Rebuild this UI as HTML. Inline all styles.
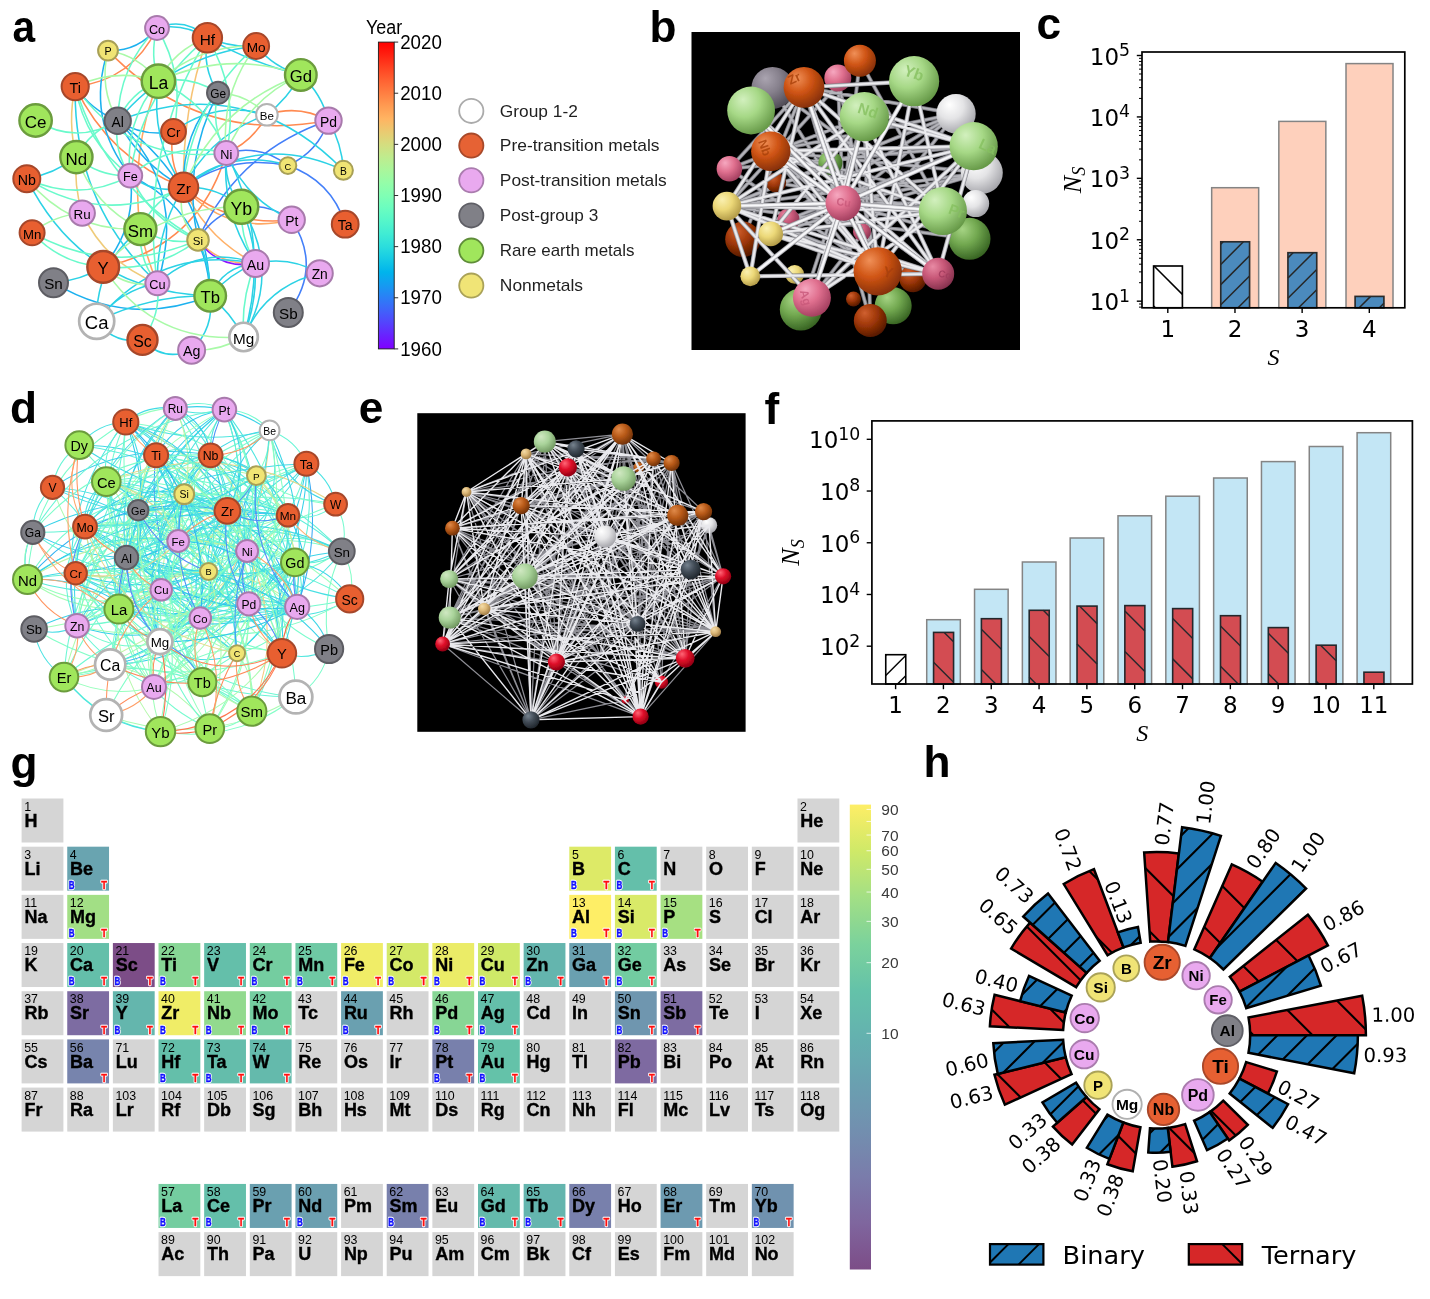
<!DOCTYPE html>
<html lang="en"><head><meta charset="utf-8"><title>Figure</title>
<style>
html,body{margin:0;padding:0;background:#fff;}
body{width:1430px;height:1299px;overflow:hidden;}
svg{display:block;}
text{font-family:"Liberation Sans","DejaVu Sans",sans-serif;}
.dj{font-family:"DejaVu Sans","Liberation Sans",sans-serif;}
.lb{font-family:"Liberation Sans",sans-serif;font-weight:bold;}
</style></head><body>
<svg width="1430" height="1299" viewBox="0 0 1430 1299">
<rect x="0" y="0" width="1430" height="1299" fill="#ffffff"/>
<!-- p_neta -->
<g fill="none" stroke-width="1.55" stroke-linecap="round" opacity="1.0"><path d="M157 28Q132.51 80.2 75.2 86.6" stroke="#ff8a51"/><path d="M108 50.6Q199.35 145.13 328.5 120.6" stroke="#ff8a51"/><path d="M266.9 114.8Q298.98 104.15 328.5 120.6" stroke="#ff8a51"/><path d="M266.9 114.8Q253.48 141.21 226.3 153" stroke="#ff8a51"/><path d="M158.4 81.2Q129.58 152.74 140.4 229.1" stroke="#ffa863"/><path d="M140.4 229.1Q146.19 257.05 157.4 283.3" stroke="#ffa863"/><path d="M75.2 86.6Q109.21 158.61 183.5 187.3" stroke="#ff8a51"/><path d="M103.2 266.9Q198.92 246.88 226.3 153" stroke="#ff8a51"/><path d="M183.5 187.3Q230.45 227.35 291.7 219.8" stroke="#ff8a51"/><path d="M183.5 187.3Q227.85 236.01 291.7 219.8" stroke="#ffa863"/><path d="M207.4 37.8Q181.99 110.4 183.5 187.3" stroke="#f7c374"/><path d="M198 239.9Q220.88 266.02 255.5 263.4" stroke="#ffb168"/><path d="M183.5 187.3Q205.8 238.31 255.5 263.4" stroke="#ffb168"/><path d="M173.5 131.5Q167.34 161.4 183.5 187.3" stroke="#ff8a51"/><path d="M75.2 86.6Q67.34 121.99 76.4 157.1" stroke="#efcb79"/><path d="M76.4 157.1Q73.7 185.68 82.2 213.1" stroke="#efcb79"/><path d="M82.2 213.1Q105.76 263.24 157.4 283.3" stroke="#efcb79"/><path d="M226.3 153Q260.25 143.9 287.9 165.6" stroke="#437ff9"/><path d="M287.9 165.6Q318.1 152.03 328.5 120.6" stroke="#437ff9"/><path d="M287.9 165.6Q331.2 180.57 345.2 224.2" stroke="#437ff9"/><path d="M287.9 165.6Q230.93 153.48 183.5 187.3" stroke="#437ff9"/><path d="M328.5 120.6Q237 151.54 198 239.9" stroke="#437ff9"/><path d="M198 239.9Q213.03 214.69 241.3 206.8" stroke="#437ff9"/><path d="M241.3 206.8Q269.1 203.22 291.7 219.8" stroke="#437ff9"/><path d="M291.7 219.8Q322.44 267.34 288.3 312.5" stroke="#437ff9"/><path d="M198 239.9Q219.23 270.05 255.5 263.4" stroke="#8a14ff"/><path d="M157 28Q138.15 51.55 108 50.6" stroke="#1cb1ef"/><path d="M75.2 86.6Q91.32 110.07 117.7 120.8" stroke="#1cb1ef"/><path d="M108 50.6Q85.4 119.12 130.3 175.6" stroke="#1cb1ef"/><path d="M117.7 120.8Q187.93 189.74 157.4 283.3" stroke="#1cb1ef"/><path d="M117.7 120.8Q143.46 137.31 173.5 131.5" stroke="#1cb1ef"/><path d="M117.7 120.8Q140.62 163.92 183.5 187.3" stroke="#1cb1ef"/><path d="M117.7 120.8Q207.7 185.18 210.2 295.8" stroke="#1cb1ef"/><path d="M218.1 92.8Q181.9 133.13 183.5 187.3" stroke="#1cb1ef"/><path d="M218.1 92.8Q181.57 162.73 198 239.9" stroke="#1cb1ef"/><path d="M53.5 282.7Q128.57 328.43 210.2 295.8" stroke="#1cb1ef"/><path d="M287.9 165.6Q229.62 147.22 183.5 187.3" stroke="#2cd2e5"/><path d="M130.3 175.6Q206.31 211.73 210.2 295.8" stroke="#1cb1ef"/><path d="M103.2 266.9Q136.84 227.21 130.3 175.6" stroke="#1cb1ef"/><path d="M157 28Q184.16 22.82 207.4 37.8" stroke="#2cd2e5"/><path d="M157 28Q185.34 16.77 207.4 37.8" stroke="#2cd2e5"/><path d="M207.4 37.8Q230.82 47.76 256.2 46" stroke="#2cd2e5"/><path d="M207.4 37.8Q251.5 62.89 300.8 74.9" stroke="#2cd2e5"/><path d="M256.2 46Q273.88 67.59 300.8 74.9" stroke="#2cd2e5"/><path d="M300.8 74.9Q287.84 98.24 266.9 114.8" stroke="#2cd2e5"/><path d="M300.8 74.9Q321.5 93.59 328.5 120.6" stroke="#2cd2e5"/><path d="M328.5 120.6Q341.91 143.66 343.4 170.3" stroke="#2cd2e5"/><path d="M256.2 46Q171.99 55.7 117.7 120.8" stroke="#2cd2e5"/><path d="M207.4 37.8Q201.75 67.44 218.1 92.8" stroke="#2cd2e5"/><path d="M26.8 178.7Q54.19 173.85 76.4 157.1" stroke="#2cd2e5"/><path d="M26.8 178.7Q83.37 292.27 210.2 295.8" stroke="#2cd2e5"/><path d="M96.7 321.3Q119.45 290.16 157.4 283.3" stroke="#2cd2e5"/><path d="M96.7 321.3Q150.39 294.93 210.2 295.8" stroke="#2cd2e5"/><path d="M96.7 321.3Q114.02 344.34 142.5 339.9" stroke="#2cd2e5"/><path d="M142.5 339.9Q163.45 362.23 191.6 350.2" stroke="#2cd2e5"/><path d="M191.6 350.2Q214.5 327.65 210.2 295.8" stroke="#2cd2e5"/><path d="M210.2 295.8Q231.02 313.06 243.6 337" stroke="#2cd2e5"/><path d="M243.6 337Q265.72 286.12 319.7 273.3" stroke="#2cd2e5"/><path d="M243.6 337Q268.49 271.44 241.3 206.8" stroke="#2cd2e5"/><path d="M255.5 263.4Q289.58 255.51 319.7 273.3" stroke="#2cd2e5"/><path d="M255.5 263.4Q228.96 274.16 210.2 295.8" stroke="#2cd2e5"/><path d="M255.5 263.4Q223.13 266.01 210.2 295.8" stroke="#2cd2e5"/><path d="M210.2 295.8Q210.81 266.39 198 239.9" stroke="#2cd2e5"/><path d="M53.5 282.7Q80.25 280.76 103.2 266.9" stroke="#2cd2e5"/><path d="M96.7 321.3Q95.5 264.27 140.4 229.1" stroke="#2cd2e5"/><path d="M183.5 187.3Q258.35 130.83 343.4 170.3" stroke="#2cd2e5"/><path d="M117.7 120.8Q246.88 71.07 343.4 170.3" stroke="#2cd2e5"/><path d="M226.3 153Q245.64 199.48 291.7 219.8" stroke="#2cd2e5"/><path d="M226.3 153Q221.03 213.46 255.5 263.4" stroke="#2cd2e5"/><path d="M226.3 153Q223.04 182.9 241.3 206.8" stroke="#2cd2e5"/><path d="M157.4 283.3Q200.48 243.92 255.5 263.4" stroke="#2cd2e5"/><path d="M96.7 321.3Q158.73 244.71 255.5 263.4" stroke="#2cd2e5"/><path d="M75.2 86.6Q73.03 203.03 157.4 283.3" stroke="#2cd2e5"/><path d="M183.5 187.3Q210.7 134.37 266.9 114.8" stroke="#2cd2e5"/><path d="M173.5 131.5Q216.02 99.8 266.9 114.8" stroke="#2cd2e5"/><path d="M226.3 153Q271.75 241.54 243.6 337" stroke="#2cd2e5"/><path d="M241.3 206.8Q281.51 271.21 243.6 337" stroke="#2cd2e5"/><path d="M158.4 81.2Q149.73 139.27 183.5 187.3" stroke="#2cd2e5"/><path d="M183.5 187.3Q216.3 185.49 241.3 206.8" stroke="#2cd2e5"/><path d="M183.5 187.3Q156.05 231.39 157.4 283.3" stroke="#2cd2e5"/><path d="M130.3 175.6Q153.97 194.75 183.5 187.3" stroke="#2cd2e5"/><path d="M157 28Q149.72 54.81 158.4 81.2" stroke="#6afacb"/><path d="M157 28Q118.79 66.54 117.7 120.8" stroke="#6afacb"/><path d="M157 28Q185.95 76.45 173.5 131.5" stroke="#6afacb"/><path d="M158.4 81.2Q130.13 92.86 117.7 120.8" stroke="#6afacb"/><path d="M158.4 81.2Q208.15 102.16 226.3 153" stroke="#6afacb"/><path d="M158.4 81.2Q123.58 122.22 130.3 175.6" stroke="#6afacb"/><path d="M158.4 81.2Q190.57 75.06 218.1 92.8" stroke="#6afacb"/><path d="M35.6 120.5Q76.56 145.28 117.7 120.8" stroke="#6afacb"/><path d="M32.1 232.8Q60.83 264.07 103.2 266.9" stroke="#6afacb"/><path d="M32.1 232.8Q113.28 277.83 198 239.9" stroke="#6afacb"/><path d="M26.8 178.7Q79.33 203.02 130.3 175.6" stroke="#6afacb"/><path d="M26.8 178.7Q102.74 226.88 183.5 187.3" stroke="#6afacb"/><path d="M207.4 37.8Q141.29 91.28 130.3 175.6" stroke="#6afacb"/><path d="M207.4 37.8Q239.89 91.62 226.3 153" stroke="#6afacb"/><path d="M207.4 37.8Q138.21 151.55 157.4 283.3" stroke="#6afacb"/><path d="M75.2 86.6Q105.94 187.81 198 239.9" stroke="#6afacb"/><path d="M75.2 86.6Q84.95 142.12 130.3 175.6" stroke="#6afacb"/><path d="M75.2 86.6Q130.83 165.13 226.3 153" stroke="#6afacb"/><path d="M256.2 46Q191.59 102.11 183.5 187.3" stroke="#6afacb"/><path d="M142.5 339.9Q161.27 314.58 157.4 283.3" stroke="#6afacb"/><path d="M103.2 266.9Q156 272.36 198 239.9" stroke="#6afacb"/><path d="M140.4 229.1Q153.59 199.58 183.5 187.3" stroke="#6afacb"/><path d="M140.4 229.1Q138.06 259.6 157.4 283.3" stroke="#6afacb"/><path d="M76.4 157.1Q99.65 177.13 130.3 175.6" stroke="#6afacb"/><path d="M76.4 157.1Q89.79 130.69 117.7 120.8" stroke="#6afacb"/><path d="M130.3 175.6Q151.29 221.29 198 239.9" stroke="#6afacb"/><path d="M243.6 337Q240.72 298.77 255.5 263.4" stroke="#6afacb"/><path d="M218.1 92.8Q210.16 124.54 226.3 153" stroke="#6afacb"/><path d="M140.4 229.1Q167.04 246.02 198 239.9" stroke="#6afacb"/><path d="M130.3 175.6Q172.65 140.3 226.3 153" stroke="#6afacb"/><path d="M117.7 120.8Q113.04 150.72 130.3 175.6" stroke="#6afacb"/><path d="M241.3 206.8Q239.91 237.23 255.5 263.4" stroke="#6afacb"/><path d="M108 50.6Q139.32 55.82 158.4 81.2" stroke="#a9faa8"/><path d="M108 50.6Q98.81 87.64 117.7 120.8" stroke="#a9faa8"/><path d="M32.1 232.8Q54.2 215.44 82.2 213.1" stroke="#a9faa8"/><path d="M300.8 74.9Q228.34 49.57 158.4 81.2" stroke="#a9faa8"/><path d="M300.8 74.9Q247.93 99.05 226.3 153" stroke="#a9faa8"/><path d="M300.8 74.9Q217.42 105.29 183.5 187.3" stroke="#a9faa8"/><path d="M256.2 46Q219.85 93.52 226.3 153" stroke="#a9faa8"/><path d="M256.2 46Q200.26 44.04 158.4 81.2" stroke="#a9faa8"/><path d="M103.2 266.9Q152.37 344.07 243.6 337" stroke="#a9faa8"/><path d="M191.6 350.2Q219.58 351.4 243.6 337" stroke="#a9faa8"/><path d="M103.2 266.9Q126.2 288.65 157.4 283.3" stroke="#a9faa8"/><path d="M26.8 178.7Q71 232.3 140.4 229.1" stroke="#a9faa8"/><path d="M76.4 157.1Q94 205.9 140.4 229.1" stroke="#a9faa8"/><path d="M207.4 37.8Q174.22 49.7 158.4 81.2" stroke="#a9faa8"/><path d="M266.9 114.8Q246.9 94.04 218.1 92.8" stroke="#a9faa8"/><path d="M183.5 187.3Q174.97 217.95 198 239.9" stroke="#a9faa8"/><path d="M75.2 86.6Q115.72 67.26 158.4 81.2" stroke="#a9faa8"/><path d="M103.2 266.9Q159.03 206.47 241.3 206.8" stroke="#a9faa8"/></g>
<g><circle cx="157" cy="28" r="11.9" fill="#e9a9ef" stroke="#a87aac" stroke-width="2.0"/><circle cx="207.4" cy="37.8" r="14.7" fill="#e85f30" stroke="#a6472a" stroke-width="2.0"/><circle cx="256.2" cy="46" r="12.9" fill="#e85f30" stroke="#a6472a" stroke-width="2.0"/><circle cx="108" cy="50.6" r="9.9" fill="#f0e474" stroke="#a8a056" stroke-width="2.0"/><circle cx="158.4" cy="81.2" r="16.7" fill="#a0e65c" stroke="#6b9c3d" stroke-width="2.4"/><circle cx="300.8" cy="74.9" r="15.8" fill="#a0e65c" stroke="#6b9c3d" stroke-width="2.4"/><circle cx="75.2" cy="86.6" r="13.6" fill="#e85f30" stroke="#a6472a" stroke-width="2.0"/><circle cx="218.1" cy="92.8" r="11.1" fill="#808087" stroke="#5d5d63" stroke-width="2.0"/><circle cx="35.6" cy="120.5" r="16.2" fill="#a0e65c" stroke="#6b9c3d" stroke-width="2.4"/><circle cx="117.7" cy="120.8" r="13.2" fill="#808087" stroke="#5d5d63" stroke-width="2.0"/><circle cx="266.9" cy="114.8" r="10.8" fill="#ffffff" stroke="#b3b3b3" stroke-width="2.0"/><circle cx="328.5" cy="120.6" r="13.2" fill="#e9a9ef" stroke="#a87aac" stroke-width="2.0"/><circle cx="173.5" cy="131.5" r="12.4" fill="#e85f30" stroke="#a6472a" stroke-width="2.0"/><circle cx="76.4" cy="157.1" r="16.1" fill="#a0e65c" stroke="#6b9c3d" stroke-width="2.4"/><circle cx="226.3" cy="153" r="11.9" fill="#e9a9ef" stroke="#a87aac" stroke-width="2.0"/><circle cx="287.9" cy="165.6" r="8.4" fill="#f0e474" stroke="#a8a056" stroke-width="2.0"/><circle cx="343.4" cy="170.3" r="9.5" fill="#f0e474" stroke="#a8a056" stroke-width="2.0"/><circle cx="26.8" cy="178.7" r="13.5" fill="#e85f30" stroke="#a6472a" stroke-width="2.0"/><circle cx="130.3" cy="175.6" r="11.9" fill="#e9a9ef" stroke="#a87aac" stroke-width="2.0"/><circle cx="183.5" cy="187.3" r="14.8" fill="#e85f30" stroke="#a6472a" stroke-width="2.0"/><circle cx="241.3" cy="206.8" r="17" fill="#a0e65c" stroke="#6b9c3d" stroke-width="2.4"/><circle cx="82.2" cy="213.1" r="12.7" fill="#e9a9ef" stroke="#a87aac" stroke-width="2.0"/><circle cx="291.7" cy="219.8" r="13.2" fill="#e9a9ef" stroke="#a87aac" stroke-width="2.0"/><circle cx="345.2" cy="224.2" r="13.4" fill="#e85f30" stroke="#a6472a" stroke-width="2.0"/><circle cx="32.1" cy="232.8" r="12.5" fill="#e85f30" stroke="#a6472a" stroke-width="2.0"/><circle cx="140.4" cy="229.1" r="16" fill="#a0e65c" stroke="#6b9c3d" stroke-width="2.4"/><circle cx="198" cy="239.9" r="10.8" fill="#f0e474" stroke="#a8a056" stroke-width="2.0"/><circle cx="103.2" cy="266.9" r="15.9" fill="#e85f30" stroke="#a6472a" stroke-width="2.4"/><circle cx="255.5" cy="263.4" r="13.5" fill="#e9a9ef" stroke="#a87aac" stroke-width="2.0"/><circle cx="319.7" cy="273.3" r="13.1" fill="#e9a9ef" stroke="#a87aac" stroke-width="2.0"/><circle cx="53.5" cy="282.7" r="14.5" fill="#808087" stroke="#5d5d63" stroke-width="2.0"/><circle cx="157.4" cy="283.3" r="12" fill="#e9a9ef" stroke="#a87aac" stroke-width="2.0"/><circle cx="210.2" cy="295.8" r="15.8" fill="#a0e65c" stroke="#6b9c3d" stroke-width="2.4"/><circle cx="288.3" cy="312.5" r="14.5" fill="#808087" stroke="#5d5d63" stroke-width="2.0"/><circle cx="96.7" cy="321.3" r="17.55" fill="#ffffff" stroke="#b3b3b3" stroke-width="2.7"/><circle cx="142.5" cy="339.9" r="15" fill="#e85f30" stroke="#a6472a" stroke-width="2.4"/><circle cx="243.6" cy="337" r="14.25" fill="#ffffff" stroke="#b3b3b3" stroke-width="2.7"/><circle cx="191.6" cy="350.2" r="13.5" fill="#e9a9ef" stroke="#a87aac" stroke-width="2.0"/></g><g text-anchor="middle" fill="#000"><text x="157" y="33.56" font-size="12.64">Co</text><text x="207.4" y="44.57" font-size="15.39">Hf</text><text x="256.2" y="51.99" font-size="13.62">Mo</text><text x="108" y="55.3" font-size="10.68">P</text><text x="158.4" y="88.92" font-size="17.54">La</text><text x="300.8" y="82.23" font-size="16.66">Gd</text><text x="75.2" y="92.9" font-size="14.31">Ti</text><text x="218.1" y="98.02" font-size="11.86">Ge</text><text x="35.6" y="128" font-size="17.05">Ce</text><text x="117.7" y="126.92" font-size="13.92">Al</text><text x="266.9" y="119.89" font-size="11.56">Be</text><text x="328.5" y="126.72" font-size="13.92">Pd</text><text x="173.5" y="137.28" font-size="13.13">Cr</text><text x="76.4" y="164.56" font-size="16.95">Nd</text><text x="226.3" y="158.56" font-size="12.64">Ni</text><text x="287.9" y="169.65" font-size="9.21">C</text><text x="343.4" y="174.83" font-size="10.29">B</text><text x="26.8" y="184.95" font-size="14.21">Nb</text><text x="130.3" y="181.16" font-size="12.64">Fe</text><text x="183.5" y="194.11" font-size="15.48">Zr</text><text x="241.3" y="214.65" font-size="17.84">Yb</text><text x="82.2" y="219.01" font-size="13.43">Ru</text><text x="291.7" y="225.92" font-size="13.92">Pt</text><text x="345.2" y="230.41" font-size="14.11">Ta</text><text x="32.1" y="238.62" font-size="13.23">Mn</text><text x="140.4" y="236.52" font-size="16.86">Sm</text><text x="198" y="244.99" font-size="11.56">Si</text><text x="103.2" y="274.27" font-size="16.76">Y</text><text x="255.5" y="269.65" font-size="14.21">Au</text><text x="319.7" y="279.38" font-size="13.82">Zn</text><text x="53.5" y="289.38" font-size="15.19">Sn</text><text x="157.4" y="288.91" font-size="12.74">Cu</text><text x="210.2" y="303.13" font-size="16.66">Tb</text><text x="288.3" y="319.18" font-size="15.19">Sb</text><text x="96.7" y="329.45" font-size="18.52">Ca</text><text x="142.5" y="346.89" font-size="15.88">Sc</text><text x="243.6" y="343.73" font-size="15.29">Mg</text><text x="191.6" y="356.45" font-size="14.21">Ag</text></g>
<!-- p_legend -->
<defs><linearGradient id="grain" x1="0" y1="0" x2="0" y2="1"><stop offset="0.000" stop-color="#ff0000"/><stop offset="0.042" stop-color="#ff2111"/><stop offset="0.083" stop-color="#ff4221"/><stop offset="0.125" stop-color="#ff6232"/><stop offset="0.167" stop-color="#ff7f42"/><stop offset="0.208" stop-color="#ff9b52"/><stop offset="0.250" stop-color="#ffb462"/><stop offset="0.292" stop-color="#eaca71"/><stop offset="0.333" stop-color="#d5dd7f"/><stop offset="0.375" stop-color="#bfec8e"/><stop offset="0.417" stop-color="#aaf69b"/><stop offset="0.458" stop-color="#95fda8"/><stop offset="0.500" stop-color="#80ffb4"/><stop offset="0.542" stop-color="#6afdc0"/><stop offset="0.583" stop-color="#55f6ca"/><stop offset="0.625" stop-color="#40ecd4"/><stop offset="0.667" stop-color="#2bdddd"/><stop offset="0.708" stop-color="#15cae5"/><stop offset="0.750" stop-color="#00b4ec"/><stop offset="0.792" stop-color="#159bf1"/><stop offset="0.833" stop-color="#2b7ff6"/><stop offset="0.875" stop-color="#4062fa"/><stop offset="0.917" stop-color="#5542fd"/><stop offset="0.958" stop-color="#6a21fe"/><stop offset="1.000" stop-color="#8000ff"/></linearGradient></defs>
<rect x="378.4" y="42.1" width="15.8" height="306.8" fill="url(#grain)" stroke="#1a1a1a" stroke-width="0.9"/>
<g stroke="#1a1a1a" stroke-width="0.9"><line x1="394.2" y1="42.1" x2="398.2" y2="42.1"/><line x1="394.2" y1="93.23" x2="398.2" y2="93.23"/><line x1="394.2" y1="144.37" x2="398.2" y2="144.37"/><line x1="394.2" y1="195.5" x2="398.2" y2="195.5"/><line x1="394.2" y1="246.63" x2="398.2" y2="246.63"/><line x1="394.2" y1="297.77" x2="398.2" y2="297.77"/><line x1="394.2" y1="348.9" x2="398.2" y2="348.9"/></g>
<g font-size="19.8" fill="#000"><text x="400.2" y="48.8" textLength="41.6" lengthAdjust="spacingAndGlyphs">2020</text><text x="400.2" y="99.93" textLength="41.6" lengthAdjust="spacingAndGlyphs">2010</text><text x="400.2" y="151.07" textLength="41.6" lengthAdjust="spacingAndGlyphs">2000</text><text x="400.2" y="202.2" textLength="41.6" lengthAdjust="spacingAndGlyphs">1990</text><text x="400.2" y="253.33" textLength="41.6" lengthAdjust="spacingAndGlyphs">1980</text><text x="400.2" y="304.47" textLength="41.6" lengthAdjust="spacingAndGlyphs">1970</text><text x="400.2" y="355.6" textLength="41.6" lengthAdjust="spacingAndGlyphs">1960</text></g>
<text x="366.0" y="34.0" font-size="19.6" fill="#000" textLength="36.2" lengthAdjust="spacingAndGlyphs">Year</text>
<circle cx="471.3" cy="110.9" r="12.1" fill="#ffffff" stroke="#ababab" stroke-width="1.8"/>
<text x="499.8" y="116.6" font-size="17" fill="#1f1f1f" textLength="78.0" lengthAdjust="spacingAndGlyphs">Group 1-2</text>
<circle cx="471.3" cy="145.6" r="12.1" fill="#e66234" stroke="#a8492a" stroke-width="1.8"/>
<text x="499.8" y="151.3" font-size="17" fill="#1f1f1f" textLength="159.7" lengthAdjust="spacingAndGlyphs">Pre-transition metals</text>
<circle cx="471.3" cy="180.3" r="12.1" fill="#e9a9ef" stroke="#aa7cae" stroke-width="1.8"/>
<text x="499.8" y="186" font-size="17" fill="#1f1f1f" textLength="167.0" lengthAdjust="spacingAndGlyphs">Post-transition metals</text>
<circle cx="471.3" cy="215.4" r="12.1" fill="#808087" stroke="#5f5f66" stroke-width="1.8"/>
<text x="499.8" y="221.1" font-size="17" fill="#1f1f1f" textLength="98.5" lengthAdjust="spacingAndGlyphs">Post-group 3</text>
<circle cx="471.3" cy="250.6" r="12.1" fill="#a0e65c" stroke="#5f8d39" stroke-width="1.8"/>
<text x="499.8" y="256.3" font-size="17" fill="#1f1f1f" textLength="134.7" lengthAdjust="spacingAndGlyphs">Rare earth metals</text>
<circle cx="471.3" cy="285.6" r="12.1" fill="#f0e476" stroke="#aaa258" stroke-width="1.8"/>
<text x="499.8" y="291.3" font-size="17" fill="#1f1f1f" textLength="83.3" lengthAdjust="spacingAndGlyphs">Nonmetals</text>
<!-- p_imgb -->
<defs><radialGradient id="b_dgreen" cx="0.38" cy="0.33" r="0.75" fx="0.33" fy="0.27"><stop offset="0" stop-color="#a6d484"/><stop offset="0.45" stop-color="#72a850"/><stop offset="1" stop-color="#2f5a1c"/></radialGradient><radialGradient id="b_dorange" cx="0.38" cy="0.33" r="0.75" fx="0.33" fy="0.27"><stop offset="0" stop-color="#d06030"/><stop offset="0.45" stop-color="#a03808"/><stop offset="1" stop-color="#4a1400"/></radialGradient><radialGradient id="b_dpink" cx="0.38" cy="0.33" r="0.75" fx="0.33" fy="0.27"><stop offset="0" stop-color="#e88aa4"/><stop offset="0.45" stop-color="#c85878"/><stop offset="1" stop-color="#7c2c48"/></radialGradient><radialGradient id="b_gray" cx="0.38" cy="0.33" r="0.75" fx="0.33" fy="0.27"><stop offset="0" stop-color="#aaa4b0"/><stop offset="0.45" stop-color="#86808c"/><stop offset="1" stop-color="#48444e"/></radialGradient><radialGradient id="b_green" cx="0.38" cy="0.33" r="0.75" fx="0.33" fy="0.27"><stop offset="0" stop-color="#d2f0be"/><stop offset="0.45" stop-color="#a6d886"/><stop offset="1" stop-color="#5c8f3e"/></radialGradient><radialGradient id="b_orange" cx="0.38" cy="0.33" r="0.75" fx="0.33" fy="0.27"><stop offset="0" stop-color="#f09058"/><stop offset="0.45" stop-color="#cf5414"/><stop offset="1" stop-color="#7a2a04"/></radialGradient><radialGradient id="b_pink" cx="0.38" cy="0.33" r="0.75" fx="0.33" fy="0.27"><stop offset="0" stop-color="#f6a8c0"/><stop offset="0.45" stop-color="#e0708f"/><stop offset="1" stop-color="#9a3858"/></radialGradient><radialGradient id="b_white" cx="0.38" cy="0.33" r="0.75" fx="0.33" fy="0.27"><stop offset="0" stop-color="#ffffff"/><stop offset="0.45" stop-color="#e4e4e6"/><stop offset="1" stop-color="#9c9ca2"/></radialGradient><radialGradient id="b_yellow" cx="0.38" cy="0.33" r="0.75" fx="0.33" fy="0.27"><stop offset="0" stop-color="#faf0b0"/><stop offset="0.45" stop-color="#ecd878"/><stop offset="1" stop-color="#a89040"/></radialGradient><clipPath id="clipb"><rect x="691.5" y="32.0" width="328.5" height="318"/></clipPath><filter id="softb" x="-5%" y="-5%" width="110%" height="110%"><feGaussianBlur stdDeviation="0.5"/></filter></defs>
<rect x="691.5" y="32.0" width="328.5" height="318" fill="#000"/>
<g clip-path="url(#clipb)"><g filter="url(#softb)"><path d="M772.5 87.9L843.2 203.1M837.8 78L843.2 203.1M981.8 172.8L770.8 151.2M981.8 172.8L843.2 203.1M975.7 203.6L726.9 206.1M969.5 238.8L726.9 206.1M969.5 238.8L843.2 203.1M742.9 239.3L942.9 211M800.8 309.5L864.4 116.7M893.2 305.8L770.8 151.2M870.3 320.6L804 87.4M912.9 278.7L770.8 151.2M830.4 163L726.9 206.1M788.5 219.6L973.7 146.2M776.2 182.7L942.9 211M729.4 168.7L973.7 146.2M729.4 168.7L877.7 271.3M956 113.7L726.9 206.1M956 113.7L770.8 151.2M956 113.7L811.9 297.7M859.9 60.8L843.2 203.1M859.9 60.8L726.9 206.1M859.9 60.8L942.9 211M772.5 87.9L942.9 211M981.8 172.8L770.8 233.9M742.9 239.3L956 113.7M870.3 320.6L864.4 116.7M800.8 309.5L973.7 146.2M912.9 278.7L726.9 206.1M837.8 78L877.7 271.3M975.7 203.6L770.8 151.2M956 113.7L843.2 203.1M956 113.7L804 87.4M981.8 172.8L726.9 206.1M975.7 203.6L843.2 203.1M969.5 238.8L770.8 151.2M729.4 168.7L804 87.4M742.9 239.3L804 87.4M729.4 168.7L864.4 116.7M742.9 239.3L843.2 203.1" stroke="#5e5e64" stroke-width="4.0" fill="none" stroke-linecap="round"/><path d="M772.5 87.9L843.2 203.1M837.8 78L843.2 203.1M981.8 172.8L770.8 151.2M981.8 172.8L843.2 203.1M975.7 203.6L726.9 206.1M969.5 238.8L726.9 206.1M969.5 238.8L843.2 203.1M742.9 239.3L942.9 211M800.8 309.5L864.4 116.7M893.2 305.8L770.8 151.2M870.3 320.6L804 87.4M912.9 278.7L770.8 151.2M830.4 163L726.9 206.1M788.5 219.6L973.7 146.2M776.2 182.7L942.9 211M729.4 168.7L973.7 146.2M729.4 168.7L877.7 271.3M956 113.7L726.9 206.1M956 113.7L770.8 151.2M956 113.7L811.9 297.7M859.9 60.8L843.2 203.1M859.9 60.8L726.9 206.1M859.9 60.8L942.9 211M772.5 87.9L942.9 211M981.8 172.8L770.8 233.9M742.9 239.3L956 113.7M870.3 320.6L864.4 116.7M800.8 309.5L973.7 146.2M912.9 278.7L726.9 206.1M837.8 78L877.7 271.3M975.7 203.6L770.8 151.2M956 113.7L843.2 203.1M956 113.7L804 87.4M981.8 172.8L726.9 206.1M975.7 203.6L843.2 203.1M969.5 238.8L770.8 151.2M729.4 168.7L804 87.4M742.9 239.3L804 87.4M729.4 168.7L864.4 116.7M742.9 239.3L843.2 203.1" stroke="#8e8e94" stroke-width="3.12" fill="none" stroke-linecap="round"/><path d="M772.5 87.9L843.2 203.1M837.8 78L843.2 203.1M981.8 172.8L770.8 151.2M981.8 172.8L843.2 203.1M975.7 203.6L726.9 206.1M969.5 238.8L726.9 206.1M969.5 238.8L843.2 203.1M742.9 239.3L942.9 211M800.8 309.5L864.4 116.7M893.2 305.8L770.8 151.2M870.3 320.6L804 87.4M912.9 278.7L770.8 151.2M830.4 163L726.9 206.1M788.5 219.6L973.7 146.2M776.2 182.7L942.9 211M729.4 168.7L973.7 146.2M729.4 168.7L877.7 271.3M956 113.7L726.9 206.1M956 113.7L770.8 151.2M956 113.7L811.9 297.7M859.9 60.8L843.2 203.1M859.9 60.8L726.9 206.1M859.9 60.8L942.9 211M772.5 87.9L942.9 211M981.8 172.8L770.8 233.9M742.9 239.3L956 113.7M870.3 320.6L864.4 116.7M800.8 309.5L973.7 146.2M912.9 278.7L726.9 206.1M837.8 78L877.7 271.3M975.7 203.6L770.8 151.2M956 113.7L843.2 203.1M956 113.7L804 87.4M981.8 172.8L726.9 206.1M975.7 203.6L843.2 203.1M969.5 238.8L770.8 151.2M729.4 168.7L804 87.4M742.9 239.3L804 87.4M729.4 168.7L864.4 116.7M742.9 239.3L843.2 203.1" stroke="#b4b4ba" stroke-width="1.8" fill="none" stroke-linecap="round"/><circle cx="772.5" cy="87.9" r="21" fill="url(#b_gray)"/><circle cx="837.8" cy="78" r="13.5" fill="url(#b_pink)"/><circle cx="981.8" cy="172.8" r="21" fill="url(#b_white)"/><circle cx="975.7" cy="203.6" r="13.5" fill="url(#b_white)"/><circle cx="969.5" cy="238.8" r="21" fill="url(#b_dgreen)"/><circle cx="742.9" cy="239.3" r="17.7" fill="url(#b_dorange)"/><circle cx="800.8" cy="309.5" r="21" fill="url(#b_dgreen)"/><circle cx="893.2" cy="305.8" r="18.5" fill="url(#b_dgreen)"/><circle cx="870.3" cy="320.6" r="16.5" fill="url(#b_dorange)"/><circle cx="912.9" cy="278.7" r="13.5" fill="url(#b_dorange)"/><circle cx="830.4" cy="163" r="12" fill="url(#b_dgreen)"/><circle cx="788.5" cy="219.6" r="11" fill="url(#b_dpink)"/><circle cx="776.2" cy="182.7" r="10" fill="url(#b_dorange)"/><circle cx="853.5" cy="299" r="7.5" fill="url(#b_dorange)"/><circle cx="862" cy="232" r="9" fill="url(#b_dpink)"/><circle cx="794.7" cy="274.3" r="9.4" fill="url(#b_yellow)"/><circle cx="729.4" cy="168.7" r="12.8" fill="url(#b_pink)"/><circle cx="956" cy="113.7" r="19.7" fill="url(#b_white)"/><circle cx="859.9" cy="60.8" r="16" fill="url(#b_orange)"/><path d="M804 87.4L914.1 81.2M804 87.4L973.7 146.2M804 87.4L942.9 211M804 87.4L877.7 271.3M804 87.4L938.2 273.8M804 87.4L726.9 206.1M804 87.4L770.8 233.9M770.8 151.2L973.7 146.2M770.8 151.2L942.9 211M770.8 151.2L877.7 271.3M770.8 151.2L938.2 273.8M770.8 151.2L750.3 276.3M726.9 206.1L864.4 116.7M726.9 206.1L973.7 146.2M726.9 206.1L942.9 211M726.9 206.1L877.7 271.3M726.9 206.1L938.2 273.8M726.9 206.1L750.3 276.3M726.9 206.1L811.9 297.7M770.8 233.9L942.9 211M770.8 233.9L877.7 271.3M770.8 233.9L938.2 273.8M770.8 233.9L864.4 116.7M750.3 276.3L938.2 273.8M811.9 297.7L864.4 116.7M811.9 297.7L942.9 211M811.9 297.7L973.7 146.2M877.7 271.3L864.4 116.7M877.7 271.3L973.7 146.2M877.7 271.3L914.1 81.2M938.2 273.8L864.4 116.7M938.2 273.8L973.7 146.2M751.1 110.5L877.7 271.3M751.1 110.5L938.2 273.8M864.4 116.7L973.7 146.2M914.1 81.2L942.9 211" stroke="#7c7c82" stroke-width="4.4" fill="none" stroke-linecap="round"/><path d="M804 87.4L914.1 81.2M804 87.4L973.7 146.2M804 87.4L942.9 211M804 87.4L877.7 271.3M804 87.4L938.2 273.8M804 87.4L726.9 206.1M804 87.4L770.8 233.9M770.8 151.2L973.7 146.2M770.8 151.2L942.9 211M770.8 151.2L877.7 271.3M770.8 151.2L938.2 273.8M770.8 151.2L750.3 276.3M726.9 206.1L864.4 116.7M726.9 206.1L973.7 146.2M726.9 206.1L942.9 211M726.9 206.1L877.7 271.3M726.9 206.1L938.2 273.8M726.9 206.1L750.3 276.3M726.9 206.1L811.9 297.7M770.8 233.9L942.9 211M770.8 233.9L877.7 271.3M770.8 233.9L938.2 273.8M770.8 233.9L864.4 116.7M750.3 276.3L938.2 273.8M811.9 297.7L864.4 116.7M811.9 297.7L942.9 211M811.9 297.7L973.7 146.2M877.7 271.3L864.4 116.7M877.7 271.3L973.7 146.2M877.7 271.3L914.1 81.2M938.2 273.8L864.4 116.7M938.2 273.8L973.7 146.2M751.1 110.5L877.7 271.3M751.1 110.5L938.2 273.8M864.4 116.7L973.7 146.2M914.1 81.2L942.9 211" stroke="#c4c4c9" stroke-width="3.43" fill="none" stroke-linecap="round"/><path d="M804 87.4L914.1 81.2M804 87.4L973.7 146.2M804 87.4L942.9 211M804 87.4L877.7 271.3M804 87.4L938.2 273.8M804 87.4L726.9 206.1M804 87.4L770.8 233.9M770.8 151.2L973.7 146.2M770.8 151.2L942.9 211M770.8 151.2L877.7 271.3M770.8 151.2L938.2 273.8M770.8 151.2L750.3 276.3M726.9 206.1L864.4 116.7M726.9 206.1L973.7 146.2M726.9 206.1L942.9 211M726.9 206.1L877.7 271.3M726.9 206.1L938.2 273.8M726.9 206.1L750.3 276.3M726.9 206.1L811.9 297.7M770.8 233.9L942.9 211M770.8 233.9L877.7 271.3M770.8 233.9L938.2 273.8M770.8 233.9L864.4 116.7M750.3 276.3L938.2 273.8M811.9 297.7L864.4 116.7M811.9 297.7L942.9 211M811.9 297.7L973.7 146.2M877.7 271.3L864.4 116.7M877.7 271.3L973.7 146.2M877.7 271.3L914.1 81.2M938.2 273.8L864.4 116.7M938.2 273.8L973.7 146.2M751.1 110.5L877.7 271.3M751.1 110.5L938.2 273.8M864.4 116.7L973.7 146.2M914.1 81.2L942.9 211" stroke="#ececef" stroke-width="1.85" fill="none" stroke-linecap="round"/><path d="M843.2 203.1L864.4 116.7M843.2 203.1L914.1 81.2M843.2 203.1L973.7 146.2M843.2 203.1L942.9 211M843.2 203.1L938.2 273.8M843.2 203.1L877.7 271.3M843.2 203.1L811.9 297.7M843.2 203.1L770.8 233.9M843.2 203.1L726.9 206.1M843.2 203.1L770.8 151.2M843.2 203.1L804 87.4M843.2 203.1L751.1 110.5M843.2 203.1L750.3 276.3" stroke="#88888e" stroke-width="4.6" fill="none" stroke-linecap="round"/><path d="M843.2 203.1L864.4 116.7M843.2 203.1L914.1 81.2M843.2 203.1L973.7 146.2M843.2 203.1L942.9 211M843.2 203.1L938.2 273.8M843.2 203.1L877.7 271.3M843.2 203.1L811.9 297.7M843.2 203.1L770.8 233.9M843.2 203.1L726.9 206.1M843.2 203.1L770.8 151.2M843.2 203.1L804 87.4M843.2 203.1L751.1 110.5M843.2 203.1L750.3 276.3" stroke="#d2d2d6" stroke-width="3.59" fill="none" stroke-linecap="round"/><path d="M843.2 203.1L864.4 116.7M843.2 203.1L914.1 81.2M843.2 203.1L973.7 146.2M843.2 203.1L942.9 211M843.2 203.1L938.2 273.8M843.2 203.1L877.7 271.3M843.2 203.1L811.9 297.7M843.2 203.1L770.8 233.9M843.2 203.1L726.9 206.1M843.2 203.1L770.8 151.2M843.2 203.1L804 87.4M843.2 203.1L751.1 110.5M843.2 203.1L750.3 276.3" stroke="#f8f8fa" stroke-width="1.93" fill="none" stroke-linecap="round"/><circle cx="751.1" cy="110.5" r="23.9" fill="url(#b_green)"/><circle cx="804" cy="87.4" r="20.4" fill="url(#b_orange)"/><circle cx="914.1" cy="81.2" r="25.1" fill="url(#b_green)"/><circle cx="864.4" cy="116.7" r="24.6" fill="url(#b_green)"/><circle cx="973.7" cy="146.2" r="24.1" fill="url(#b_green)"/><circle cx="770.8" cy="151.2" r="19.7" fill="url(#b_orange)"/><circle cx="726.9" cy="206.1" r="14.3" fill="url(#b_yellow)"/><circle cx="942.9" cy="211" r="24.1" fill="url(#b_green)"/><circle cx="770.8" cy="233.9" r="12.3" fill="url(#b_yellow)"/><circle cx="938.2" cy="273.8" r="16" fill="url(#b_dpink)"/><circle cx="750.3" cy="276.3" r="9.9" fill="url(#b_yellow)"/><circle cx="811.9" cy="297.7" r="19" fill="url(#b_pink)"/><circle cx="877.7" cy="271.3" r="24.1" fill="url(#b_orange)"/><circle cx="843.2" cy="203.1" r="17.7" fill="url(#b_pink)"/><text transform="translate(843.2,206.1) rotate(8)" font-size="10.97" font-weight="bold" text-anchor="middle" fill="#c8587a" opacity="0.8">Cu</text><text transform="translate(866.4,115.7) rotate(18)" font-size="15.25" font-weight="bold" text-anchor="middle" fill="#86c060" opacity="0.8">Nd</text><text transform="translate(912.1,78.2) rotate(20)" font-size="15.56" font-weight="bold" text-anchor="middle" fill="#86c060" opacity="0.8">Yb</text><text transform="translate(796,82.4) rotate(-25)" font-size="12.65" font-weight="bold" text-anchor="middle" fill="#a84008" opacity="0.8">Zr</text><text transform="translate(954.9,216) rotate(20)" font-size="14.94" font-weight="bold" text-anchor="middle" fill="#86c060" opacity="0.8">Pr</text><text transform="translate(985.7,151.2) rotate(25)" font-size="14.94" font-weight="bold" text-anchor="middle" fill="#86c060" opacity="0.8">La</text><text transform="translate(886.7,277.3) rotate(15)" font-size="14.94" font-weight="bold" text-anchor="middle" fill="#a84008" opacity="0.8">Y</text><text transform="translate(944.2,277.8) rotate(12)" font-size="9.92" font-weight="bold" text-anchor="middle" fill="#a03a5c" opacity="0.8">Co</text><text transform="translate(801.9,298.7) rotate(75)" font-size="11.78" font-weight="bold" text-anchor="middle" fill="#c8587a" opacity="0.8">Ag</text><text transform="translate(760.8,149.2) rotate(70)" font-size="12.21" font-weight="bold" text-anchor="middle" fill="#a84008" opacity="0.8">Nb</text></g></g>
<!-- p_chartc -->
<rect x="1211.67" y="187.7" width="47" height="120.1" fill="#fed0bc" stroke="#848484" stroke-width="1.5" />
<rect x="1278.84" y="121.4" width="47" height="186.4" fill="#fed0bc" stroke="#848484" stroke-width="1.5" />
<rect x="1346.01" y="63.6" width="47" height="244.2" fill="#fed0bc" stroke="#848484" stroke-width="1.5" />
<rect x="1220.77" y="241.8" width="28.8" height="66" fill="#4b8abd" />
<g stroke="#262626" stroke-width="1.5" stroke-linecap="butt"><line x1="1220.77" y1="244.23" x2="1223.2" y2="241.8"/><line x1="1220.77" y1="264.43" x2="1243.4" y2="241.8"/><line x1="1220.77" y1="284.63" x2="1249.57" y2="255.83"/><line x1="1220.77" y1="304.83" x2="1249.57" y2="276.03"/><line x1="1238" y1="307.8" x2="1249.57" y2="296.23"/></g>
<rect x="1220.77" y="241.8" width="28.8" height="66" fill="none" stroke="#2a2a2a" stroke-width="1.65" />
<rect x="1287.94" y="252.7" width="28.8" height="55.1" fill="#4b8abd" />
<g stroke="#262626" stroke-width="1.5" stroke-linecap="butt"><line x1="1287.94" y1="257.86" x2="1293.1" y2="252.7"/><line x1="1287.94" y1="278.06" x2="1313.3" y2="252.7"/><line x1="1287.94" y1="298.26" x2="1316.74" y2="269.46"/><line x1="1298.6" y1="307.8" x2="1316.74" y2="289.66"/></g>
<rect x="1287.94" y="252.7" width="28.8" height="55.1" fill="none" stroke="#2a2a2a" stroke-width="1.65" />
<rect x="1355.11" y="296.4" width="28.8" height="11.4" fill="#4b8abd" />
<g stroke="#262626" stroke-width="1.5" stroke-linecap="butt"><line x1="1359.2" y1="307.8" x2="1370.6" y2="296.4"/><line x1="1379.4" y1="307.8" x2="1383.91" y2="303.29"/></g>
<rect x="1355.11" y="296.4" width="28.8" height="11.4" fill="none" stroke="#2a2a2a" stroke-width="1.65" />
<rect x="1153.6" y="266" width="28.8" height="41.8" fill="#ffffff" />
<g stroke="#000" stroke-width="1.5" stroke-linecap="butt"><line x1="1154" y1="266" x2="1182.4" y2="294.4"/><line x1="1153.6" y1="306" x2="1155.4" y2="307.8"/></g>
<rect x="1153.6" y="266" width="28.8" height="41.8" fill="none" stroke="#000" stroke-width="1.65" />
<rect x="1142" y="52" width="262.8" height="255.8" fill="none" stroke="#000" stroke-width="1.7" />
<g stroke="#000" stroke-width="1.4"><line x1="1167.8" y1="307.8" x2="1167.8" y2="313"/><line x1="1234.97" y1="307.8" x2="1234.97" y2="313"/><line x1="1302.14" y1="307.8" x2="1302.14" y2="313"/><line x1="1369.31" y1="307.8" x2="1369.31" y2="313"/><line x1="1136.8" y1="301.18" x2="1142" y2="301.18"/><line x1="1136.8" y1="239.76" x2="1142" y2="239.76"/><line x1="1136.8" y1="178.34" x2="1142" y2="178.34"/><line x1="1136.8" y1="116.92" x2="1142" y2="116.92"/><line x1="1136.8" y1="55.5" x2="1142" y2="55.5"/></g>
<g stroke="#000" stroke-width="1.0"><line x1="1139" y1="307.13" x2="1142" y2="307.13"/><line x1="1139" y1="303.99" x2="1142" y2="303.99"/><line x1="1139" y1="282.69" x2="1142" y2="282.69"/><line x1="1139" y1="271.88" x2="1142" y2="271.88"/><line x1="1139" y1="264.2" x2="1142" y2="264.2"/><line x1="1139" y1="258.25" x2="1142" y2="258.25"/><line x1="1139" y1="253.39" x2="1142" y2="253.39"/><line x1="1139" y1="249.27" x2="1142" y2="249.27"/><line x1="1139" y1="245.71" x2="1142" y2="245.71"/><line x1="1139" y1="242.57" x2="1142" y2="242.57"/><line x1="1139" y1="221.27" x2="1142" y2="221.27"/><line x1="1139" y1="210.46" x2="1142" y2="210.46"/><line x1="1139" y1="202.78" x2="1142" y2="202.78"/><line x1="1139" y1="196.83" x2="1142" y2="196.83"/><line x1="1139" y1="191.97" x2="1142" y2="191.97"/><line x1="1139" y1="187.85" x2="1142" y2="187.85"/><line x1="1139" y1="184.29" x2="1142" y2="184.29"/><line x1="1139" y1="181.15" x2="1142" y2="181.15"/><line x1="1139" y1="159.85" x2="1142" y2="159.85"/><line x1="1139" y1="149.04" x2="1142" y2="149.04"/><line x1="1139" y1="141.36" x2="1142" y2="141.36"/><line x1="1139" y1="135.41" x2="1142" y2="135.41"/><line x1="1139" y1="130.55" x2="1142" y2="130.55"/><line x1="1139" y1="126.43" x2="1142" y2="126.43"/><line x1="1139" y1="122.87" x2="1142" y2="122.87"/><line x1="1139" y1="119.73" x2="1142" y2="119.73"/><line x1="1139" y1="98.43" x2="1142" y2="98.43"/><line x1="1139" y1="87.62" x2="1142" y2="87.62"/><line x1="1139" y1="79.94" x2="1142" y2="79.94"/><line x1="1139" y1="73.99" x2="1142" y2="73.99"/><line x1="1139" y1="69.13" x2="1142" y2="69.13"/><line x1="1139" y1="65.01" x2="1142" y2="65.01"/><line x1="1139" y1="61.45" x2="1142" y2="61.45"/><line x1="1139" y1="58.31" x2="1142" y2="58.31"/></g>
<text class="dj" x="1167.8" y="336.8" font-size="23" text-anchor="middle" fill="#000">1</text>
<text class="dj" x="1234.97" y="336.8" font-size="23" text-anchor="middle" fill="#000">2</text>
<text class="dj" x="1302.14" y="336.8" font-size="23" text-anchor="middle" fill="#000">3</text>
<text class="dj" x="1369.31" y="336.8" font-size="23" text-anchor="middle" fill="#000">4</text>
<text class="dj" x="1089.8" y="310.28" font-size="23" fill="#000">10<tspan font-size="17.3" dy="-8.7">1</tspan></text>
<text class="dj" x="1089.8" y="248.86" font-size="23" fill="#000">10<tspan font-size="17.3" dy="-8.7">2</tspan></text>
<text class="dj" x="1089.8" y="187.44" font-size="23" fill="#000">10<tspan font-size="17.3" dy="-8.7">3</tspan></text>
<text class="dj" x="1089.8" y="126.02" font-size="23" fill="#000">10<tspan font-size="17.3" dy="-8.7">4</tspan></text>
<text class="dj" x="1089.8" y="64.6" font-size="23" fill="#000">10<tspan font-size="17.3" dy="-8.7">5</tspan></text>
<text x="1273.4" y="365.0" font-size="24" text-anchor="middle" fill="#000" style="font-family:'Liberation Serif','DejaVu Serif',serif;font-style:italic">S</text>
<text transform="translate(1080.5,180.0) rotate(-90)" font-size="26" text-anchor="middle" fill="#000" style="font-family:'Liberation Serif','DejaVu Serif',serif;font-style:italic">N<tspan font-size="18" dy="4.5">S</tspan></text>
<!-- p_netd -->
<g fill="none" stroke-width="1.05" stroke-linecap="round" opacity="0.92"><path d="M256.4 475.6Q284.22 481.63 306.4 463.8" stroke="#32d8e3"/><path d="M281.9 653.3Q223.09 574.75 126.5 557.5" stroke="#23cae8"/><path d="M159.9 641.6Q120.45 580.62 138.2 510.2" stroke="#3ce0df"/><path d="M118.9 609.1Q150.56 657.07 202.3 682.1" stroke="#77fdc5"/><path d="M224.4 409.6Q184.32 469.33 178.2 541" stroke="#80ffbf"/><path d="M138.2 510.2Q183.97 528.71 208.6 571.5" stroke="#4cebd9"/><path d="M85 526.6Q122.07 598.26 200.3 618" stroke="#69facb"/><path d="M184.2 494.2Q133.89 561.61 159.9 641.6" stroke="#1ec5ea"/><path d="M85 526.6Q134.88 512.58 178.2 541" stroke="#7bfec2"/><path d="M161.2 589.8Q179.39 568.78 178.2 541" stroke="#aef8a5"/><path d="M106.3 481.6Q142.49 504.98 184.2 494.2" stroke="#5cf4d2"/><path d="M237.1 653.2Q195.04 670.46 159.9 641.6" stroke="#31d7e3"/><path d="M178.2 541Q254.61 608.97 251.8 711.2" stroke="#7cfec2"/><path d="M154 686.9Q108.76 628.89 126.5 557.5" stroke="#90ffb7"/><path d="M294.9 562.3Q241.89 522.42 178.2 541" stroke="#77fdc4"/><path d="M126.5 557.5Q164.61 581.75 208.6 571.5" stroke="#1dc3eb"/><path d="M154 686.9Q210.11 670.04 251.8 711.2" stroke="#70fcc8"/><path d="M297.2 606.8Q250.79 630.05 200.3 618" stroke="#3ce0df"/><path d="M138.2 510.2Q157.94 461.04 210.6 455.3" stroke="#36dbe2"/><path d="M202.3 682.1Q220.28 627.64 208.6 571.5" stroke="#a5fbaa"/><path d="M248.8 603.8Q207.5 581.13 161.2 589.8" stroke="#5cf4d2"/><path d="M227.4 510.8Q217.66 562 248.8 603.8" stroke="#71fcc7"/><path d="M200.3 618Q212.03 642.57 237.1 653.2" stroke="#a4fbab"/><path d="M269.6 430.4Q280.57 487.01 335.6 504.2" stroke="#2cd2e5"/><path d="M248.8 603.8Q226.41 557.88 178.2 541" stroke="#27cee7"/><path d="M200.3 618Q209.23 553.89 184.2 494.2" stroke="#52efd6"/><path d="M297.2 606.8Q273.42 598.59 248.8 603.8" stroke="#54f0d5"/><path d="M297.2 606.8Q256.88 502.89 156.1 455.3" stroke="#76fdc5"/><path d="M126.5 557.5Q181.21 597.65 248.8 603.8" stroke="#9dfdaf"/><path d="M184.2 494.2Q251.36 509.05 294.9 562.3" stroke="#41e4dd"/><path d="M210.6 455.3Q163.67 514.38 161.2 589.8" stroke="#bff09a"/><path d="M77.1 625.7Q188.69 576.86 256.4 475.6" stroke="#4fedd7"/><path d="M209.8 728.6Q172.78 591.84 210.6 455.3" stroke="#73fcc6"/><path d="M209.8 728.6Q278.99 624.58 227.4 510.8" stroke="#7ffec0"/><path d="M227.4 510.8Q182.92 493.3 138.2 510.2" stroke="#75fdc5"/><path d="M125.8 422Q228.66 484.92 248.8 603.8" stroke="#39dee1"/><path d="M160.5 731.6Q100.89 724.47 64 677.1" stroke="#6efbc9"/><path d="M200.3 618Q228.8 625.4 248.8 603.8" stroke="#7afec3"/><path d="M178.2 541Q214 536.71 247.1 551" stroke="#7cfec2"/><path d="M32.8 532.4Q76.47 556.84 126.5 557.5" stroke="#1fc6ea"/><path d="M161.2 589.8Q208.56 497.71 306.4 463.8" stroke="#77fdc4"/><path d="M184.2 494.2Q174.68 539.71 208.6 571.5" stroke="#6bfacb"/><path d="M159.9 641.6Q150.14 587.86 178.2 541" stroke="#41e4dd"/><path d="M184.2 494.2Q255.28 560.1 281.9 653.3" stroke="#bbf39d"/><path d="M295.9 697Q150.29 698.26 75.7 573.2" stroke="#5bf4d2"/><path d="M248.8 603.8Q259.33 577.03 247.1 551" stroke="#2fd5e4"/><path d="M200.3 618Q214.92 596.62 208.6 571.5" stroke="#24a8f2"/><path d="M156.1 455.3Q139.31 480.19 138.2 510.2" stroke="#aff8a4"/><path d="M200.3 618Q206.46 574.56 178.2 541" stroke="#63f7ce"/><path d="M202.3 682.1Q208.6 632.88 248.8 603.8" stroke="#66f8cd"/><path d="M208.6 571.5Q234.94 513.84 210.6 455.3" stroke="#94feb4"/><path d="M126.5 557.5Q185.43 528.92 247.1 551" stroke="#65f8cd"/><path d="M125.8 422Q251.86 476.97 297.2 606.8" stroke="#1eb0f0"/><path d="M27.5 579.5Q119.5 608.34 208.6 571.5" stroke="#4bebd9"/><path d="M227.4 510.8Q239.37 608.51 329.1 649" stroke="#6ffbc8"/><path d="M159.9 641.6Q184.44 637.23 200.3 618" stroke="#70fcc8"/><path d="M202.3 682.1Q163.15 589.64 85 526.6" stroke="#5bf4d2"/><path d="M161.2 589.8Q151.46 565.48 126.5 557.5" stroke="#5cf4d2"/><path d="M247.1 551Q259.75 603.83 237.1 653.2" stroke="#63f7ce"/><path d="M208.6 571.5Q204.71 537.03 227.4 510.8" stroke="#1dc3eb"/><path d="M118.9 609.1Q191.5 598.8 247.1 551" stroke="#7afec3"/><path d="M237.1 653.2Q140.94 590.84 106.3 481.6" stroke="#53efd6"/><path d="M126.5 557.5Q164.14 506.47 227.4 510.8" stroke="#aaf9a7"/><path d="M200.3 618Q244.78 539.14 210.6 455.3" stroke="#1fc6ea"/><path d="M294.9 562.3Q218.64 629.85 118.9 609.1" stroke="#21c8e9"/><path d="M161.2 589.8Q143.64 607.33 118.9 609.1" stroke="#21c8e9"/><path d="M341.8 551.3Q269.32 522.66 208.6 571.5" stroke="#72fcc7"/><path d="M200.3 618Q293.69 568.65 306.4 463.8" stroke="#24cae8"/><path d="M85 526.6Q105.54 475.98 156.1 455.3" stroke="#3ce0e0"/><path d="M227.4 510.8Q191.48 580.18 118.9 609.1" stroke="#ead07d"/><path d="M200.3 618Q192.51 662.77 154 686.9" stroke="#6ffbc8"/><path d="M118.9 609.1Q128.89 557.93 178.2 541" stroke="#b4f6a1"/><path d="M27.5 579.5Q153.82 555.16 237.1 653.2" stroke="#55f0d5"/><path d="M161.2 589.8Q110.15 547.67 106.3 481.6" stroke="#b4f6a1"/><path d="M251.8 711.2Q256.92 679.04 237.1 653.2" stroke="#94feb4"/><path d="M138.2 510.2Q102.33 554.53 118.9 609.1" stroke="#adf8a6"/><path d="M85 526.6Q169.79 513.93 247.1 551" stroke="#b6f5a0"/><path d="M138.2 510.2Q139.3 581.35 200.3 618" stroke="#32d7e3"/><path d="M248.8 603.8Q223.27 537.96 256.4 475.6" stroke="#21acf1"/><path d="M306.4 463.8Q236.28 566.95 118.9 609.1" stroke="#3fe3de"/><path d="M208.6 571.5Q198.54 616.48 159.9 641.6" stroke="#30d6e4"/><path d="M227.4 510.8Q154.12 499.92 85 526.6" stroke="#51eed7"/><path d="M208.6 571.5Q259.07 494.7 224.4 409.6" stroke="#29d0e6"/><path d="M248.8 603.8Q278.21 501.47 224.4 409.6" stroke="#35dae2"/><path d="M184.2 494.2Q169.18 516.06 178.2 541" stroke="#7bfec2"/><path d="M306.4 463.8Q323.89 577.58 237.1 653.2" stroke="#52efd6"/><path d="M281.9 653.3Q262.01 567.64 178.2 541" stroke="#78fdc4"/><path d="M200.3 618Q184.5 556.98 227.4 510.8" stroke="#26cde7"/><path d="M247.1 551Q294.53 525.33 341.8 551.3" stroke="#61f7cf"/><path d="M297.2 606.8Q201.42 585.3 138.2 510.2" stroke="#7ffec0"/><path d="M251.8 711.2Q315.11 594.59 256.4 475.6" stroke="#62f7cf"/><path d="M248.8 603.8Q196.29 603.75 159.9 641.6" stroke="#94feb4"/><path d="M175.3 408.4Q226.94 400.16 269.6 430.4" stroke="#27cee7"/><path d="M288 515.2Q226.32 434.8 125.8 422" stroke="#7afec3"/><path d="M210.6 455.3Q131.15 533.73 159.9 641.6" stroke="#1ec4ea"/><path d="M178.2 541Q111.79 564.42 77.1 625.7" stroke="#36dbe2"/><path d="M297.2 606.8Q258.72 574.53 208.6 571.5" stroke="#bff09a"/><path d="M126.5 557.5Q114.19 582.05 118.9 609.1" stroke="#34dae2"/><path d="M126.5 557.5Q211.6 528.3 294.9 562.3" stroke="#6afacb"/><path d="M125.8 422Q52.31 512.1 77.1 625.7" stroke="#3de1df"/><path d="M210.6 455.3Q182.05 493.48 178.2 541" stroke="#a9faa8"/><path d="M178.2 541Q254.92 523.36 306.4 463.8" stroke="#3bdfe0"/><path d="M256.4 475.6Q208.86 452.56 156.1 455.3" stroke="#30d6e4"/><path d="M126.5 557.5Q176.69 571.53 200.3 618" stroke="#3adfe0"/><path d="M224.4 409.6Q208.42 429.71 210.6 455.3" stroke="#3ee2de"/><path d="M159.9 641.6Q95.58 601.6 85 526.6" stroke="#61f6cf"/><path d="M75.7 573.2Q115.13 598.58 161.2 589.8" stroke="#30d6e4"/><path d="M297.2 606.8Q278.48 644.68 237.1 653.2" stroke="#74fdc6"/><path d="M106.3 481.6Q244.64 505.71 349.7 598.9" stroke="#90ffb7"/><path d="M227.4 510.8Q222.73 448.72 175.3 408.4" stroke="#3ce0df"/><path d="M110.2 664.5Q133.49 572.51 106.3 481.6" stroke="#3ee1df"/><path d="M184.2 494.2Q80.89 491 27.5 579.5" stroke="#6cfaca"/><path d="M341.8 551.3Q261.94 515.29 178.2 541" stroke="#4decd8"/><path d="M154 686.9Q107.1 699.49 64 677.1" stroke="#8fffb7"/><path d="M349.7 598.9Q300.59 628.98 248.8 603.8" stroke="#3fe2de"/><path d="M208.6 571.5Q235.02 621.57 281.9 653.3" stroke="#a5fbaa"/><path d="M126.5 557.5Q149.91 541.61 178.2 541" stroke="#80ffc0"/><path d="M281.9 653.3Q267.35 604.79 294.9 562.3" stroke="#27a5f2"/><path d="M52.5 487.4Q108.31 535.91 118.9 609.1" stroke="#50eed7"/><path d="M184.2 494.2Q172.24 541.24 126.5 557.5" stroke="#9afeb1"/><path d="M184.2 494.2Q226.67 510.4 247.1 551" stroke="#20c6ea"/><path d="M294.9 562.3Q246.63 555.58 227.4 510.8" stroke="#41e4dd"/><path d="M248.8 603.8Q278.79 590.76 294.9 562.3" stroke="#41e4dd"/><path d="M247.1 551Q200.41 634 110.2 664.5" stroke="#1dc3eb"/><path d="M295.9 697Q291.12 593.06 227.4 510.8" stroke="#6dfbc9"/><path d="M341.8 551.3Q214.13 627.63 75.7 573.2" stroke="#76fdc5"/><path d="M126.5 557.5Q150.8 491.8 210.6 455.3" stroke="#bef19b"/><path d="M184.2 494.2Q209.54 492.76 227.4 510.8" stroke="#30d6e4"/><path d="M156.1 455.3Q210.91 527.73 294.9 562.3" stroke="#80ffc0"/><path d="M281.9 653.3Q273.73 574.75 227.4 510.8" stroke="#31d7e4"/><path d="M208.6 571.5Q233.45 571.76 247.1 551" stroke="#23c9e9"/><path d="M159.9 641.6Q212.24 585.8 227.4 510.8" stroke="#2bd2e6"/><path d="M32.8 532.4Q125.98 484.49 227.4 510.8" stroke="#28cfe7"/><path d="M106.2 715Q205.33 751.11 295.9 697" stroke="#a3fcac"/><path d="M297.2 606.8Q211.43 512.9 85 526.6" stroke="#3fe2de"/><path d="M118.9 609.1Q97.72 494.87 175.3 408.4" stroke="#3ce0df"/><path d="M227.4 510.8Q243.45 527.86 247.1 551" stroke="#4bebd9"/><path d="M210.6 455.3Q229.02 480.02 227.4 510.8" stroke="#3adee0"/><path d="M247.1 551Q216.98 609.27 159.9 641.6" stroke="#37dce1"/><path d="M77.1 625.7Q183.96 579.14 297.2 606.8" stroke="#2fd5e4"/><path d="M184.2 494.2Q275.35 488.67 341.8 551.3" stroke="#4fedd8"/><path d="M126.5 557.5Q138.13 513.77 106.3 481.6" stroke="#c0f09a"/><path d="M118.9 609.1Q90.87 572.4 85 526.6" stroke="#e3d682"/><path d="M138.2 510.2Q89.41 558.3 77.1 625.7" stroke="#adf8a5"/><path d="M281.9 653.3Q210.76 642.05 161.2 589.8" stroke="#71fcc7"/><path d="M248.8 603.8Q184.63 625.48 118.9 609.1" stroke="#36dbe2"/><path d="M77.1 625.7Q107.8 666.03 154 686.9" stroke="#5ef5d1"/><path d="M288 515.2Q218.24 544.5 200.3 618" stroke="#4eecd8"/><path d="M64 677.1Q166.2 648.45 251.8 711.2" stroke="#66f8cd"/><path d="M256.4 475.6Q246.42 496.92 227.4 510.8" stroke="#31d7e4"/><path d="M256.4 475.6Q175.29 490.92 126.5 557.5" stroke="#39dee0"/><path d="M159.9 641.6Q243.05 628.6 294.9 562.3" stroke="#b1f7a3"/><path d="M202.3 682.1Q118.76 651.18 75.7 573.2" stroke="#6efbc9"/><path d="M161.2 589.8Q199.1 559.22 247.1 551" stroke="#80ffbf"/><path d="M349.7 598.9Q245.34 539.17 126.5 557.5" stroke="#5bf4d2"/><path d="M247.1 551Q155.55 516.94 75.7 573.2" stroke="#54f0d5"/><path d="M161.2 589.8Q134.75 554.32 138.2 510.2" stroke="#74fdc6"/><path d="M184.2 494.2Q92.32 564.76 64 677.1" stroke="#a8faa8"/><path d="M297.2 606.8Q259.76 590.03 247.1 551" stroke="#a4fbab"/><path d="M126.5 557.5Q165.13 513.3 156.1 455.3" stroke="#58f2d3"/><path d="M32.8 532.4Q111.8 591.98 208.6 571.5" stroke="#4fedd8"/><path d="M178.2 541Q124.99 491.6 52.5 487.4" stroke="#3adee0"/><path d="M248.8 603.8Q236.16 578.36 208.6 571.5" stroke="#b7f4a0"/><path d="M85 526.6Q188.47 555.94 288 515.2" stroke="#9ffdae"/><path d="M224.4 409.6Q150.31 466.91 126.5 557.5" stroke="#24cbe8"/><path d="M118.9 609.1Q149.93 503.5 256.4 475.6" stroke="#4fedd8"/><path d="M200.3 618Q265.43 535.46 269.6 430.4" stroke="#eecc7b"/><path d="M288 515.2Q196.87 599.19 75.7 573.2" stroke="#a8faa9"/><path d="M247.1 551Q249.21 460.56 175.3 408.4" stroke="#70fbc8"/><path d="M27.5 579.5Q20.48 554.86 32.8 532.4" stroke="#27cee7"/><path d="M85 526.6Q132.24 547.18 161.2 589.8" stroke="#2bd2e6"/><path d="M306.4 463.8Q237.83 499.79 208.6 571.5" stroke="#3adee0"/><path d="M297.2 606.8Q249.12 568.38 227.4 510.8" stroke="#8effb8"/><path d="M85 526.6Q125.12 481.37 184.2 494.2" stroke="#2bd2e6"/><path d="M154 686.9Q144.98 662.69 159.9 641.6" stroke="#67f9cc"/><path d="M248.8 603.8Q191.81 662.26 110.2 664.5" stroke="#27cde7"/><path d="M159.9 641.6Q146.21 615.34 161.2 589.8" stroke="#39dee0"/><path d="M178.2 541Q227.89 505.94 288 515.2" stroke="#22aaf1"/><path d="M79.3 445.2Q147.04 523.73 247.1 551" stroke="#69f9cb"/><path d="M306.4 463.8Q307.89 546.26 248.8 603.8" stroke="#26cde7"/><path d="M184.2 494.2Q152.52 577.76 77.1 625.7" stroke="#4cebd9"/><path d="M208.6 571.5Q253.05 579.06 294.9 562.3" stroke="#6dfbc9"/><path d="M175.3 408.4Q206.2 421.88 210.6 455.3" stroke="#1fc6ea"/><path d="M294.9 562.3Q234.28 606.34 161.2 589.8" stroke="#5bf4d2"/><path d="M175.3 408.4Q112.26 470.3 126.5 557.5" stroke="#23cae9"/><path d="M297.2 606.8Q208.47 640.25 118.9 609.1" stroke="#31d7e4"/><path d="M27.5 579.5Q130.86 515.63 247.1 551" stroke="#bef19b"/><path d="M161.2 589.8Q176.65 609.58 200.3 618" stroke="#56f1d5"/><path d="M156.1 455.3Q179.82 416.87 224.4 409.6" stroke="#25cbe8"/><path d="M200.3 618Q181.56 530.33 106.3 481.6" stroke="#bef19b"/><path d="M281.9 653.3Q289.13 538.86 210.6 455.3" stroke="#25cce8"/><path d="M125.8 422Q33.62 473.89 27.5 579.5" stroke="#73fcc6"/><path d="M269.6 430.4Q270.32 455.14 256.4 475.6" stroke="#79fec3"/><path d="M156.1 455.3Q144.64 545.77 200.3 618" stroke="#388ef6"/><path d="M106.3 481.6Q180.51 500.31 208.6 571.5" stroke="#8dffb8"/><path d="M125.8 422Q173.23 443.35 184.2 494.2" stroke="#39dee1"/><path d="M269.6 430.4Q286.56 495.96 247.1 551" stroke="#43e5dc"/><path d="M27.5 579.5Q94.6 527.97 178.2 541" stroke="#41e4dd"/><path d="M75.7 573.2Q142.47 597.1 208.6 571.5" stroke="#24cbe8"/><path d="M75.7 573.2Q194.11 576.35 256.4 475.6" stroke="#6afacb"/><path d="M75.7 573.2Q188.49 474.08 335.6 504.2" stroke="#6afacb"/><path d="M118.9 609.1Q93.54 606.18 77.1 625.7" stroke="#81ffbf"/><path d="M156.1 455.3Q181.79 495.84 227.4 510.8" stroke="#27cee7"/><path d="M247.1 551Q175.95 619.87 77.1 625.7" stroke="#68f9cc"/><path d="M125.8 422Q217.02 457.75 247.1 551" stroke="#b5f5a1"/><path d="M208.6 571.5Q188.44 589.83 161.2 589.8" stroke="#2dd3e5"/><path d="M237.1 653.2Q185.13 612.04 118.9 609.1" stroke="#a0fcae"/><path d="M294.9 562.3Q277.93 488.96 210.6 455.3" stroke="#52efd6"/><path d="M125.8 422Q148.62 408.18 175.3 408.4" stroke="#8dffb8"/><path d="M161.2 589.8Q254.1 622.32 349.7 598.9" stroke="#6bfaca"/><path d="M210.6 455.3Q290.98 509.86 297.2 606.8" stroke="#42e4dd"/><path d="M156.1 455.3Q90.3 570.51 154 686.9" stroke="#83ffbe"/><path d="M208.6 571.5Q156.85 573.85 118.9 609.1" stroke="#d7e18b"/><path d="M161.2 589.8Q173.66 675 251.8 711.2" stroke="#6bfaca"/><path d="M248.8 603.8Q168.85 586.12 138.2 510.2" stroke="#41e4dd"/><path d="M227.4 510.8Q257.12 470.86 306.4 463.8" stroke="#77fdc4"/><path d="M251.8 711.2Q285.14 630.05 247.1 551" stroke="#f6c374"/><path d="M178.2 541Q209.36 498.8 256.4 475.6" stroke="#bbf29d"/><path d="M297.2 606.8Q178.59 641.82 75.7 573.2" stroke="#3ce0df"/><path d="M175.3 408.4Q219.74 503.1 161.2 589.8" stroke="#5ff5d0"/><path d="M248.8 603.8Q182.21 542.18 156.1 455.3" stroke="#5cf4d2"/><path d="M184.2 494.2Q186.54 467.38 210.6 455.3" stroke="#26cde7"/><path d="M288 515.2Q145.15 496.28 27.5 579.5" stroke="#21c7e9"/><path d="M297.2 606.8Q306.56 584.01 294.9 562.3" stroke="#50eed7"/><path d="M227.4 510.8Q195.97 444.24 125.8 422" stroke="#26cce8"/><path d="M106.3 481.6Q82.34 497.8 85 526.6" stroke="#40e3de"/><path d="M208.6 571.5Q198.51 551.16 178.2 541" stroke="#bdf19b"/><path d="M159.9 641.6Q197.47 687.46 251.8 711.2" stroke="#aef8a5"/><path d="M200.3 618Q115.01 590.48 34.1 629" stroke="#24cbe8"/><path d="M75.7 573.2Q98.77 557.83 126.5 557.5" stroke="#35dae2"/><path d="M227.4 510.8Q159.58 561.52 75.7 573.2" stroke="#1eaff0"/><path d="M85 526.6Q135.73 469.69 210.6 455.3" stroke="#54f0d5"/><path d="M237.1 653.2Q231.43 566.79 184.2 494.2" stroke="#32d8e3"/><path d="M154 686.9Q221.42 668.19 248.8 603.8" stroke="#abf9a7"/><path d="M295.9 697Q219.38 690.22 159.9 641.6" stroke="#62f7cf"/><path d="M32.8 532.4Q177.99 531.55 306.4 463.8" stroke="#5af3d3"/><path d="M27.5 579.5Q68.38 609.17 118.9 609.1" stroke="#a0fcad"/><path d="M269.6 430.4Q312.32 574.07 251.8 711.2" stroke="#7ffec0"/><path d="M227.4 510.8Q179.38 537.79 161.2 589.8" stroke="#4bebd9"/><path d="M227.4 510.8Q168.23 444.41 79.3 445.2" stroke="#32d8e3"/><path d="M138.2 510.2Q229.08 498.57 294.9 562.3" stroke="#23cae8"/><path d="M118.9 609.1Q157.84 629.63 200.3 618" stroke="#a7fba9"/><path d="M125.8 422Q148.24 463.82 138.2 510.2" stroke="#33d8e3"/><path d="M156.1 455.3Q202.58 504.26 208.6 571.5" stroke="#4cecd9"/><path d="M294.9 562.3Q220.92 474.47 106.3 481.6" stroke="#75fdc5"/><path d="M248.8 603.8Q198.92 517.78 106.3 481.6" stroke="#c0f09a"/><path d="M247.1 551Q191.38 486.51 106.3 481.6" stroke="#3ce0df"/><path d="M159.9 641.6Q261.62 560.35 269.6 430.4" stroke="#42e4dd"/><path d="M237.1 653.2Q281.65 617.7 294.9 562.3" stroke="#2ad1e6"/><path d="M294.9 562.3Q273.62 545.56 247.1 551" stroke="#80fec0"/><path d="M288 515.2Q293.46 570.59 248.8 603.8" stroke="#32d8e3"/><path d="M75.7 573.2Q82.08 464.56 175.3 408.4" stroke="#33d9e3"/><path d="M294.9 562.3Q199.96 660.95 64 677.1" stroke="#72fcc7"/><path d="M110.2 664.5Q116.68 614.16 161.2 589.8" stroke="#59f3d3"/><path d="M288 515.2Q230.42 627.15 110.2 664.5" stroke="#5df5d1"/><path d="M156.1 455.3Q95.69 530.8 77.1 625.7" stroke="#6efbc9"/><path d="M175.3 408.4Q108.06 521.07 159.9 641.6" stroke="#37dce1"/><path d="M161.2 589.8Q198.49 521.04 156.1 455.3" stroke="#67f9cc"/><path d="M256.4 475.6Q259.41 559.03 200.3 618" stroke="#3de1df"/><path d="M297.2 606.8Q165.54 592 64 677.1" stroke="#62f7cf"/><path d="M161.2 589.8Q196.21 629.51 202.3 682.1" stroke="#85ffbd"/><path d="M306.4 463.8Q296.41 520.77 247.1 551" stroke="#61f6cf"/><path d="M159.9 641.6Q233.92 562.34 341.8 551.3" stroke="#29d0e6"/><path d="M256.4 475.6Q223.92 498.97 184.2 494.2" stroke="#7dfec1"/><path d="M281.9 653.3Q199.33 525.92 52.5 487.4" stroke="#30d6e4"/><path d="M288 515.2Q279.89 489.26 256.4 475.6" stroke="#bcf29c"/><path d="M110.2 664.5Q125.04 592.2 178.2 541" stroke="#9efdaf"/><path d="M210.6 455.3Q246.77 496.31 247.1 551" stroke="#81ffbf"/><path d="M269.6 430.4Q170.97 463.47 126.5 557.5" stroke="#69f9cc"/><path d="M247.1 551Q231.77 640.34 154 686.9" stroke="#a0fcad"/><path d="M209.8 728.6Q251.69 673.2 248.8 603.8" stroke="#98feb2"/><path d="M75.7 573.2Q97.91 641.72 154 686.9" stroke="#65f8ce"/><path d="M227.4 510.8Q194.2 511.89 178.2 541" stroke="#33d8e3"/><path d="M156.1 455.3Q104.68 549.54 159.9 641.6" stroke="#64f8ce"/><path d="M125.8 422Q160.97 516.97 118.9 609.1" stroke="#20c7e9"/><path d="M256.4 475.6Q291.42 502.59 335.6 504.2" stroke="#7afec3"/><path d="M126.5 557.5Q123.84 531.74 138.2 510.2" stroke="#35dbe2"/><path d="M209.8 728.6Q131.4 693.92 118.9 609.1" stroke="#6afacb"/><path d="M200.3 618Q140.35 648.23 77.1 625.7" stroke="#26cde7"/><path d="M288 515.2Q277.25 544.19 247.1 551" stroke="#74fdc6"/><path d="M341.8 551.3Q206.93 606.22 85 526.6" stroke="#3adee0"/><path d="M200.3 618Q164.35 669.18 160.5 731.6" stroke="#84ffbe"/><path d="M77.1 625.7Q114.3 655.53 159.9 641.6" stroke="#6bfaca"/><path d="M85 526.6Q108.72 451.13 175.3 408.4" stroke="#77fdc4"/><path d="M118.9 609.1Q125.37 536.77 184.2 494.2" stroke="#3bdfe0"/><path d="M160.5 731.6Q260.07 703.4 297.2 606.8" stroke="#a4fbab"/><path d="M75.7 573.2Q120.29 504.08 125.8 422" stroke="#58f2d3"/><path d="M297.2 606.8Q291.99 496.68 224.4 409.6" stroke="#40e3de"/><path d="M224.4 409.6Q164.98 445.92 138.2 510.2" stroke="#28cee7"/><path d="M106.3 481.6Q226.67 434.84 335.6 504.2" stroke="#e5d481"/><path d="M210.6 455.3Q268.22 519.64 248.8 603.8" stroke="#cce891"/><path d="M85 526.6Q73.33 548.5 75.7 573.2" stroke="#7efec0"/><path d="M138.2 510.2Q199.14 513.29 247.1 551" stroke="#a3fcab"/><path d="M256.4 475.6Q185.53 610.67 34.1 629" stroke="#98feb2"/><path d="M106.3 481.6Q156.68 493.83 178.2 541" stroke="#e4d581"/><path d="M297.2 606.8Q225.95 624.27 161.2 589.8" stroke="#3ee1df"/><path d="M269.6 430.4Q196.46 447.51 125.8 422" stroke="#42e4dd"/><path d="M106.2 715Q165.02 594.75 294.9 562.3" stroke="#77fdc4"/><path d="M294.9 562.3Q330.65 568.09 349.7 598.9" stroke="#2bd1e6"/><path d="M126.5 557.5Q92.41 489.92 125.8 422" stroke="#67f9cd"/><path d="M106.3 481.6Q65.5 548.34 77.1 625.7" stroke="#31d6e4"/><path d="M208.6 571.5Q248.19 531.37 256.4 475.6" stroke="#9bfdb0"/><path d="M154 686.9Q242.88 620.6 227.4 510.8" stroke="#79fdc4"/><path d="M154 686.9Q156.12 639.13 118.9 609.1" stroke="#bcf29c"/><path d="M125.8 422Q175.29 471.24 178.2 541" stroke="#1cc3eb"/><path d="M161.2 589.8Q148.74 536.24 184.2 494.2" stroke="#2bd1e6"/><path d="M251.8 711.2Q252.7 634.39 208.6 571.5" stroke="#aff8a4"/><path d="M64 677.1Q198.66 627.5 288 515.2" stroke="#bcf29c"/><path d="M159.9 641.6Q105.77 622.21 75.7 573.2" stroke="#41e4dd"/><path d="M200.3 618Q163.33 656.9 110.2 664.5" stroke="#23a9f1"/><path d="M247.1 551Q280.69 596.64 281.9 653.3" stroke="#7dfec1"/><path d="M202.3 682.1Q225.92 675.14 237.1 653.2" stroke="#7efec1"/><path d="M85 526.6Q203.62 558.6 281.9 653.3" stroke="#30d6e4"/><path d="M227.4 510.8Q107.21 486.26 27.5 579.5" stroke="#23aaf1"/><path d="M247.1 551Q237.48 511.54 256.4 475.6" stroke="#38dde1"/><path d="M297.2 606.8Q253.95 544.51 178.2 541" stroke="#1dc3eb"/><path d="M160.5 731.6Q183.7 660.81 161.2 589.8" stroke="#7afec3"/><path d="M341.8 551.3Q288.08 620.77 200.3 618" stroke="#41e4dd"/><path d="M77.1 625.7Q119.95 525.99 227.4 510.8" stroke="#80ffbf"/><path d="M118.9 609.1Q124.96 484.66 224.4 409.6" stroke="#2bd2e6"/><path d="M208.6 571.5Q228.82 482.42 175.3 408.4" stroke="#4cebd9"/><path d="M161.2 589.8Q146.87 483.59 224.4 409.6" stroke="#40e3de"/><path d="M297.2 606.8Q315.04 558.75 288 515.2" stroke="#1dc4ea"/><path d="M269.6 430.4Q184.25 488.92 161.2 589.8" stroke="#5ff5d0"/><path d="M209.8 728.6Q172.22 677.56 110.2 664.5" stroke="#abf9a7"/><path d="M349.7 598.9Q236.99 664.95 118.9 609.1" stroke="#79fdc3"/><path d="M138.2 510.2Q128.78 488.62 106.3 481.6" stroke="#2cd2e5"/><path d="M126.5 557.5Q201.38 618.41 297.2 606.8" stroke="#1dc4ea"/><path d="M288 515.2Q258.23 505.63 227.4 510.8" stroke="#5af3d2"/><path d="M248.8 603.8Q229.01 625.2 237.1 653.2" stroke="#35dae2"/><path d="M256.4 475.6Q291.95 511.71 294.9 562.3" stroke="#b7f49f"/><path d="M209.8 728.6Q154.15 670.18 161.2 589.8" stroke="#69f9cc"/><path d="M341.8 551.3Q319.55 598.08 329.1 649" stroke="#76fdc5"/><path d="M297.2 606.8Q166.91 548.1 27.5 579.5" stroke="#31d7e4"/><path d="M288 515.2Q189.76 537.5 118.9 609.1" stroke="#68f9cc"/><path d="M297.2 606.8Q233.75 464.64 79.3 445.2" stroke="#4fedd8"/><path d="M118.9 609.1Q132.71 633.79 159.9 641.6" stroke="#24cae8"/><path d="M156.1 455.3Q214.67 490.72 247.1 551" stroke="#4eedd8"/><path d="M224.4 409.6Q92.5 477.94 77.1 625.7" stroke="#93ffb5"/><path d="M156.1 455.3Q265.39 471.49 341.8 551.3" stroke="#56f1d4"/><path d="M237.1 653.2Q163.55 626.45 126.5 557.5" stroke="#a3fcac"/><path d="M200.3 618Q265.95 520 224.4 409.6" stroke="#61f6cf"/><path d="M208.6 571.5Q139.11 570.22 85 526.6" stroke="#24cbe8"/><path d="M237.1 653.2Q230.59 540.34 156.1 455.3" stroke="#4eecd8"/><path d="M208.6 571.5Q130.46 568.55 77.1 625.7" stroke="#59f3d3"/><path d="M294.9 562.3Q180.19 601.82 85 526.6" stroke="#42e4dd"/><path d="M184.2 494.2Q194.89 449.73 175.3 408.4" stroke="#baf39d"/><path d="M237.1 653.2Q200.14 681.36 154 686.9" stroke="#69f9cc"/><path d="M227.4 510.8Q229.78 460.77 269.6 430.4" stroke="#2ed4e5"/><path d="M200.3 618Q88.76 595.3 52.5 487.4" stroke="#a7faa9"/><path d="M156.1 455.3Q184.44 493.69 178.2 541" stroke="#27cee7"/><path d="M297.2 606.8Q304.76 532.5 256.4 475.6" stroke="#c9ea94"/><path d="M154 686.9Q208.5 634.12 281.9 653.3" stroke="#7dfec1"/><path d="M77.1 625.7Q167.25 648.47 248.8 603.8" stroke="#9cfdb0"/><path d="M184.2 494.2Q238.65 492.1 288 515.2" stroke="#7ffec0"/><path d="M200.3 618Q148.68 565.9 75.7 573.2" stroke="#7ffec0"/><path d="M138.2 510.2Q214.04 484.66 288 515.2" stroke="#3bdfe0"/><path d="M349.7 598.9Q242.87 584.61 184.2 494.2" stroke="#38dde1"/><path d="M210.6 455.3Q118.63 486.2 75.7 573.2" stroke="#5ff5d0"/><path d="M106.3 481.6Q180.49 457.2 256.4 475.6" stroke="#b5f5a1"/><path d="M159.9 641.6Q255.99 586.41 256.4 475.6" stroke="#3bdfe0"/><path d="M224.4 409.6Q199.66 416.92 175.3 408.4" stroke="#42e4dd"/><path d="M341.8 551.3Q320.54 566.14 294.9 562.3" stroke="#58f2d4"/><path d="M138.2 510.2Q165.02 513.18 184.2 494.2" stroke="#24cbe8"/><path d="M297.2 606.8Q321.33 621.72 329.1 649" stroke="#2cd2e5"/><path d="M138.2 510.2Q166.49 514.83 178.2 541" stroke="#52efd6"/><path d="M79.3 445.2Q174.55 507.34 288 515.2" stroke="#30d6e4"/><path d="M237.1 653.2Q160.24 600.66 138.2 510.2" stroke="#32d8e3"/><path d="M256.4 475.6Q178.62 527.72 85 526.6" stroke="#4decd8"/><path d="M27.5 579.5Q109.97 575.86 159.9 641.6" stroke="#20c7e9"/><path d="M208.6 571.5Q232.96 649.87 209.8 728.6" stroke="#acf9a6"/><path d="M126.5 557.5Q232.5 496.95 341.8 551.3" stroke="#34d9e3"/><path d="M256.4 475.6Q236.62 458.41 210.6 455.3" stroke="#32d8e3"/><path d="M154 686.9Q214.56 644.94 208.6 571.5" stroke="#81ffbf"/><path d="M52.5 487.4Q136 528.62 227.4 510.8" stroke="#34dae2"/><path d="M297.2 606.8Q233.32 643.02 159.9 641.6" stroke="#21c7e9"/><path d="M294.9 562.3Q261.15 613.16 200.3 618" stroke="#56f1d4"/><path d="M126.5 557.5Q200.94 512.25 288 515.2" stroke="#43e5dc"/><path d="M126.5 557.5Q128.38 605.43 159.9 641.6" stroke="#37dce1"/><path d="M156.1 455.3Q158.71 483.01 184.2 494.2" stroke="#2ed4e5"/><path d="M75.7 573.2Q136.12 586.29 178.2 541" stroke="#efcb79"/><path d="M247.1 551Q265.63 475.5 224.4 409.6" stroke="#6dfbc9"/><path d="M85 526.6Q187.83 467.45 306.4 463.8" stroke="#32d8e3"/><path d="M202.3 682.1Q265.32 609 288 515.2" stroke="#abf9a7"/><path d="M154 686.9Q191.21 618.11 178.2 541" stroke="#acf9a6"/><path d="M237.1 653.2Q288.34 528.4 224.4 409.6" stroke="#7bfec2"/><path d="M288 515.2Q203.6 463.53 106.3 481.6" stroke="#65f8cd"/><path d="M184.2 494.2Q208.03 437.05 269.6 430.4" stroke="#31d7e4"/><path d="M85 526.6Q101.35 547.96 126.5 557.5" stroke="#97feb3"/><path d="M184.2 494.2Q146.61 592.64 202.3 682.1" stroke="#6cfaca"/><path d="M227.4 510.8Q255.77 459.31 224.4 409.6" stroke="#26cde7"/><path d="M138.2 510.2Q203.31 513.41 256.4 475.6" stroke="#34d9e2"/><path d="M297.2 606.8Q322.15 536.61 306.4 463.8" stroke="#29a2f3"/><path d="M178.2 541Q101.31 592.44 64 677.1" stroke="#6efbc9"/><path d="M154 686.9Q177.02 673.14 202.3 682.1" stroke="#63f7ce"/><path d="M125.8 422Q213.27 500.91 200.3 618" stroke="#1cb1ef"/><path d="M209.8 728.6Q152.31 641.82 178.2 541" stroke="#8cffb9"/><path d="M156.1 455.3Q263.66 525.93 281.9 653.3" stroke="#9ffdae"/><path d="M210.6 455.3Q125.19 440.01 52.5 487.4" stroke="#27cde7"/><path d="M125.8 422Q100.96 446.86 106.3 481.6" stroke="#58f2d4"/><path d="M247.1 551Q241.37 596.84 200.3 618" stroke="#2cd2e5"/><path d="M208.6 571.5Q281.54 590.52 329.1 649" stroke="#27cde7"/><path d="M210.6 455.3Q266.52 463 288 515.2" stroke="#30d6e4"/><path d="M161.2 589.8Q91.9 616.42 27.5 579.5" stroke="#90ffb7"/><path d="M160.5 731.6Q126.03 608.28 184.2 494.2" stroke="#98feb2"/><path d="M269.6 430.4Q299.53 573.25 202.3 682.1" stroke="#8bffb9"/><path d="M156.1 455.3Q183.35 442.08 210.6 455.3" stroke="#54f0d5"/><path d="M248.8 603.8Q273.86 622.86 281.9 653.3" stroke="#3f85f8"/><path d="M32.8 532.4Q102.39 449.32 210.6 455.3" stroke="#73fcc6"/><path d="M106.3 481.6Q110.68 602.74 202.3 682.1" stroke="#74fdc6"/><path d="M335.6 504.2Q198.63 549.66 154 686.9" stroke="#73fcc6"/><path d="M156.1 455.3Q230.67 466.26 288 515.2" stroke="#6bfacb"/><path d="M175.3 408.4Q142.97 454.28 138.2 510.2" stroke="#c0f09a"/><path d="M75.7 573.2Q116.05 514.61 184.2 494.2" stroke="#67f9cc"/><path d="M269.6 430.4Q125.97 503.92 110.2 664.5" stroke="#74fdc6"/><path d="M34.1 629Q152.2 700.31 281.9 653.3" stroke="#79fec3"/><path d="M175.3 408.4Q137.42 475.56 178.2 541" stroke="#adf8a6"/><path d="M288 515.2Q314.83 522.8 335.6 504.2" stroke="#5bf4d2"/><path d="M64 677.1Q160.76 657.79 208.6 571.5" stroke="#99feb1"/><path d="M138.2 510.2Q69.7 579.69 64 677.1" stroke="#5ff6d0"/><path d="M202.3 682.1Q134.59 609.45 138.2 510.2" stroke="#a4fbab"/><path d="M85 526.6Q125.77 632.29 237.1 653.2" stroke="#e2d782"/><path d="M154 686.9Q192.24 578.61 288 515.2" stroke="#81ffbf"/><path d="M281.9 653.3Q322.36 539.28 269.6 430.4" stroke="#2dd3e5"/><path d="M154 686.9Q143.68 637.32 161.2 589.8" stroke="#9dfdaf"/><path d="M297.2 606.8Q225.33 508.25 106.3 481.6" stroke="#38dce1"/><path d="M85 526.6Q51.93 573.83 77.1 625.7" stroke="#55f1d5"/><path d="M125.8 422Q108.75 601.47 251.8 711.2" stroke="#78fdc4"/><path d="M160.5 731.6Q97.14 653.6 126.5 557.5" stroke="#aff8a5"/><path d="M32.8 532.4Q99.73 425.96 224.4 409.6" stroke="#5cf4d2"/><path d="M52.5 487.4Q56.62 460.4 79.3 445.2" stroke="#5bf4d2"/><path d="M79.3 445.2Q97.45 423.37 125.8 422" stroke="#3be0e0"/><path d="M125.8 422Q147.56 404.31 175.3 408.4" stroke="#34d9e3"/><path d="M175.3 408.4Q200.11 398.2 224.4 409.6" stroke="#63f7cf"/><path d="M224.4 409.6Q251.58 410.06 269.6 430.4" stroke="#6afacb"/><path d="M269.6 430.4Q295.35 439 306.4 463.8" stroke="#5bf4d2"/><path d="M306.4 463.8Q329.89 477.58 335.6 504.2" stroke="#3be0e0"/><path d="M335.6 504.2Q349.06 526.39 341.8 551.3" stroke="#6afacb"/><path d="M341.8 551.3Q356.22 573.36 349.7 598.9" stroke="#7afec3"/><path d="M34.1 629Q38.47 659.63 64 677.1" stroke="#3be0e0"/><path d="M64 677.1Q100.26 725.58 160.5 731.6" stroke="#3be0e0"/><path d="M160.5 731.6Q235.81 744.09 295.9 697" stroke="#7afec3"/><path d="M281.9 653.3Q306.45 661.53 329.1 649" stroke="#43e5dc"/><path d="M329.1 649Q323.06 680.3 295.9 697" stroke="#72fcc7"/><path d="M27.5 579.5Q19.79 554.78 32.8 532.4" stroke="#8affba"/><path d="M34.1 629Q56.33 636.81 77.1 625.7" stroke="#34d9e3"/><path d="M209.8 728.6Q234.63 729.14 251.8 711.2" stroke="#7afec3"/><path d="M32.8 532.4Q32.75 505.57 52.5 487.4" stroke="#4bebd9"/><path d="M79.3 445.2Q72.38 486.58 85 526.6" stroke="#ff8a51"/><path d="M79.3 445.2Q61.8 487.32 85 526.6" stroke="#ff9e5d"/><path d="M79.3 445.2Q58.3 508.66 75.7 573.2" stroke="#ff9457"/><path d="M32.8 532.4Q46.09 561.38 75.7 573.2" stroke="#ff8a51"/><path d="M32.8 532.4Q58.98 589.69 118.9 609.1" stroke="#ff9457"/><path d="M27.5 579.5Q43.06 612.52 77.1 625.7" stroke="#ff8a51"/><path d="M27.5 579.5Q79.12 576.02 118.9 609.1" stroke="#ff9e5d"/><path d="M64 677.1Q85.21 663.87 110.2 664.5" stroke="#ff8a51"/><path d="M64 677.1Q89.37 679.12 110.2 664.5" stroke="#ff9457"/><path d="M64 677.1Q80.83 654.02 77.1 625.7" stroke="#ff9e5d"/><path d="M110.2 664.5Q105.67 689.55 106.2 715" stroke="#ff8a51"/><path d="M106.2 715Q127.29 696.17 154 686.9" stroke="#ff7f4b"/><path d="M106.2 715Q135.72 710.51 154 686.9" stroke="#ff9457"/><path d="M77.1 625.7Q85.89 651.72 110.2 664.5" stroke="#ff9457"/><path d="M159.9 641.6Q171 686.53 160.5 731.6" stroke="#ff5d39"/><path d="M160.5 731.6Q185.51 736.02 209.8 728.6" stroke="#ff5d39"/><path d="M160.5 731.6Q244.69 728.87 281.9 653.3" stroke="#ff683f"/><path d="M209.8 728.6Q260.91 705.37 281.9 653.3" stroke="#ff7445"/><path d="M209.8 728.6Q215.91 688.17 237.1 653.2" stroke="#ff7f4b"/><path d="M237.1 653.2Q232.85 685.14 251.8 711.2" stroke="#ff9457"/><path d="M281.9 653.3Q282.57 627.75 297.2 606.8" stroke="#ff5133"/><path d="M200.3 618Q227.17 671.4 209.8 728.6" stroke="#ff9457"/><path d="M200.3 618Q188.48 650.45 202.3 682.1" stroke="#ff9e5d"/><path d="M269.6 430.4Q245.08 454.65 210.6 455.3" stroke="#ff8a51"/><path d="M341.8 551.3Q307.68 544.01 288 515.2" stroke="#ffa863"/><path d="M125.8 422Q135.95 443.19 156.1 455.3" stroke="#ff9e5d"/><path d="M178.2 541Q198.27 518.52 227.4 510.8" stroke="#ff8a51"/><path d="M126.5 557.5Q137.39 580.59 161.2 589.8" stroke="#ff9457"/><path d="M118.9 609.1Q132.9 633.55 159.9 641.6" stroke="#ff8a51"/><path d="M159.9 641.6Q150.16 663.37 154 686.9" stroke="#ff7f4b"/><path d="M159.9 641.6Q217.39 684.05 281.9 653.3" stroke="#ff7445"/><path d="M110.2 664.5Q199.19 706.98 281.9 653.3" stroke="#ff7f4b"/><path d="M161.2 589.8Q124.49 619.5 110.2 664.5" stroke="#ff9457"/><path d="M85 526.6Q101.12 548.27 126.5 557.5" stroke="#ff8a51"/><path d="M247.1 551Q283.31 568.88 297.2 606.8" stroke="#ff9e5d"/><path d="M248.8 603.8Q255.45 635.17 281.9 653.3" stroke="#ff9457"/><path d="M294.9 562.3Q291.6 584.78 297.2 606.8" stroke="#4b74fa"/><path d="M227.4 510.8Q247.18 497.55 256.4 475.6" stroke="#437ff9"/><path d="M224.4 409.6Q212.93 431.07 210.6 455.3" stroke="#3b8af7"/><path d="M247.1 551Q237.39 577.74 248.8 603.8" stroke="#437ff9"/><path d="M227.4 510.8Q256.6 528.15 288 515.2" stroke="#3b8af7"/><path d="M126.5 557.5Q126.38 606.23 159.9 641.6" stroke="#4b74fa"/><path d="M85 526.6Q61.23 574.57 77.1 625.7" stroke="#437ff9"/><path d="M184.2 494.2Q167.49 559.32 200.3 618" stroke="#3b8af7"/><path d="M138.2 510.2Q161.14 554.93 208.6 571.5" stroke="#437ff9"/><path d="M159.9 641.6Q189.2 653.37 202.3 682.1" stroke="#3b8af7"/><path d="M256.4 475.6Q247.94 550.18 297.2 606.8" stroke="#437ff9"/><path d="M247.1 551Q229.84 600.9 237.1 653.2" stroke="#3494f5"/><path d="M227.4 510.8Q219.5 561.58 248.8 603.8" stroke="#3b8af7"/><path d="M126.5 557.5Q117.54 582.54 118.9 609.1" stroke="#437ff9"/></g>
<g><circle cx="175.3" cy="408.4" r="11.5" fill="#e9a9ef" stroke="#a87aac" stroke-width="2.0"/><circle cx="224.4" cy="409.6" r="11.8" fill="#e9a9ef" stroke="#a87aac" stroke-width="2.0"/><circle cx="125.8" cy="422" r="12.6" fill="#e85f30" stroke="#a6472a" stroke-width="2.0"/><circle cx="269.6" cy="430.4" r="9.9" fill="#ffffff" stroke="#b3b3b3" stroke-width="2.0"/><circle cx="79.3" cy="445.2" r="13.9" fill="#a0e65c" stroke="#6b9c3d" stroke-width="2.0"/><circle cx="156.1" cy="455.3" r="12" fill="#e85f30" stroke="#a6472a" stroke-width="2.0"/><circle cx="210.6" cy="455.3" r="11.9" fill="#e85f30" stroke="#a6472a" stroke-width="2.0"/><circle cx="306.4" cy="463.8" r="12" fill="#e85f30" stroke="#a6472a" stroke-width="2.0"/><circle cx="52.5" cy="487.4" r="11.6" fill="#e85f30" stroke="#a6472a" stroke-width="2.0"/><circle cx="106.3" cy="481.6" r="14.3" fill="#a0e65c" stroke="#6b9c3d" stroke-width="2.0"/><circle cx="256.4" cy="475.6" r="9.4" fill="#f0e474" stroke="#a8a056" stroke-width="2.0"/><circle cx="184.2" cy="494.2" r="9.9" fill="#f0e474" stroke="#a8a056" stroke-width="2.0"/><circle cx="335.6" cy="504.2" r="11.4" fill="#e85f30" stroke="#a6472a" stroke-width="2.0"/><circle cx="138.2" cy="510.2" r="10.2" fill="#808087" stroke="#5d5d63" stroke-width="2.0"/><circle cx="227.4" cy="510.8" r="12.9" fill="#e85f30" stroke="#a6472a" stroke-width="2.0"/><circle cx="288" cy="515.2" r="11.3" fill="#e85f30" stroke="#a6472a" stroke-width="2.0"/><circle cx="85" cy="526.6" r="11.9" fill="#e85f30" stroke="#a6472a" stroke-width="2.0"/><circle cx="32.8" cy="532.4" r="11.6" fill="#808087" stroke="#5d5d63" stroke-width="2.0"/><circle cx="178.2" cy="541" r="10.9" fill="#e9a9ef" stroke="#a87aac" stroke-width="2.0"/><circle cx="247.1" cy="551" r="11" fill="#e9a9ef" stroke="#a87aac" stroke-width="2.0"/><circle cx="341.8" cy="551.3" r="12.9" fill="#808087" stroke="#5d5d63" stroke-width="2.0"/><circle cx="126.5" cy="557.5" r="11.7" fill="#808087" stroke="#5d5d63" stroke-width="2.0"/><circle cx="294.9" cy="562.3" r="13.9" fill="#a0e65c" stroke="#6b9c3d" stroke-width="2.0"/><circle cx="208.6" cy="571.5" r="8.6" fill="#f0e474" stroke="#a8a056" stroke-width="2.0"/><circle cx="75.7" cy="573.2" r="11.2" fill="#e85f30" stroke="#a6472a" stroke-width="2.0"/><circle cx="27.5" cy="579.5" r="14.5" fill="#a0e65c" stroke="#6b9c3d" stroke-width="2.0"/><circle cx="161.2" cy="589.8" r="10.8" fill="#e9a9ef" stroke="#a87aac" stroke-width="2.0"/><circle cx="349.7" cy="598.9" r="13.6" fill="#e85f30" stroke="#a6472a" stroke-width="2.0"/><circle cx="248.8" cy="603.8" r="11.6" fill="#e9a9ef" stroke="#a87aac" stroke-width="2.0"/><circle cx="297.2" cy="606.8" r="12.1" fill="#e9a9ef" stroke="#a87aac" stroke-width="2.0"/><circle cx="118.9" cy="609.1" r="14.5" fill="#a0e65c" stroke="#6b9c3d" stroke-width="2.0"/><circle cx="200.3" cy="618" r="10.8" fill="#e9a9ef" stroke="#a87aac" stroke-width="2.0"/><circle cx="34.1" cy="629" r="12.8" fill="#808087" stroke="#5d5d63" stroke-width="2.0"/><circle cx="77.1" cy="625.7" r="11.8" fill="#e9a9ef" stroke="#a87aac" stroke-width="2.0"/><circle cx="159.9" cy="641.6" r="12.55" fill="#ffffff" stroke="#b3b3b3" stroke-width="2.7"/><circle cx="329.1" cy="649" r="14.1" fill="#808087" stroke="#5d5d63" stroke-width="2.0"/><circle cx="237.1" cy="653.2" r="8" fill="#f0e474" stroke="#a8a056" stroke-width="2.0"/><circle cx="281.9" cy="653.3" r="14.3" fill="#e85f30" stroke="#a6472a" stroke-width="2.0"/><circle cx="110.2" cy="664.5" r="15.15" fill="#ffffff" stroke="#b3b3b3" stroke-width="2.7"/><circle cx="64" cy="677.1" r="14.3" fill="#a0e65c" stroke="#6b9c3d" stroke-width="2.0"/><circle cx="202.3" cy="682.1" r="14.1" fill="#a0e65c" stroke="#6b9c3d" stroke-width="2.0"/><circle cx="154" cy="686.9" r="12" fill="#e9a9ef" stroke="#a87aac" stroke-width="2.0"/><circle cx="295.9" cy="697" r="16.45" fill="#ffffff" stroke="#b3b3b3" stroke-width="2.7"/><circle cx="106.2" cy="715" r="15.95" fill="#ffffff" stroke="#b3b3b3" stroke-width="2.7"/><circle cx="251.8" cy="711.2" r="14.6" fill="#a0e65c" stroke="#6b9c3d" stroke-width="2.0"/><circle cx="160.5" cy="731.6" r="14.7" fill="#a0e65c" stroke="#6b9c3d" stroke-width="2.0"/><circle cx="209.8" cy="728.6" r="14.3" fill="#a0e65c" stroke="#6b9c3d" stroke-width="2.0"/></g><g text-anchor="middle" fill="#000"><text x="175.3" y="413.32" font-size="12">Ru</text><text x="224.4" y="414.64" font-size="12.29">Pt</text><text x="125.8" y="427.35" font-size="13.06">Hf</text><text x="269.6" y="434.69" font-size="10.46">Be</text><text x="79.3" y="451.06" font-size="14.3">Dy</text><text x="156.1" y="460.42" font-size="12.48">Ti</text><text x="210.6" y="460.38" font-size="12.38">Nb</text><text x="306.4" y="468.92" font-size="12.48">Ta</text><text x="52.5" y="492.36" font-size="12.1">V</text><text x="106.3" y="487.62" font-size="14.69">Ce</text><text x="256.4" y="479.69" font-size="9.98">P</text><text x="184.2" y="498.49" font-size="10.46">Si</text><text x="335.6" y="509.08" font-size="11.9">W</text><text x="138.2" y="514.61" font-size="10.75">Ge</text><text x="227.4" y="516.27" font-size="13.34">Zr</text><text x="288" y="520.04" font-size="11.81">Mn</text><text x="85" y="531.68" font-size="12.38">Mo</text><text x="32.8" y="537.36" font-size="12.1">Ga</text><text x="178.2" y="545.68" font-size="11.42">Fe</text><text x="247.1" y="555.72" font-size="11.52">Ni</text><text x="341.8" y="556.77" font-size="13.34">Sn</text><text x="126.5" y="562.5" font-size="12.19">Al</text><text x="294.9" y="568.16" font-size="14.3">Gd</text><text x="208.6" y="575.28" font-size="9.22">B</text><text x="75.7" y="578" font-size="11.71">Cr</text><text x="27.5" y="585.6" font-size="14.88">Nd</text><text x="161.2" y="594.44" font-size="11.33">Cu</text><text x="349.7" y="604.65" font-size="14.02">Sc</text><text x="248.8" y="608.76" font-size="12.1">Pd</text><text x="297.2" y="611.96" font-size="12.58">Ag</text><text x="118.9" y="615.2" font-size="14.88">La</text><text x="200.3" y="622.64" font-size="11.33">Co</text><text x="34.1" y="634.43" font-size="13.25">Sb</text><text x="77.1" y="630.74" font-size="12.29">Zn</text><text x="159.9" y="647.07" font-size="13.34">Mg</text><text x="329.1" y="654.94" font-size="14.5">Pb</text><text x="237.1" y="656.89" font-size="9">C</text><text x="281.9" y="659.32" font-size="14.69">Y</text><text x="110.2" y="670.99" font-size="15.84">Ca</text><text x="64" y="683.12" font-size="14.69">Er</text><text x="202.3" y="688.04" font-size="14.5">Tb</text><text x="154" y="692.02" font-size="12.48">Au</text><text x="295.9" y="704.01" font-size="17.09">Ba</text><text x="106.2" y="721.81" font-size="16.61">Sr</text><text x="251.8" y="717.34" font-size="14.98">Sm</text><text x="160.5" y="737.78" font-size="15.07">Yb</text><text x="209.8" y="734.62" font-size="14.69">Pr</text></g>
<!-- p_imge -->
<defs><radialGradient id="e_brown" cx="0.38" cy="0.33" r="0.75" fx="0.33" fy="0.27"><stop offset="0" stop-color="#e08a4a"/><stop offset="0.45" stop-color="#b85a18"/><stop offset="1" stop-color="#642a04"/></radialGradient><radialGradient id="e_egreen" cx="0.38" cy="0.33" r="0.75" fx="0.33" fy="0.27"><stop offset="0" stop-color="#d0e8c2"/><stop offset="0.45" stop-color="#a9d39a"/><stop offset="1" stop-color="#688f58"/></radialGradient><radialGradient id="e_red" cx="0.38" cy="0.33" r="0.75" fx="0.33" fy="0.27"><stop offset="0" stop-color="#ff6676"/><stop offset="0.45" stop-color="#de0c28"/><stop offset="1" stop-color="#80000e"/></radialGradient><radialGradient id="e_slate" cx="0.38" cy="0.33" r="0.75" fx="0.33" fy="0.27"><stop offset="0" stop-color="#76828e"/><stop offset="0.45" stop-color="#424c57"/><stop offset="1" stop-color="#1a2026"/></radialGradient><radialGradient id="e_tan" cx="0.38" cy="0.33" r="0.75" fx="0.33" fy="0.27"><stop offset="0" stop-color="#f4dca8"/><stop offset="0.45" stop-color="#dcb878"/><stop offset="1" stop-color="#94703c"/></radialGradient><radialGradient id="e_white" cx="0.38" cy="0.33" r="0.75" fx="0.33" fy="0.27"><stop offset="0" stop-color="#ffffff"/><stop offset="0.45" stop-color="#e4e4e6"/><stop offset="1" stop-color="#9c9ca2"/></radialGradient><clipPath id="clipe"><rect x="417.3" y="413.2" width="328.3" height="318.6"/></clipPath><filter id="softe" x="-5%" y="-5%" width="110%" height="110%"><feGaussianBlur stdDeviation="0.45"/></filter></defs>
<rect x="417.3" y="413.2" width="328.3" height="318.6" fill="#000"/>
<g clip-path="url(#clipe)"><g filter="url(#softe)"><path d="M466.5 492L531 719.8M484.2 609L715.7 631.7M524.9 576.3L640.6 716.6M637.6 623.8L610 590M449.2 579L530 630M526.1 453.9L449.2 579M452.4 528.2L484.2 609M544.8 441.6L531 719.8M466.5 492L637.6 623.8M449.2 579L715.7 631.7M671.6 463L605.1 536.4M524.9 576.3L661.5 682.2M531 719.8L625.3 700.1M449.7 617.6L715.7 631.7M685.2 658.3L560 505M567.9 467.4L575 590M544.8 441.6L685.2 658.3M524.9 576.3L715.7 631.7M709.1 525.3L484.2 609M576.1 448.9L521.2 505.6M567.9 467.4L690.6 569.6M640.6 716.6L610 590M638.9 467.4L677.8 515.4M671.6 463L600 655M703.6 511.7L723.1 576.3M638.9 467.4L640.6 716.6M521.2 505.6L449.7 617.6M677.8 515.4L703.6 511.7M466.5 492L605.1 536.4M466.5 492L640.6 716.6M484.2 609L449.7 617.6M671.6 463L715.7 631.7M623.6 478.5L605.1 536.4M661.5 682.2L645 505M671.6 463L638.9 467.4M703.6 511.7L685.2 658.3M449.2 579L531 719.8M567.9 467.4L531 719.8M576.1 448.9L723.1 576.3M671.6 463L449.7 617.6M484.2 609L560 505M567.9 467.4L660 600M703.6 511.7L715.7 631.7M671.6 463L531 719.8M526.1 453.9L575 590M709.1 525.3L640.6 716.6M671.6 463L484.2 609M637.6 623.8L442.6 644M622.4 434.2L703.6 511.7M690.6 569.6L449.2 579M723.1 576.3L442.6 644M452.4 528.2L556.4 662M449.2 579L560 505M521.2 505.6L610 590M723.1 576.3L660 600M703.6 511.7L709.1 525.3M452.4 528.2L531 719.8M544.8 441.6L442.6 644M526.1 453.9L449.7 617.6M521.2 505.6L605.1 536.4M690.6 569.6L637.6 623.8M605.1 536.4L610 590M544.8 441.6L622.4 434.2M622.4 434.2L660 600M576.1 448.9L690.6 569.6M526.1 453.9L715.7 631.7M567.9 467.4L466.5 492M521.2 505.6L645 505M640.6 716.6L625.3 700.1M567.9 467.4L524.9 576.3M653.6 458.8L637.6 623.8M653.6 458.8L690.6 569.6M521.2 505.6L575 590M622.4 434.2L452.4 528.2M567.9 467.4L677.8 515.4M690.6 569.6L560 505M671.6 463L521.2 505.6M703.6 511.7L442.6 644M544.8 441.6L484.2 609M452.4 528.2L715.7 631.7M622.4 434.2L645 505M524.9 576.3L600 655M671.6 463L661.5 682.2M544.8 441.6L567.9 467.4M452.4 528.2L600 655M653.6 458.8L521.2 505.6M709.1 525.3L575 590M484.2 609L685.2 658.3M576.1 448.9L484.2 609M685.2 658.3L530 630M544.8 441.6L556.4 662M526.1 453.9L723.1 576.3M526.1 453.9L600 655M703.6 511.7L531 719.8M638.9 467.4L560 505M723.1 576.3L610 590M605.1 536.4L484.2 609M567.9 467.4L623.6 478.5M449.2 579L660 600M690.6 569.6L531 719.8M442.6 644L556.4 662M466.5 492L560 505M526.1 453.9L530 630M671.6 463L677.8 515.4M524.9 576.3L685.2 658.3M556.4 662L660 600M723.1 576.3L640.6 716.6M622.4 434.2L610 590M484.2 609L640.6 716.6M526.1 453.9L623.6 478.5M703.6 511.7L449.7 617.6M653.6 458.8L484.2 609M653.6 458.8L671.6 463M526.1 453.9L524.9 576.3M653.6 458.8L685.2 658.3M442.6 644L640.6 716.6M452.4 528.2L637.6 623.8M466.5 492L685.2 658.3M622.4 434.2L526.1 453.9M671.6 463L442.6 644M715.7 631.7L530 630M576.1 448.9L466.5 492M605.1 536.4L575 590M524.9 576.3L575 590M556.4 662L640.6 716.6M556.4 662L610 590M677.8 515.4L605.1 536.4M623.6 478.5L531 719.8M677.8 515.4L600 655M605.1 536.4L560 505M521.2 505.6L709.1 525.3M625.3 700.1L645 505M484.2 609L531 719.8M466.5 492L600 655M524.9 576.3L660 600M637.6 623.8L530 630M452.4 528.2L685.2 658.3M449.2 579L484.2 609M637.6 623.8L556.4 662M715.7 631.7L640.6 716.6M605.1 536.4L685.2 658.3M449.2 579L556.4 662M638.9 467.4L484.2 609M567.9 467.4L685.2 658.3M723.1 576.3L531 719.8M544.8 441.6L660 600M671.6 463L690.6 569.6M466.5 492L524.9 576.3M556.4 662L645 505M677.8 515.4L449.2 579M623.6 478.5L452.4 528.2M690.6 569.6L723.1 576.3M567.9 467.4L653.6 458.8M605.1 536.4L661.5 682.2M449.7 617.6L556.4 662M638.9 467.4L531 719.8M605.1 536.4L637.6 623.8M638.9 467.4L690.6 569.6M637.6 623.8L645 505M526.1 453.9L556.4 662M623.6 478.5L521.2 505.6M524.9 576.3L484.2 609M703.6 511.7L530 630M671.6 463L452.4 528.2M576.1 448.9L567.9 467.4M526.1 453.9L671.6 463M622.4 434.2L530 630M622.4 434.2L521.2 505.6M723.1 576.3L524.9 576.3M623.6 478.5L600 655M531 719.8L575 590M671.6 463L556.4 662M442.6 644L531 719.8M622.4 434.2L623.6 478.5M466.5 492L690.6 569.6M544.8 441.6L521.2 505.6M605.1 536.4L449.2 579M556.4 662L600 655M567.9 467.4L703.6 511.7M544.8 441.6L449.7 617.6M466.5 492L442.6 644M623.6 478.5L685.2 658.3M623.6 478.5L715.7 631.7M449.7 617.6L661.5 682.2M671.6 463L637.6 623.8M466.5 492L575 590M709.1 525.3L723.1 576.3M703.6 511.7L524.9 576.3M690.6 569.6L685.2 658.3M466.5 492L521.2 505.6M526.1 453.9L653.6 458.8M449.7 617.6L575 590M466.5 492L660 600M484.2 609L660 600M605.1 536.4L645 505M723.1 576.3L530 630M671.6 463L466.5 492M449.2 579L610 590M715.7 631.7L575 590M521.2 505.6L484.2 609M671.6 463L723.1 576.3M576.1 448.9L556.4 662M524.9 576.3L531 719.8M709.1 525.3L690.6 569.6M715.7 631.7L660 600M576.1 448.9L671.6 463M622.4 434.2L637.6 623.8M622.4 434.2L685.2 658.3M690.6 569.6L600 655M623.6 478.5L484.2 609M449.2 579L685.2 658.3M605.1 536.4L531 719.8" stroke="#8e8e95" stroke-width="1.25" fill="none"/><circle cx="638.9" cy="467.4" r="5.4" fill="url(#e_brown)"/><circle cx="661.5" cy="682.2" r="6.6" fill="url(#e_red)"/><circle cx="709.1" cy="525.3" r="8.1" fill="url(#e_white)"/><circle cx="625.3" cy="700.1" r="3.7" fill="url(#e_red)"/><path d="M544.8 441.6L526.1 453.9M452.4 528.2L605.1 536.4M605.1 536.4L449.7 617.6M690.6 569.6L556.4 662M567.9 467.4L715.7 631.7M622.4 434.2L556.4 662M637.6 623.8L715.7 631.7M661.5 682.2L640.6 716.6M677.8 515.4L524.9 576.3M466.5 492L556.4 662M524.9 576.3L449.7 617.6M452.4 528.2L640.6 716.6M723.1 576.3L449.2 579M622.4 434.2L715.7 631.7M723.1 576.3L685.2 658.3M567.9 467.4L605.1 536.4M622.4 434.2L466.5 492M567.9 467.4L452.4 528.2M526.1 453.9L531 719.8M449.2 579L640.6 716.6M567.9 467.4L521.2 505.6M526.1 453.9L567.9 467.4M576.1 448.9L524.9 576.3M623.6 478.5L640.6 716.6M703.6 511.7L452.4 528.2M526.1 453.9L452.4 528.2M449.2 579L637.6 623.8M690.6 569.6L524.9 576.3M449.7 617.6L531 719.8M452.4 528.2L449.7 617.6M622.4 434.2L531 719.8M690.6 569.6L625.3 700.1M466.5 492L449.2 579M567.9 467.4L640.6 716.6M637.6 623.8L640.6 716.6M567.9 467.4L449.2 579M484.2 609L442.6 644M521.2 505.6L531 719.8M576.1 448.9L623.6 478.5M703.6 511.7L690.6 569.6M677.8 515.4L452.4 528.2M640.6 716.6L531 719.8M622.4 434.2L484.2 609M521.2 505.6L661.5 682.2M576.1 448.9L715.7 631.7M521.2 505.6L723.1 576.3M703.6 511.7L637.6 623.8M544.8 441.6L640.6 716.6M709.1 525.3L637.6 623.8M526.1 453.9L637.6 623.8M521.2 505.6L640.6 716.6M653.6 458.8L531 719.8M677.8 515.4L449.7 617.6M623.6 478.5L671.6 463M526.1 453.9L640.6 716.6M709.1 525.3L556.4 662M442.6 644L685.2 658.3M638.9 467.4L685.2 658.3M677.8 515.4L556.4 662M605.1 536.4L524.9 576.3M622.4 434.2L671.6 463M723.1 576.3L556.4 662M484.2 609L556.4 662M521.2 505.6L524.9 576.3M653.6 458.8L442.6 644M677.8 515.4L640.6 716.6M653.6 458.8L524.9 576.3M544.8 441.6L605.1 536.4M671.6 463L524.9 576.3M637.6 623.8L531 719.8M671.6 463L640.6 716.6M623.6 478.5L466.5 492M544.8 441.6L466.5 492M449.2 579L442.6 644M677.8 515.4L715.7 631.7M526.1 453.9L484.2 609M576.1 448.9L640.6 716.6M576.1 448.9L605.1 536.4M690.6 569.6L715.7 631.7M690.6 569.6L640.6 716.6M452.4 528.2L690.6 569.6M526.1 453.9L521.2 505.6M484.2 609L661.5 682.2M622.4 434.2L677.8 515.4M671.6 463L685.2 658.3M677.8 515.4L531 719.8M526.1 453.9L677.8 515.4M521.2 505.6L703.6 511.7M622.4 434.2L449.7 617.6M703.6 511.7L640.6 716.6M605.1 536.4L690.6 569.6M605.1 536.4L556.4 662M653.6 458.8L640.6 716.6M521.2 505.6L452.4 528.2M521.2 505.6L449.2 579M524.9 576.3L625.3 700.1M709.1 525.3L715.7 631.7M524.9 576.3L637.6 623.8M715.7 631.7L531 719.8M715.7 631.7L442.6 644M677.8 515.4L442.6 644M637.6 623.8L685.2 658.3M526.1 453.9L442.6 644M442.6 644L625.3 700.1M622.4 434.2L690.6 569.6M567.9 467.4L723.1 576.3M544.8 441.6L653.6 458.8M521.2 505.6L715.7 631.7M466.5 492L661.5 682.2M576.1 448.9L637.6 623.8M723.1 576.3L637.6 623.8M466.5 492L484.2 609M567.9 467.4L449.7 617.6M715.7 631.7L556.4 662M653.6 458.8L556.4 662M526.1 453.9L661.5 682.2M576.1 448.9L442.6 644M576.1 448.9L653.6 458.8M466.5 492L677.8 515.4M521.2 505.6L556.4 662M449.7 617.6L685.2 658.3M677.8 515.4L484.2 609M690.6 569.6L442.6 644M544.8 441.6L715.7 631.7M623.6 478.5L524.9 576.3M544.8 441.6L677.8 515.4M521.2 505.6L442.6 644M622.4 434.2L442.6 644M715.7 631.7L685.2 658.3M524.9 576.3L556.4 662M544.8 441.6L723.1 576.3M685.2 658.3L625.3 700.1M452.4 528.2L524.9 576.3M567.9 467.4L556.4 662M567.9 467.4L484.2 609M623.6 478.5L449.2 579M723.1 576.3L484.2 609M703.6 511.7L605.1 536.4M622.4 434.2L653.6 458.8M623.6 478.5L637.6 623.8M653.6 458.8L605.1 536.4M653.6 458.8L723.1 576.3M709.1 525.3L605.1 536.4M526.1 453.9L605.1 536.4M556.4 662L685.2 658.3M605.1 536.4L442.6 644M723.1 576.3L715.7 631.7M576.1 448.9L685.2 658.3M544.8 441.6L703.6 511.7M521.2 505.6L685.2 658.3M622.4 434.2L524.9 576.3M622.4 434.2L567.9 467.4M576.1 448.9L449.2 579M653.6 458.8L449.2 579M544.8 441.6L576.1 448.9M544.8 441.6L449.2 579M703.6 511.7L625.3 700.1M685.2 658.3L531 719.8M622.4 434.2L605.1 536.4M622.4 434.2L723.1 576.3M544.8 441.6L623.6 478.5M466.5 492L452.4 528.2M605.1 536.4L723.1 576.3M690.6 569.6L484.2 609M442.6 644L661.5 682.2M576.1 448.9L531 719.8M484.2 609L637.6 623.8M466.5 492L715.7 631.7M605.1 536.4L715.7 631.7M556.4 662L531 719.8M715.7 631.7L661.5 682.2M605.1 536.4L640.6 716.6M449.7 617.6L640.6 716.6" stroke="#e9e9ed" stroke-width="1.4" fill="none"/><circle cx="544.8" cy="441.6" r="11" fill="url(#e_egreen)"/><circle cx="576.1" cy="448.9" r="8.6" fill="url(#e_slate)"/><circle cx="622.4" cy="434.2" r="10.6" fill="url(#e_brown)"/><circle cx="526.1" cy="453.9" r="5.4" fill="url(#e_tan)"/><circle cx="567.9" cy="467.4" r="9.1" fill="url(#e_red)"/><circle cx="623.6" cy="478.5" r="12.3" fill="url(#e_egreen)"/><circle cx="653.6" cy="458.8" r="7.4" fill="url(#e_brown)"/><circle cx="671.6" cy="463" r="8.1" fill="url(#e_brown)"/><circle cx="466.5" cy="492" r="4.9" fill="url(#e_tan)"/><circle cx="521.2" cy="505.6" r="8.6" fill="url(#e_brown)"/><circle cx="677.8" cy="515.4" r="10.6" fill="url(#e_brown)"/><circle cx="703.6" cy="511.7" r="8.6" fill="url(#e_brown)"/><circle cx="452.4" cy="528.2" r="7.4" fill="url(#e_brown)"/><circle cx="605.1" cy="536.4" r="11" fill="url(#e_white)"/><circle cx="690.6" cy="569.6" r="9.9" fill="url(#e_slate)"/><circle cx="723.1" cy="576.3" r="8.1" fill="url(#e_red)"/><circle cx="449.2" cy="579" r="9.1" fill="url(#e_egreen)"/><circle cx="524.9" cy="576.3" r="12.8" fill="url(#e_egreen)"/><circle cx="484.2" cy="609" r="6.2" fill="url(#e_tan)"/><circle cx="449.7" cy="617.6" r="11" fill="url(#e_egreen)"/><circle cx="637.6" cy="623.8" r="7.9" fill="url(#e_slate)"/><circle cx="715.7" cy="631.7" r="5.4" fill="url(#e_tan)"/><circle cx="442.6" cy="644" r="7.4" fill="url(#e_red)"/><circle cx="556.4" cy="662" r="8.6" fill="url(#e_red)"/><circle cx="685.2" cy="658.3" r="9.4" fill="url(#e_red)"/><circle cx="640.6" cy="716.6" r="8.1" fill="url(#e_red)"/><circle cx="531" cy="719.8" r="8.6" fill="url(#e_slate)"/></g></g>
<!-- p_chartf -->
<rect x="926.72" y="619.7" width="33.6" height="64.3" fill="#c3e6f5" stroke="#848484" stroke-width="1.5" />
<rect x="974.54" y="589.3" width="33.6" height="94.7" fill="#c3e6f5" stroke="#848484" stroke-width="1.5" />
<rect x="1022.36" y="562" width="33.6" height="122" fill="#c3e6f5" stroke="#848484" stroke-width="1.5" />
<rect x="1070.18" y="538" width="33.6" height="146" fill="#c3e6f5" stroke="#848484" stroke-width="1.5" />
<rect x="1118" y="515.8" width="33.6" height="168.2" fill="#c3e6f5" stroke="#848484" stroke-width="1.5" />
<rect x="1165.82" y="496.2" width="33.6" height="187.8" fill="#c3e6f5" stroke="#848484" stroke-width="1.5" />
<rect x="1213.64" y="478" width="33.6" height="206" fill="#c3e6f5" stroke="#848484" stroke-width="1.5" />
<rect x="1261.46" y="461.6" width="33.6" height="222.4" fill="#c3e6f5" stroke="#848484" stroke-width="1.5" />
<rect x="1309.28" y="446.5" width="33.6" height="237.5" fill="#c3e6f5" stroke="#848484" stroke-width="1.5" />
<rect x="1357.1" y="432.7" width="33.6" height="251.3" fill="#c3e6f5" stroke="#848484" stroke-width="1.5" />
<rect x="933.57" y="632.4" width="20" height="51.6" fill="#d34c52" />
<g stroke="#26282c" stroke-width="1.45" stroke-linecap="butt"><line x1="944.2" y1="632.4" x2="953.57" y2="641.77"/><line x1="933.57" y1="662.17" x2="953.57" y2="682.17"/></g>
<rect x="933.57" y="632.4" width="20" height="51.6" fill="none" stroke="#24282c" stroke-width="1.6" />
<rect x="981.39" y="618.7" width="20" height="65.3" fill="#d34c52" />
<g stroke="#26282c" stroke-width="1.45" stroke-linecap="butt"><line x1="981.39" y1="629.19" x2="1001.39" y2="649.19"/><line x1="981.39" y1="669.59" x2="995.8" y2="684"/></g>
<rect x="981.39" y="618.7" width="20" height="65.3" fill="none" stroke="#24282c" stroke-width="1.6" />
<rect x="1029.21" y="610.3" width="20" height="73.7" fill="#d34c52" />
<g stroke="#26282c" stroke-width="1.45" stroke-linecap="butt"><line x1="1043.3" y1="610.3" x2="1049.21" y2="616.21"/><line x1="1029.21" y1="636.61" x2="1049.21" y2="656.61"/><line x1="1029.21" y1="677.01" x2="1036.2" y2="684"/></g>
<rect x="1029.21" y="610.3" width="20" height="73.7" fill="none" stroke="#24282c" stroke-width="1.6" />
<rect x="1077.03" y="606.1" width="20" height="77.9" fill="#d34c52" />
<g stroke="#26282c" stroke-width="1.45" stroke-linecap="butt"><line x1="1079.5" y1="606.1" x2="1097.03" y2="623.63"/><line x1="1077.03" y1="644.03" x2="1097.03" y2="664.03"/></g>
<rect x="1077.03" y="606.1" width="20" height="77.9" fill="none" stroke="#24282c" stroke-width="1.6" />
<rect x="1124.85" y="605.6" width="20" height="78.4" fill="#d34c52" />
<g stroke="#26282c" stroke-width="1.45" stroke-linecap="butt"><line x1="1124.85" y1="611.05" x2="1144.85" y2="631.05"/><line x1="1124.85" y1="651.45" x2="1144.85" y2="671.45"/></g>
<rect x="1124.85" y="605.6" width="20" height="78.4" fill="none" stroke="#24282c" stroke-width="1.6" />
<rect x="1172.67" y="608.6" width="20" height="75.4" fill="#d34c52" />
<g stroke="#26282c" stroke-width="1.45" stroke-linecap="butt"><line x1="1172.67" y1="618.47" x2="1192.67" y2="638.47"/><line x1="1172.67" y1="658.87" x2="1192.67" y2="678.87"/></g>
<rect x="1172.67" y="608.6" width="20" height="75.4" fill="none" stroke="#24282c" stroke-width="1.6" />
<rect x="1220.49" y="615.7" width="20" height="68.3" fill="#d34c52" />
<g stroke="#26282c" stroke-width="1.45" stroke-linecap="butt"><line x1="1220.49" y1="625.89" x2="1240.49" y2="645.89"/><line x1="1220.49" y1="666.29" x2="1238.2" y2="684"/></g>
<rect x="1220.49" y="615.7" width="20" height="68.3" fill="none" stroke="#24282c" stroke-width="1.6" />
<rect x="1268.31" y="627.6" width="20" height="56.4" fill="#d34c52" />
<g stroke="#26282c" stroke-width="1.45" stroke-linecap="butt"><line x1="1268.31" y1="633.31" x2="1288.31" y2="653.31"/><line x1="1268.31" y1="673.71" x2="1278.6" y2="684"/></g>
<rect x="1268.31" y="627.6" width="20" height="56.4" fill="none" stroke="#24282c" stroke-width="1.6" />
<rect x="1316.13" y="645.2" width="20" height="38.8" fill="#d34c52" />
<g stroke="#26282c" stroke-width="1.45" stroke-linecap="butt"><line x1="1320.6" y1="645.2" x2="1336.13" y2="660.73"/><line x1="1316.13" y1="681.13" x2="1319" y2="684"/></g>
<rect x="1316.13" y="645.2" width="20" height="38.8" fill="none" stroke="#24282c" stroke-width="1.6" />
<rect x="1363.95" y="672.2" width="20" height="11.8" fill="#d34c52" />

<rect x="1363.95" y="672.2" width="20" height="11.8" fill="none" stroke="#24282c" stroke-width="1.6" />
<rect x="885.75" y="654.7" width="20" height="29.3" fill="#ffffff" />
<g stroke="#000" stroke-width="1.45" stroke-linecap="butt"><line x1="885.75" y1="655.35" x2="886.4" y2="654.7"/><line x1="885.75" y1="675.55" x2="905.75" y2="655.55"/><line x1="897.5" y1="684" x2="905.75" y2="675.75"/></g>
<rect x="885.75" y="654.7" width="20" height="29.3" fill="none" stroke="#000" stroke-width="1.6" />
<rect x="871.9" y="420.9" width="540.5" height="263.1" fill="none" stroke="#000" stroke-width="1.7" />
<g stroke="#000" stroke-width="1.4"><line x1="895.6" y1="684" x2="895.6" y2="689.2"/><line x1="943.42" y1="684" x2="943.42" y2="689.2"/><line x1="991.24" y1="684" x2="991.24" y2="689.2"/><line x1="1039.06" y1="684" x2="1039.06" y2="689.2"/><line x1="1086.88" y1="684" x2="1086.88" y2="689.2"/><line x1="1134.7" y1="684" x2="1134.7" y2="689.2"/><line x1="1182.52" y1="684" x2="1182.52" y2="689.2"/><line x1="1230.34" y1="684" x2="1230.34" y2="689.2"/><line x1="1278.16" y1="684" x2="1278.16" y2="689.2"/><line x1="1325.98" y1="684" x2="1325.98" y2="689.2"/><line x1="1373.8" y1="684" x2="1373.8" y2="689.2"/><line x1="866.7" y1="646.2" x2="871.9" y2="646.2"/><line x1="866.7" y1="594.48" x2="871.9" y2="594.48"/><line x1="866.7" y1="542.76" x2="871.9" y2="542.76"/><line x1="866.7" y1="491.04" x2="871.9" y2="491.04"/><line x1="866.7" y1="439.32" x2="871.9" y2="439.32"/></g>
<text class="dj" x="895.6" y="713.3" font-size="23" text-anchor="middle" fill="#000">1</text>
<text class="dj" x="943.42" y="713.3" font-size="23" text-anchor="middle" fill="#000">2</text>
<text class="dj" x="991.24" y="713.3" font-size="23" text-anchor="middle" fill="#000">3</text>
<text class="dj" x="1039.06" y="713.3" font-size="23" text-anchor="middle" fill="#000">4</text>
<text class="dj" x="1086.88" y="713.3" font-size="23" text-anchor="middle" fill="#000">5</text>
<text class="dj" x="1134.7" y="713.3" font-size="23" text-anchor="middle" fill="#000">6</text>
<text class="dj" x="1182.52" y="713.3" font-size="23" text-anchor="middle" fill="#000">7</text>
<text class="dj" x="1230.34" y="713.3" font-size="23" text-anchor="middle" fill="#000">8</text>
<text class="dj" x="1278.16" y="713.3" font-size="23" text-anchor="middle" fill="#000">9</text>
<text class="dj" x="1325.98" y="713.3" font-size="23" text-anchor="middle" fill="#000">10</text>
<text class="dj" x="1373.8" y="713.3" font-size="23" text-anchor="middle" fill="#000">11</text>
<text class="dj" x="860.3" y="655.2" font-size="23" text-anchor="end" fill="#000">10<tspan font-size="17.3" dy="-8.7">2</tspan></text>
<text class="dj" x="860.3" y="603.48" font-size="23" text-anchor="end" fill="#000">10<tspan font-size="17.3" dy="-8.7">4</tspan></text>
<text class="dj" x="860.3" y="551.76" font-size="23" text-anchor="end" fill="#000">10<tspan font-size="17.3" dy="-8.7">6</tspan></text>
<text class="dj" x="860.3" y="500.04" font-size="23" text-anchor="end" fill="#000">10<tspan font-size="17.3" dy="-8.7">8</tspan></text>
<text class="dj" x="860.3" y="448.32" font-size="23" text-anchor="end" fill="#000">10<tspan font-size="17.3" dy="-8.7">10</tspan></text>
<text x="1142.3" y="741.3" font-size="24" text-anchor="middle" fill="#000" style="font-family:'Liberation Serif','DejaVu Serif',serif;font-style:italic">S</text>
<text transform="translate(799.0,552.5) rotate(-90)" font-size="26" text-anchor="middle" fill="#000" style="font-family:'Liberation Serif','DejaVu Serif',serif;font-style:italic">N<tspan font-size="18" dy="4.5">S</tspan></text>
<!-- p_table -->
<g><rect x="21.6" y="798.5" width="41.8" height="44.0" fill="#d5d5d5"/><rect x="797.48" y="798.5" width="41.8" height="44.0" fill="#d5d5d5"/><rect x="21.6" y="846.68" width="41.8" height="44.0" fill="#d5d5d5"/><rect x="67.24" y="846.68" width="41.8" height="44.0" fill="#69a4b0"/><rect x="569.28" y="846.68" width="41.8" height="44.0" fill="#ddea67"/><rect x="614.92" y="846.68" width="41.8" height="44.0" fill="#64bfaa"/><rect x="660.56" y="846.68" width="41.8" height="44.0" fill="#d5d5d5"/><rect x="706.2" y="846.68" width="41.8" height="44.0" fill="#d5d5d5"/><rect x="751.84" y="846.68" width="41.8" height="44.0" fill="#d5d5d5"/><rect x="797.48" y="846.68" width="41.8" height="44.0" fill="#d5d5d5"/><rect x="21.6" y="894.86" width="41.8" height="44.0" fill="#d5d5d5"/><rect x="67.24" y="894.86" width="41.8" height="44.0" fill="#a2df85"/><rect x="569.28" y="894.86" width="41.8" height="44.0" fill="#feee66"/><rect x="614.92" y="894.86" width="41.8" height="44.0" fill="#d9ea68"/><rect x="660.56" y="894.86" width="41.8" height="44.0" fill="#a6e082"/><rect x="706.2" y="894.86" width="41.8" height="44.0" fill="#d5d5d5"/><rect x="751.84" y="894.86" width="41.8" height="44.0" fill="#d5d5d5"/><rect x="797.48" y="894.86" width="41.8" height="44.0" fill="#d5d5d5"/><rect x="21.6" y="943.04" width="41.8" height="44.0" fill="#d5d5d5"/><rect x="67.24" y="943.04" width="41.8" height="44.0" fill="#64bfaa"/><rect x="112.88" y="943.04" width="41.8" height="44.0" fill="#7c4d87"/><rect x="158.52" y="943.04" width="41.8" height="44.0" fill="#87d695"/><rect x="204.16" y="943.04" width="41.8" height="44.0" fill="#64bfaa"/><rect x="249.8" y="943.04" width="41.8" height="44.0" fill="#74cda0"/><rect x="295.44" y="943.04" width="41.8" height="44.0" fill="#6ec9a4"/><rect x="341.08" y="943.04" width="41.8" height="44.0" fill="#f0ed67"/><rect x="386.72" y="943.04" width="41.8" height="44.0" fill="#d4e968"/><rect x="432.36" y="943.04" width="41.8" height="44.0" fill="#ebec67"/><rect x="478" y="943.04" width="41.8" height="44.0" fill="#cfe968"/><rect x="523.64" y="943.04" width="41.8" height="44.0" fill="#64b5ae"/><rect x="569.28" y="943.04" width="41.8" height="44.0" fill="#6aa0b0"/><rect x="614.92" y="943.04" width="41.8" height="44.0" fill="#72cca1"/><rect x="660.56" y="943.04" width="41.8" height="44.0" fill="#d5d5d5"/><rect x="706.2" y="943.04" width="41.8" height="44.0" fill="#d5d5d5"/><rect x="751.84" y="943.04" width="41.8" height="44.0" fill="#d5d5d5"/><rect x="797.48" y="943.04" width="41.8" height="44.0" fill="#d5d5d5"/><rect x="21.6" y="991.22" width="41.8" height="44.0" fill="#d5d5d5"/><rect x="67.24" y="991.22" width="41.8" height="44.0" fill="#7d6ca2"/><rect x="112.88" y="991.22" width="41.8" height="44.0" fill="#64b6ad"/><rect x="158.52" y="991.22" width="41.8" height="44.0" fill="#f0ed67"/><rect x="204.16" y="991.22" width="41.8" height="44.0" fill="#92da8e"/><rect x="249.8" y="991.22" width="41.8" height="44.0" fill="#74cda0"/><rect x="295.44" y="991.22" width="41.8" height="44.0" fill="#d5d5d5"/><rect x="341.08" y="991.22" width="41.8" height="44.0" fill="#6aa0b0"/><rect x="386.72" y="991.22" width="41.8" height="44.0" fill="#d5d5d5"/><rect x="432.36" y="991.22" width="41.8" height="44.0" fill="#87d695"/><rect x="478" y="991.22" width="41.8" height="44.0" fill="#64bfaa"/><rect x="523.64" y="991.22" width="41.8" height="44.0" fill="#d5d5d5"/><rect x="569.28" y="991.22" width="41.8" height="44.0" fill="#d5d5d5"/><rect x="614.92" y="991.22" width="41.8" height="44.0" fill="#6f96af"/><rect x="660.56" y="991.22" width="41.8" height="44.0" fill="#7d6ca2"/><rect x="706.2" y="991.22" width="41.8" height="44.0" fill="#d5d5d5"/><rect x="751.84" y="991.22" width="41.8" height="44.0" fill="#d5d5d5"/><rect x="797.48" y="991.22" width="41.8" height="44.0" fill="#d5d5d5"/><rect x="21.6" y="1039.4" width="41.8" height="44.0" fill="#d5d5d5"/><rect x="67.24" y="1039.4" width="41.8" height="44.0" fill="#7784ad"/><rect x="112.88" y="1039.4" width="41.8" height="44.0" fill="#d5d5d5"/><rect x="158.52" y="1039.4" width="41.8" height="44.0" fill="#64bfaa"/><rect x="204.16" y="1039.4" width="41.8" height="44.0" fill="#64bdab"/><rect x="249.8" y="1039.4" width="41.8" height="44.0" fill="#64baac"/><rect x="295.44" y="1039.4" width="41.8" height="44.0" fill="#d5d5d5"/><rect x="341.08" y="1039.4" width="41.8" height="44.0" fill="#d5d5d5"/><rect x="386.72" y="1039.4" width="41.8" height="44.0" fill="#d5d5d5"/><rect x="432.36" y="1039.4" width="41.8" height="44.0" fill="#7880ac"/><rect x="478" y="1039.4" width="41.8" height="44.0" fill="#64c2a9"/><rect x="523.64" y="1039.4" width="41.8" height="44.0" fill="#d5d5d5"/><rect x="569.28" y="1039.4" width="41.8" height="44.0" fill="#d5d5d5"/><rect x="614.92" y="1039.4" width="41.8" height="44.0" fill="#7e6aa1"/><rect x="660.56" y="1039.4" width="41.8" height="44.0" fill="#d5d5d5"/><rect x="706.2" y="1039.4" width="41.8" height="44.0" fill="#d5d5d5"/><rect x="751.84" y="1039.4" width="41.8" height="44.0" fill="#d5d5d5"/><rect x="797.48" y="1039.4" width="41.8" height="44.0" fill="#d5d5d5"/><rect x="21.6" y="1087.58" width="41.8" height="44.0" fill="#d5d5d5"/><rect x="67.24" y="1087.58" width="41.8" height="44.0" fill="#d5d5d5"/><rect x="112.88" y="1087.58" width="41.8" height="44.0" fill="#d5d5d5"/><rect x="158.52" y="1087.58" width="41.8" height="44.0" fill="#d5d5d5"/><rect x="204.16" y="1087.58" width="41.8" height="44.0" fill="#d5d5d5"/><rect x="249.8" y="1087.58" width="41.8" height="44.0" fill="#d5d5d5"/><rect x="295.44" y="1087.58" width="41.8" height="44.0" fill="#d5d5d5"/><rect x="341.08" y="1087.58" width="41.8" height="44.0" fill="#d5d5d5"/><rect x="386.72" y="1087.58" width="41.8" height="44.0" fill="#d5d5d5"/><rect x="432.36" y="1087.58" width="41.8" height="44.0" fill="#d5d5d5"/><rect x="478" y="1087.58" width="41.8" height="44.0" fill="#d5d5d5"/><rect x="523.64" y="1087.58" width="41.8" height="44.0" fill="#d5d5d5"/><rect x="569.28" y="1087.58" width="41.8" height="44.0" fill="#d5d5d5"/><rect x="614.92" y="1087.58" width="41.8" height="44.0" fill="#d5d5d5"/><rect x="660.56" y="1087.58" width="41.8" height="44.0" fill="#d5d5d5"/><rect x="706.2" y="1087.58" width="41.8" height="44.0" fill="#d5d5d5"/><rect x="751.84" y="1087.58" width="41.8" height="44.0" fill="#d5d5d5"/><rect x="797.48" y="1087.58" width="41.8" height="44.0" fill="#d5d5d5"/><rect x="158.52" y="1183.94" width="41.8" height="44.0" fill="#74cda0"/><rect x="204.16" y="1183.94" width="41.8" height="44.0" fill="#64bfaa"/><rect x="249.8" y="1183.94" width="41.8" height="44.0" fill="#6aa0b0"/><rect x="295.44" y="1183.94" width="41.8" height="44.0" fill="#6b9fb0"/><rect x="341.08" y="1183.94" width="41.8" height="44.0" fill="#d5d5d5"/><rect x="386.72" y="1183.94" width="41.8" height="44.0" fill="#7880ac"/><rect x="432.36" y="1183.94" width="41.8" height="44.0" fill="#d5d5d5"/><rect x="478" y="1183.94" width="41.8" height="44.0" fill="#64baac"/><rect x="523.64" y="1183.94" width="41.8" height="44.0" fill="#64b5ae"/><rect x="569.28" y="1183.94" width="41.8" height="44.0" fill="#7880ac"/><rect x="614.92" y="1183.94" width="41.8" height="44.0" fill="#d5d5d5"/><rect x="660.56" y="1183.94" width="41.8" height="44.0" fill="#6d9ab0"/><rect x="706.2" y="1183.94" width="41.8" height="44.0" fill="#d5d5d5"/><rect x="751.84" y="1183.94" width="41.8" height="44.0" fill="#7092af"/><rect x="158.52" y="1232.12" width="41.8" height="44.0" fill="#d5d5d5"/><rect x="204.16" y="1232.12" width="41.8" height="44.0" fill="#d5d5d5"/><rect x="249.8" y="1232.12" width="41.8" height="44.0" fill="#d5d5d5"/><rect x="295.44" y="1232.12" width="41.8" height="44.0" fill="#d5d5d5"/><rect x="341.08" y="1232.12" width="41.8" height="44.0" fill="#d5d5d5"/><rect x="386.72" y="1232.12" width="41.8" height="44.0" fill="#d5d5d5"/><rect x="432.36" y="1232.12" width="41.8" height="44.0" fill="#d5d5d5"/><rect x="478" y="1232.12" width="41.8" height="44.0" fill="#d5d5d5"/><rect x="523.64" y="1232.12" width="41.8" height="44.0" fill="#d5d5d5"/><rect x="569.28" y="1232.12" width="41.8" height="44.0" fill="#d5d5d5"/><rect x="614.92" y="1232.12" width="41.8" height="44.0" fill="#d5d5d5"/><rect x="660.56" y="1232.12" width="41.8" height="44.0" fill="#d5d5d5"/><rect x="706.2" y="1232.12" width="41.8" height="44.0" fill="#d5d5d5"/><rect x="751.84" y="1232.12" width="41.8" height="44.0" fill="#d5d5d5"/></g>
<g font-size="12.4" fill="#000"><text x="24.2" y="810.75">1</text><text x="800.08" y="810.75">2</text><text x="24.2" y="858.93">3</text><text x="69.84" y="858.93">4</text><text x="571.88" y="858.93">5</text><text x="617.52" y="858.93">6</text><text x="663.16" y="858.93">7</text><text x="708.8" y="858.93">8</text><text x="754.44" y="858.93">9</text><text x="800.08" y="858.93">10</text><text x="24.2" y="907.11">11</text><text x="69.84" y="907.11">12</text><text x="571.88" y="907.11">13</text><text x="617.52" y="907.11">14</text><text x="663.16" y="907.11">15</text><text x="708.8" y="907.11">16</text><text x="754.44" y="907.11">17</text><text x="800.08" y="907.11">18</text><text x="24.2" y="955.29">19</text><text x="69.84" y="955.29">20</text><text x="115.48" y="955.29">21</text><text x="161.12" y="955.29">22</text><text x="206.76" y="955.29">23</text><text x="252.4" y="955.29">24</text><text x="298.04" y="955.29">25</text><text x="343.68" y="955.29">26</text><text x="389.32" y="955.29">27</text><text x="434.96" y="955.29">28</text><text x="480.6" y="955.29">29</text><text x="526.24" y="955.29">30</text><text x="571.88" y="955.29">31</text><text x="617.52" y="955.29">32</text><text x="663.16" y="955.29">33</text><text x="708.8" y="955.29">34</text><text x="754.44" y="955.29">35</text><text x="800.08" y="955.29">36</text><text x="24.2" y="1003.47">37</text><text x="69.84" y="1003.47">38</text><text x="115.48" y="1003.47">39</text><text x="161.12" y="1003.47">40</text><text x="206.76" y="1003.47">41</text><text x="252.4" y="1003.47">42</text><text x="298.04" y="1003.47">43</text><text x="343.68" y="1003.47">44</text><text x="389.32" y="1003.47">45</text><text x="434.96" y="1003.47">46</text><text x="480.6" y="1003.47">47</text><text x="526.24" y="1003.47">48</text><text x="571.88" y="1003.47">49</text><text x="617.52" y="1003.47">50</text><text x="663.16" y="1003.47">51</text><text x="708.8" y="1003.47">52</text><text x="754.44" y="1003.47">53</text><text x="800.08" y="1003.47">54</text><text x="24.2" y="1051.65">55</text><text x="69.84" y="1051.65">56</text><text x="115.48" y="1051.65">71</text><text x="161.12" y="1051.65">72</text><text x="206.76" y="1051.65">73</text><text x="252.4" y="1051.65">74</text><text x="298.04" y="1051.65">75</text><text x="343.68" y="1051.65">76</text><text x="389.32" y="1051.65">77</text><text x="434.96" y="1051.65">78</text><text x="480.6" y="1051.65">79</text><text x="526.24" y="1051.65">80</text><text x="571.88" y="1051.65">81</text><text x="617.52" y="1051.65">82</text><text x="663.16" y="1051.65">83</text><text x="708.8" y="1051.65">84</text><text x="754.44" y="1051.65">85</text><text x="800.08" y="1051.65">86</text><text x="24.2" y="1099.83">87</text><text x="69.84" y="1099.83">88</text><text x="115.48" y="1099.83">103</text><text x="161.12" y="1099.83">104</text><text x="206.76" y="1099.83">105</text><text x="252.4" y="1099.83">106</text><text x="298.04" y="1099.83">107</text><text x="343.68" y="1099.83">108</text><text x="389.32" y="1099.83">109</text><text x="434.96" y="1099.83">110</text><text x="480.6" y="1099.83">111</text><text x="526.24" y="1099.83">112</text><text x="571.88" y="1099.83">113</text><text x="617.52" y="1099.83">114</text><text x="663.16" y="1099.83">115</text><text x="708.8" y="1099.83">116</text><text x="754.44" y="1099.83">117</text><text x="800.08" y="1099.83">118</text><text x="161.12" y="1196.19">57</text><text x="206.76" y="1196.19">58</text><text x="252.4" y="1196.19">59</text><text x="298.04" y="1196.19">60</text><text x="343.68" y="1196.19">61</text><text x="389.32" y="1196.19">62</text><text x="434.96" y="1196.19">63</text><text x="480.6" y="1196.19">64</text><text x="526.24" y="1196.19">65</text><text x="571.88" y="1196.19">66</text><text x="617.52" y="1196.19">67</text><text x="663.16" y="1196.19">68</text><text x="708.8" y="1196.19">69</text><text x="754.44" y="1196.19">70</text><text x="161.12" y="1244.37">89</text><text x="206.76" y="1244.37">90</text><text x="252.4" y="1244.37">91</text><text x="298.04" y="1244.37">92</text><text x="343.68" y="1244.37">93</text><text x="389.32" y="1244.37">94</text><text x="434.96" y="1244.37">95</text><text x="480.6" y="1244.37">96</text><text x="526.24" y="1244.37">97</text><text x="571.88" y="1244.37">98</text><text x="617.52" y="1244.37">99</text><text x="663.16" y="1244.37">100</text><text x="708.8" y="1244.37">101</text><text x="754.44" y="1244.37">102</text></g>
<g font-size="18" font-weight="bold" fill="#000" stroke="#000" stroke-width="0.35"><text x="24.4" y="826.6">H</text><text x="800.28" y="826.6">He</text><text x="24.4" y="874.78">Li</text><text x="70.04" y="874.78">Be</text><text x="572.08" y="874.78">B</text><text x="617.72" y="874.78">C</text><text x="663.36" y="874.78">N</text><text x="709" y="874.78">O</text><text x="754.64" y="874.78">F</text><text x="800.28" y="874.78">Ne</text><text x="24.4" y="922.96">Na</text><text x="70.04" y="922.96">Mg</text><text x="572.08" y="922.96">Al</text><text x="617.72" y="922.96">Si</text><text x="663.36" y="922.96">P</text><text x="709" y="922.96">S</text><text x="754.64" y="922.96">Cl</text><text x="800.28" y="922.96">Ar</text><text x="24.4" y="971.14">K</text><text x="70.04" y="971.14">Ca</text><text x="115.68" y="971.14">Sc</text><text x="161.32" y="971.14">Ti</text><text x="206.96" y="971.14">V</text><text x="252.6" y="971.14">Cr</text><text x="298.24" y="971.14">Mn</text><text x="343.88" y="971.14">Fe</text><text x="389.52" y="971.14">Co</text><text x="435.16" y="971.14">Ni</text><text x="480.8" y="971.14">Cu</text><text x="526.44" y="971.14">Zn</text><text x="572.08" y="971.14">Ga</text><text x="617.72" y="971.14">Ge</text><text x="663.36" y="971.14">As</text><text x="709" y="971.14">Se</text><text x="754.64" y="971.14">Br</text><text x="800.28" y="971.14">Kr</text><text x="24.4" y="1019.32">Rb</text><text x="70.04" y="1019.32">Sr</text><text x="115.68" y="1019.32">Y</text><text x="161.32" y="1019.32">Zr</text><text x="206.96" y="1019.32">Nb</text><text x="252.6" y="1019.32">Mo</text><text x="298.24" y="1019.32">Tc</text><text x="343.88" y="1019.32">Ru</text><text x="389.52" y="1019.32">Rh</text><text x="435.16" y="1019.32">Pd</text><text x="480.8" y="1019.32">Ag</text><text x="526.44" y="1019.32">Cd</text><text x="572.08" y="1019.32">In</text><text x="617.72" y="1019.32">Sn</text><text x="663.36" y="1019.32">Sb</text><text x="709" y="1019.32">Te</text><text x="754.64" y="1019.32">I</text><text x="800.28" y="1019.32">Xe</text><text x="24.4" y="1067.5">Cs</text><text x="70.04" y="1067.5">Ba</text><text x="115.68" y="1067.5">Lu</text><text x="161.32" y="1067.5">Hf</text><text x="206.96" y="1067.5">Ta</text><text x="252.6" y="1067.5">W</text><text x="298.24" y="1067.5">Re</text><text x="343.88" y="1067.5">Os</text><text x="389.52" y="1067.5">Ir</text><text x="435.16" y="1067.5">Pt</text><text x="480.8" y="1067.5">Au</text><text x="526.44" y="1067.5">Hg</text><text x="572.08" y="1067.5">Tl</text><text x="617.72" y="1067.5">Pb</text><text x="663.36" y="1067.5">Bi</text><text x="709" y="1067.5">Po</text><text x="754.64" y="1067.5">At</text><text x="800.28" y="1067.5">Rn</text><text x="24.4" y="1115.68">Fr</text><text x="70.04" y="1115.68">Ra</text><text x="115.68" y="1115.68">Lr</text><text x="161.32" y="1115.68">Rf</text><text x="206.96" y="1115.68">Db</text><text x="252.6" y="1115.68">Sg</text><text x="298.24" y="1115.68">Bh</text><text x="343.88" y="1115.68">Hs</text><text x="389.52" y="1115.68">Mt</text><text x="435.16" y="1115.68">Ds</text><text x="480.8" y="1115.68">Rg</text><text x="526.44" y="1115.68">Cn</text><text x="572.08" y="1115.68">Nh</text><text x="617.72" y="1115.68">Fl</text><text x="663.36" y="1115.68">Mc</text><text x="709" y="1115.68">Lv</text><text x="754.64" y="1115.68">Ts</text><text x="800.28" y="1115.68">Og</text><text x="161.32" y="1212.04">La</text><text x="206.96" y="1212.04">Ce</text><text x="252.6" y="1212.04">Pr</text><text x="298.24" y="1212.04">Nd</text><text x="343.88" y="1212.04">Pm</text><text x="389.52" y="1212.04">Sm</text><text x="435.16" y="1212.04">Eu</text><text x="480.8" y="1212.04">Gd</text><text x="526.44" y="1212.04">Tb</text><text x="572.08" y="1212.04">Dy</text><text x="617.72" y="1212.04">Ho</text><text x="663.36" y="1212.04">Er</text><text x="709" y="1212.04">Tm</text><text x="754.64" y="1212.04">Yb</text><text x="161.32" y="1260.22">Ac</text><text x="206.96" y="1260.22">Th</text><text x="252.6" y="1260.22">Pa</text><text x="298.24" y="1260.22">U</text><text x="343.88" y="1260.22">Np</text><text x="389.52" y="1260.22">Pu</text><text x="435.16" y="1260.22">Am</text><text x="480.8" y="1260.22">Cm</text><text x="526.44" y="1260.22">Bk</text><text x="572.08" y="1260.22">Cf</text><text x="617.72" y="1260.22">Es</text><text x="663.36" y="1260.22">Fm</text><text x="709" y="1260.22">Md</text><text x="754.64" y="1260.22">No</text></g>
<g font-size="10.9" font-weight="bold" fill="#fff" stroke="#fff" stroke-width="2.3" stroke-linejoin="round"><text transform="translate(68.84,889.08) scale(0.74,1)">B</text><text transform="translate(570.88,889.08) scale(0.74,1)">B</text><text transform="translate(616.52,889.08) scale(0.74,1)">B</text><text transform="translate(68.84,937.26) scale(0.74,1)">B</text><text transform="translate(570.88,937.26) scale(0.74,1)">B</text><text transform="translate(616.52,937.26) scale(0.74,1)">B</text><text transform="translate(662.16,937.26) scale(0.74,1)">B</text><text transform="translate(68.84,985.44) scale(0.74,1)">B</text><text transform="translate(114.48,985.44) scale(0.74,1)">B</text><text transform="translate(160.12,985.44) scale(0.74,1)">B</text><text transform="translate(251.4,985.44) scale(0.74,1)">B</text><text transform="translate(297.04,985.44) scale(0.74,1)">B</text><text transform="translate(342.68,985.44) scale(0.74,1)">B</text><text transform="translate(388.32,985.44) scale(0.74,1)">B</text><text transform="translate(433.96,985.44) scale(0.74,1)">B</text><text transform="translate(479.6,985.44) scale(0.74,1)">B</text><text transform="translate(525.24,985.44) scale(0.74,1)">B</text><text transform="translate(616.52,985.44) scale(0.74,1)">B</text><text transform="translate(114.48,1033.62) scale(0.74,1)">B</text><text transform="translate(160.12,1033.62) scale(0.74,1)">B</text><text transform="translate(205.76,1033.62) scale(0.74,1)">B</text><text transform="translate(251.4,1033.62) scale(0.74,1)">B</text><text transform="translate(342.68,1033.62) scale(0.74,1)">B</text><text transform="translate(433.96,1033.62) scale(0.74,1)">B</text><text transform="translate(479.6,1033.62) scale(0.74,1)">B</text><text transform="translate(616.52,1033.62) scale(0.74,1)">B</text><text transform="translate(662.16,1033.62) scale(0.74,1)">B</text><text transform="translate(160.12,1081.8) scale(0.74,1)">B</text><text transform="translate(205.76,1081.8) scale(0.74,1)">B</text><text transform="translate(433.96,1081.8) scale(0.74,1)">B</text><text transform="translate(479.6,1081.8) scale(0.74,1)">B</text><text transform="translate(160.12,1226.34) scale(0.74,1)">B</text><text transform="translate(205.76,1226.34) scale(0.74,1)">B</text><text transform="translate(297.04,1226.34) scale(0.74,1)">B</text><text transform="translate(388.32,1226.34) scale(0.74,1)">B</text><text transform="translate(479.6,1226.34) scale(0.74,1)">B</text><text transform="translate(525.24,1226.34) scale(0.74,1)">B</text><text transform="translate(753.44,1226.34) scale(0.74,1)">B</text><text transform="translate(101.34,889.08) scale(0.86,1)">T</text><text transform="translate(603.38,889.08) scale(0.86,1)">T</text><text transform="translate(649.02,889.08) scale(0.86,1)">T</text><text transform="translate(101.34,937.26) scale(0.86,1)">T</text><text transform="translate(603.38,937.26) scale(0.86,1)">T</text><text transform="translate(649.02,937.26) scale(0.86,1)">T</text><text transform="translate(694.66,937.26) scale(0.86,1)">T</text><text transform="translate(101.34,985.44) scale(0.86,1)">T</text><text transform="translate(146.98,985.44) scale(0.86,1)">T</text><text transform="translate(192.62,985.44) scale(0.86,1)">T</text><text transform="translate(238.26,985.44) scale(0.86,1)">T</text><text transform="translate(283.9,985.44) scale(0.86,1)">T</text><text transform="translate(329.54,985.44) scale(0.86,1)">T</text><text transform="translate(375.18,985.44) scale(0.86,1)">T</text><text transform="translate(420.82,985.44) scale(0.86,1)">T</text><text transform="translate(466.46,985.44) scale(0.86,1)">T</text><text transform="translate(512.1,985.44) scale(0.86,1)">T</text><text transform="translate(557.74,985.44) scale(0.86,1)">T</text><text transform="translate(603.38,985.44) scale(0.86,1)">T</text><text transform="translate(649.02,985.44) scale(0.86,1)">T</text><text transform="translate(101.34,1033.62) scale(0.86,1)">T</text><text transform="translate(146.98,1033.62) scale(0.86,1)">T</text><text transform="translate(192.62,1033.62) scale(0.86,1)">T</text><text transform="translate(238.26,1033.62) scale(0.86,1)">T</text><text transform="translate(283.9,1033.62) scale(0.86,1)">T</text><text transform="translate(375.18,1033.62) scale(0.86,1)">T</text><text transform="translate(466.46,1033.62) scale(0.86,1)">T</text><text transform="translate(512.1,1033.62) scale(0.86,1)">T</text><text transform="translate(649.02,1033.62) scale(0.86,1)">T</text><text transform="translate(694.66,1033.62) scale(0.86,1)">T</text><text transform="translate(101.34,1081.8) scale(0.86,1)">T</text><text transform="translate(192.62,1081.8) scale(0.86,1)">T</text><text transform="translate(238.26,1081.8) scale(0.86,1)">T</text><text transform="translate(283.9,1081.8) scale(0.86,1)">T</text><text transform="translate(466.46,1081.8) scale(0.86,1)">T</text><text transform="translate(512.1,1081.8) scale(0.86,1)">T</text><text transform="translate(649.02,1081.8) scale(0.86,1)">T</text><text transform="translate(192.62,1226.34) scale(0.86,1)">T</text><text transform="translate(238.26,1226.34) scale(0.86,1)">T</text><text transform="translate(283.9,1226.34) scale(0.86,1)">T</text><text transform="translate(329.54,1226.34) scale(0.86,1)">T</text><text transform="translate(420.82,1226.34) scale(0.86,1)">T</text><text transform="translate(512.1,1226.34) scale(0.86,1)">T</text><text transform="translate(557.74,1226.34) scale(0.86,1)">T</text><text transform="translate(603.38,1226.34) scale(0.86,1)">T</text><text transform="translate(694.66,1226.34) scale(0.86,1)">T</text><text transform="translate(785.94,1226.34) scale(0.86,1)">T</text></g>
<g font-size="10.9" font-weight="bold" fill="#1010ff" stroke="#1010ff" stroke-width="0.45"><text transform="translate(68.84,889.08) scale(0.74,1)">B</text><text transform="translate(570.88,889.08) scale(0.74,1)">B</text><text transform="translate(616.52,889.08) scale(0.74,1)">B</text><text transform="translate(68.84,937.26) scale(0.74,1)">B</text><text transform="translate(570.88,937.26) scale(0.74,1)">B</text><text transform="translate(616.52,937.26) scale(0.74,1)">B</text><text transform="translate(662.16,937.26) scale(0.74,1)">B</text><text transform="translate(68.84,985.44) scale(0.74,1)">B</text><text transform="translate(114.48,985.44) scale(0.74,1)">B</text><text transform="translate(160.12,985.44) scale(0.74,1)">B</text><text transform="translate(251.4,985.44) scale(0.74,1)">B</text><text transform="translate(297.04,985.44) scale(0.74,1)">B</text><text transform="translate(342.68,985.44) scale(0.74,1)">B</text><text transform="translate(388.32,985.44) scale(0.74,1)">B</text><text transform="translate(433.96,985.44) scale(0.74,1)">B</text><text transform="translate(479.6,985.44) scale(0.74,1)">B</text><text transform="translate(525.24,985.44) scale(0.74,1)">B</text><text transform="translate(616.52,985.44) scale(0.74,1)">B</text><text transform="translate(114.48,1033.62) scale(0.74,1)">B</text><text transform="translate(160.12,1033.62) scale(0.74,1)">B</text><text transform="translate(205.76,1033.62) scale(0.74,1)">B</text><text transform="translate(251.4,1033.62) scale(0.74,1)">B</text><text transform="translate(342.68,1033.62) scale(0.74,1)">B</text><text transform="translate(433.96,1033.62) scale(0.74,1)">B</text><text transform="translate(479.6,1033.62) scale(0.74,1)">B</text><text transform="translate(616.52,1033.62) scale(0.74,1)">B</text><text transform="translate(662.16,1033.62) scale(0.74,1)">B</text><text transform="translate(160.12,1081.8) scale(0.74,1)">B</text><text transform="translate(205.76,1081.8) scale(0.74,1)">B</text><text transform="translate(433.96,1081.8) scale(0.74,1)">B</text><text transform="translate(479.6,1081.8) scale(0.74,1)">B</text><text transform="translate(160.12,1226.34) scale(0.74,1)">B</text><text transform="translate(205.76,1226.34) scale(0.74,1)">B</text><text transform="translate(297.04,1226.34) scale(0.74,1)">B</text><text transform="translate(388.32,1226.34) scale(0.74,1)">B</text><text transform="translate(479.6,1226.34) scale(0.74,1)">B</text><text transform="translate(525.24,1226.34) scale(0.74,1)">B</text><text transform="translate(753.44,1226.34) scale(0.74,1)">B</text></g>
<g font-size="10.9" font-weight="bold" fill="#ff1010" stroke="#ff1010" stroke-width="0.45"><text transform="translate(101.34,889.08) scale(0.86,1)">T</text><text transform="translate(603.38,889.08) scale(0.86,1)">T</text><text transform="translate(649.02,889.08) scale(0.86,1)">T</text><text transform="translate(101.34,937.26) scale(0.86,1)">T</text><text transform="translate(603.38,937.26) scale(0.86,1)">T</text><text transform="translate(649.02,937.26) scale(0.86,1)">T</text><text transform="translate(694.66,937.26) scale(0.86,1)">T</text><text transform="translate(101.34,985.44) scale(0.86,1)">T</text><text transform="translate(146.98,985.44) scale(0.86,1)">T</text><text transform="translate(192.62,985.44) scale(0.86,1)">T</text><text transform="translate(238.26,985.44) scale(0.86,1)">T</text><text transform="translate(283.9,985.44) scale(0.86,1)">T</text><text transform="translate(329.54,985.44) scale(0.86,1)">T</text><text transform="translate(375.18,985.44) scale(0.86,1)">T</text><text transform="translate(420.82,985.44) scale(0.86,1)">T</text><text transform="translate(466.46,985.44) scale(0.86,1)">T</text><text transform="translate(512.1,985.44) scale(0.86,1)">T</text><text transform="translate(557.74,985.44) scale(0.86,1)">T</text><text transform="translate(603.38,985.44) scale(0.86,1)">T</text><text transform="translate(649.02,985.44) scale(0.86,1)">T</text><text transform="translate(101.34,1033.62) scale(0.86,1)">T</text><text transform="translate(146.98,1033.62) scale(0.86,1)">T</text><text transform="translate(192.62,1033.62) scale(0.86,1)">T</text><text transform="translate(238.26,1033.62) scale(0.86,1)">T</text><text transform="translate(283.9,1033.62) scale(0.86,1)">T</text><text transform="translate(375.18,1033.62) scale(0.86,1)">T</text><text transform="translate(466.46,1033.62) scale(0.86,1)">T</text><text transform="translate(512.1,1033.62) scale(0.86,1)">T</text><text transform="translate(649.02,1033.62) scale(0.86,1)">T</text><text transform="translate(694.66,1033.62) scale(0.86,1)">T</text><text transform="translate(101.34,1081.8) scale(0.86,1)">T</text><text transform="translate(192.62,1081.8) scale(0.86,1)">T</text><text transform="translate(238.26,1081.8) scale(0.86,1)">T</text><text transform="translate(283.9,1081.8) scale(0.86,1)">T</text><text transform="translate(466.46,1081.8) scale(0.86,1)">T</text><text transform="translate(512.1,1081.8) scale(0.86,1)">T</text><text transform="translate(649.02,1081.8) scale(0.86,1)">T</text><text transform="translate(192.62,1226.34) scale(0.86,1)">T</text><text transform="translate(238.26,1226.34) scale(0.86,1)">T</text><text transform="translate(283.9,1226.34) scale(0.86,1)">T</text><text transform="translate(329.54,1226.34) scale(0.86,1)">T</text><text transform="translate(420.82,1226.34) scale(0.86,1)">T</text><text transform="translate(512.1,1226.34) scale(0.86,1)">T</text><text transform="translate(557.74,1226.34) scale(0.86,1)">T</text><text transform="translate(603.38,1226.34) scale(0.86,1)">T</text><text transform="translate(694.66,1226.34) scale(0.86,1)">T</text><text transform="translate(785.94,1226.34) scale(0.86,1)">T</text></g>
<defs><linearGradient id="gvir" x1="0" y1="0" x2="0" y2="1"><stop offset="0.00" stop-color="#feee66"/><stop offset="0.05" stop-color="#e6eb67"/><stop offset="0.10" stop-color="#cfe968"/><stop offset="0.15" stop-color="#b9e477"/><stop offset="0.20" stop-color="#a2df85"/><stop offset="0.25" stop-color="#8fd890"/><stop offset="0.30" stop-color="#7bd29c"/><stop offset="0.35" stop-color="#70caa2"/><stop offset="0.40" stop-color="#64c2a9"/><stop offset="0.45" stop-color="#64baac"/><stop offset="0.50" stop-color="#64b1af"/><stop offset="0.55" stop-color="#67a9b0"/><stop offset="0.60" stop-color="#6aa0b0"/><stop offset="0.65" stop-color="#6e98b0"/><stop offset="0.70" stop-color="#728faf"/><stop offset="0.75" stop-color="#7686ad"/><stop offset="0.80" stop-color="#7a7cab"/><stop offset="0.85" stop-color="#7c71a5"/><stop offset="0.90" stop-color="#7f669e"/><stop offset="0.95" stop-color="#7e5993"/><stop offset="1.00" stop-color="#7c4d87"/></linearGradient></defs>
<rect x="849.8" y="804.6" width="21.2" height="464.9" fill="url(#gvir)"/>
<g stroke="#ffffff" stroke-width="1" stroke-opacity="0.75"><line x1="866.5" y1="1033.3" x2="871" y2="1033.3"/><line x1="866.5" y1="962.68" x2="871" y2="962.68"/><line x1="866.5" y1="921.37" x2="871" y2="921.37"/><line x1="866.5" y1="892.06" x2="871" y2="892.06"/><line x1="866.5" y1="869.32" x2="871" y2="869.32"/><line x1="866.5" y1="850.75" x2="871" y2="850.75"/><line x1="866.5" y1="835.04" x2="871" y2="835.04"/><line x1="866.5" y1="821.44" x2="871" y2="821.44"/><line x1="866.5" y1="809.43" x2="871" y2="809.43"/></g>
<g font-size="15.5" fill="#3a3a3a"><text x="881.3" y="1038.9">10</text><text x="881.3" y="968.28">20</text><text x="881.3" y="926.97">30</text><text x="881.3" y="897.66">40</text><text x="881.3" y="874.92">50</text><text x="881.3" y="856.35">60</text><text x="881.3" y="840.64">70</text><text x="881.3" y="815.03">90</text></g>
<!-- p_radial -->
<defs><clipPath id="rb1"><path d="M1150.23 941.62L1144.16 852.46A182.97 182.97 0 0 1 1178.9 853.4L1168.01 942.1A93.6 93.6 0 0 0 1150.23 941.62Z"/></clipPath><clipPath id="rb2"><path d="M1168.01 942.1L1182.11 827.26A209.3 209.3 0 0 1 1220.93 835.83L1185.37 945.93A93.6 93.6 0 0 0 1168.01 942.1Z"/></clipPath><clipPath id="rb3"><path d="M1194.36 949.35L1231.8 864.44A186.4 186.4 0 0 1 1262.69 881.74L1209.87 958.04A93.6 93.6 0 0 0 1194.36 949.35Z"/></clipPath><clipPath id="rb4"><path d="M1209.87 958.04L1275.73 862.91A209.3 209.3 0 0 1 1306.12 888.54L1223.47 969.5A93.6 93.6 0 0 0 1209.87 958.04Z"/></clipPath><clipPath id="rb5"><path d="M1229.84 976.71L1307.82 914.65A193.27 193.27 0 0 1 1327.85 945.41L1239.54 991.61A93.6 93.6 0 0 0 1229.84 976.71Z"/></clipPath><clipPath id="rb6"><path d="M1239.54 991.61L1308.58 955.5A171.51 171.51 0 0 1 1320.87 985.67L1246.24 1008.08A93.6 93.6 0 0 0 1239.54 991.61Z"/></clipPath><clipPath id="rb7"><path d="M1248.54 1017.42L1362.18 995.7A209.3 209.3 0 0 1 1365.9 1035.28L1250.2 1035.13A93.6 93.6 0 0 0 1248.54 1017.42Z"/></clipPath><clipPath id="rb8"><path d="M1250.2 1035.13L1357.88 1035.27A201.28 201.28 0 0 1 1354.2 1073.33L1248.49 1052.82A93.6 93.6 0 0 0 1250.2 1035.13Z"/></clipPath><clipPath id="rb9"><path d="M1246.17 1062.16L1276.91 1071.48A125.72 125.72 0 0 1 1267.84 1093.57L1239.42 1078.61A93.6 93.6 0 0 0 1246.17 1062.16Z"/></clipPath><clipPath id="rb10"><path d="M1239.42 1078.61L1288.1 1104.24A148.62 148.62 0 0 1 1272.63 1127.86L1229.68 1093.48A93.6 93.6 0 0 0 1239.42 1078.61Z"/></clipPath><clipPath id="rb11"><path d="M1223.29 1100.68L1247.8 1124.82A128 128 0 0 1 1229.17 1140.44L1209.67 1112.1A93.6 93.6 0 0 0 1223.29 1100.68Z"/></clipPath><clipPath id="rb12"><path d="M1209.67 1112.1L1227.88 1138.56A125.72 125.72 0 0 1 1207.01 1150.17L1194.13 1120.75A93.6 93.6 0 0 0 1209.67 1112.1Z"/></clipPath><clipPath id="rb13"><path d="M1185.13 1124.15L1197.01 1161.28A132.59 132.59 0 0 1 1172.4 1166.64L1167.76 1127.93A93.6 93.6 0 0 0 1185.13 1124.15Z"/></clipPath><clipPath id="rb14"><path d="M1167.76 1127.93L1170.63 1151.86A117.7 117.7 0 0 1 1148.28 1152.41L1149.98 1128.37A93.6 93.6 0 0 0 1167.76 1127.93Z"/></clipPath><clipPath id="rb15"><path d="M1140.43 1127.19L1132.71 1171.23A138.31 138.31 0 0 1 1107.38 1164.26L1123.29 1122.47A93.6 93.6 0 0 0 1140.43 1127.19Z"/></clipPath><clipPath id="rb16"><path d="M1123.29 1122.47L1109.42 1158.91A132.59 132.59 0 0 1 1086.84 1147.75L1107.35 1114.6A93.6 93.6 0 0 0 1123.29 1122.47Z"/></clipPath><clipPath id="rb17"><path d="M1099.44 1109.12L1072.14 1144.52A138.31 138.31 0 0 1 1052.95 1126.58L1086.46 1096.97A93.6 93.6 0 0 0 1099.44 1109.12Z"/></clipPath><clipPath id="rb18"><path d="M1086.46 1096.97L1057.24 1122.79A132.59 132.59 0 0 1 1042.43 1102.41L1076 1082.59A93.6 93.6 0 0 0 1086.46 1096.97Z"/></clipPath><clipPath id="rb19"><path d="M1071.54 1074.07L1004.9 1104.68A166.94 166.94 0 0 1 994.46 1074.73L1065.69 1057.28A93.6 93.6 0 0 0 1071.54 1074.07Z"/></clipPath><clipPath id="rb20"><path d="M1065.69 1057.28L997.8 1073.91A163.5 163.5 0 0 1 993.3 1043.18L1063.12 1039.69A93.6 93.6 0 0 0 1065.69 1057.28Z"/></clipPath><clipPath id="rb21"><path d="M1063.13 1030.06L989.9 1026.2A166.94 166.94 0 0 1 994.57 994.83L1065.75 1012.48A93.6 93.6 0 0 0 1063.13 1030.06Z"/></clipPath><clipPath id="rb22"><path d="M1065.75 1012.48L1020.13 1001.17A140.6 140.6 0 0 1 1028.99 975.97L1071.65 995.71A93.6 93.6 0 0 0 1065.75 1012.48Z"/></clipPath><clipPath id="rb23"><path d="M1076.13 987.19L1011.11 948.56A169.22 169.22 0 0 1 1030.08 922.61L1086.62 972.84A93.6 93.6 0 0 0 1076.13 987.19Z"/></clipPath><clipPath id="rb24"><path d="M1086.62 972.84L1023.24 916.53A178.38 178.38 0 0 1 1048.04 893.45L1099.64 960.73A93.6 93.6 0 0 0 1086.62 972.84Z"/></clipPath><clipPath id="rb25"><path d="M1107.57 955.27L1063.75 884.03A177.24 177.24 0 0 1 1093.97 869.19L1123.53 947.44A93.6 93.6 0 0 0 1107.57 955.27Z"/></clipPath><clipPath id="rb26"><path d="M1123.53 947.44L1117.84 932.39A109.69 109.69 0 0 1 1137.95 926.91L1140.68 942.76A93.6 93.6 0 0 0 1123.53 947.44Z"/></clipPath></defs>
<g><path d="M1150.23 941.62L1144.16 852.46A182.97 182.97 0 0 1 1178.9 853.4L1168.01 942.1A93.6 93.6 0 0 0 1150.23 941.62Z" fill="#d62728"/><path d="M1142.16 864.86L1180.9 903.6M1142.16 923.86L1162.4 944.1" clip-path="url(#rb1)" stroke="#000" stroke-width="2.1" fill="none"/><path d="M1150.23 941.62L1144.16 852.46A182.97 182.97 0 0 1 1178.9 853.4L1168.01 942.1A93.6 93.6 0 0 0 1150.23 941.62Z" fill="none" stroke="#000" stroke-width="2.5" stroke-linejoin="miter"/><path d="M1168.01 942.1L1182.11 827.26A209.3 209.3 0 0 1 1220.93 835.83L1185.37 945.93A93.6 93.6 0 0 0 1168.01 942.1Z" fill="#1f77b4"/><path d="M1166.01 850.69L1191.44 825.26M1166.01 880.29L1221.04 825.26M1166.01 909.89L1222.93 852.97M1166.01 939.49L1222.93 882.57M1187.17 947.93L1222.93 912.17M1216.77 947.93L1222.93 941.77" clip-path="url(#rb2)" stroke="#000" stroke-width="2.1" fill="none"/><path d="M1168.01 942.1L1182.11 827.26A209.3 209.3 0 0 1 1220.93 835.83L1185.37 945.93A93.6 93.6 0 0 0 1168.01 942.1Z" fill="none" stroke="#000" stroke-width="2.5" stroke-linejoin="miter"/><path d="M1194.36 949.35L1231.8 864.44A186.4 186.4 0 0 1 1262.69 881.74L1209.87 958.04A93.6 93.6 0 0 0 1194.36 949.35Z" fill="#d62728"/><path d="M1257.74 862.44L1264.69 869.39M1198.74 862.44L1264.69 928.39M1192.36 915.06L1237.34 960.04" clip-path="url(#rb3)" stroke="#000" stroke-width="2.1" fill="none"/><path d="M1194.36 949.35L1231.8 864.44A186.4 186.4 0 0 1 1262.69 881.74L1209.87 958.04A93.6 93.6 0 0 0 1194.36 949.35Z" fill="none" stroke="#000" stroke-width="2.5" stroke-linejoin="miter"/><path d="M1209.87 958.04L1275.73 862.91A209.3 209.3 0 0 1 1306.12 888.54L1223.47 969.5A93.6 93.6 0 0 0 1209.87 958.04Z" fill="#1f77b4"/><path d="M1207.87 868.03L1214.99 860.91M1207.87 897.63L1244.59 860.91M1207.87 927.23L1274.19 860.91M1207.87 956.83L1303.79 860.91M1222.8 971.5L1308.12 886.18M1252.4 971.5L1308.12 915.78M1282 971.5L1308.12 945.38" clip-path="url(#rb4)" stroke="#000" stroke-width="2.1" fill="none"/><path d="M1209.87 958.04L1275.73 862.91A209.3 209.3 0 0 1 1306.12 888.54L1223.47 969.5A93.6 93.6 0 0 0 1209.87 958.04Z" fill="none" stroke="#000" stroke-width="2.5" stroke-linejoin="miter"/><path d="M1229.84 976.71L1307.82 914.65A193.27 193.27 0 0 1 1327.85 945.41L1239.54 991.61A93.6 93.6 0 0 0 1229.84 976.71Z" fill="#d62728"/><path d="M1307.95 912.65L1329.85 934.55M1248.95 912.65L1329.85 993.55M1227.84 950.54L1270.91 993.61" clip-path="url(#rb5)" stroke="#000" stroke-width="2.1" fill="none"/><path d="M1229.84 976.71L1307.82 914.65A193.27 193.27 0 0 1 1327.85 945.41L1239.54 991.61A93.6 93.6 0 0 0 1229.84 976.71Z" fill="none" stroke="#000" stroke-width="2.5" stroke-linejoin="miter"/><path d="M1239.54 991.61L1308.58 955.5A171.51 171.51 0 0 1 1320.87 985.67L1246.24 1008.08A93.6 93.6 0 0 0 1239.54 991.61Z" fill="#1f77b4"/><path d="M1237.54 956.76L1240.8 953.5M1237.54 986.36L1270.4 953.5M1243.42 1010.08L1300 953.5M1273.02 1010.08L1322.87 960.23M1302.62 1010.08L1322.87 989.83" clip-path="url(#rb6)" stroke="#000" stroke-width="2.1" fill="none"/><path d="M1239.54 991.61L1308.58 955.5A171.51 171.51 0 0 1 1320.87 985.67L1246.24 1008.08A93.6 93.6 0 0 0 1239.54 991.61Z" fill="none" stroke="#000" stroke-width="2.5" stroke-linejoin="miter"/><path d="M1248.54 1017.42L1362.18 995.7A209.3 209.3 0 0 1 1365.9 1035.28L1250.2 1035.13A93.6 93.6 0 0 0 1248.54 1017.42Z" fill="#d62728"/><path d="M1330 993.7L1367.9 1031.6M1271 993.7L1314.58 1037.28M1246.54 1028.24L1255.58 1037.28" clip-path="url(#rb7)" stroke="#000" stroke-width="2.1" fill="none"/><path d="M1248.54 1017.42L1362.18 995.7A209.3 209.3 0 0 1 1365.9 1035.28L1250.2 1035.13A93.6 93.6 0 0 0 1248.54 1017.42Z" fill="none" stroke="#000" stroke-width="2.5" stroke-linejoin="miter"/><path d="M1250.2 1035.13L1357.88 1035.27A201.28 201.28 0 0 1 1354.2 1073.33L1248.49 1052.82A93.6 93.6 0 0 0 1250.2 1035.13Z" fill="#1f77b4"/><path d="M1246.49 1036.61L1249.97 1033.13M1246.49 1066.21L1279.57 1033.13M1266.97 1075.33L1309.17 1033.13M1296.57 1075.33L1338.77 1033.13M1326.17 1075.33L1359.88 1041.62M1355.77 1075.33L1359.88 1071.22" clip-path="url(#rb8)" stroke="#000" stroke-width="2.1" fill="none"/><path d="M1250.2 1035.13L1357.88 1035.27A201.28 201.28 0 0 1 1354.2 1073.33L1248.49 1052.82A93.6 93.6 0 0 0 1250.2 1035.13Z" fill="none" stroke="#000" stroke-width="2.5" stroke-linejoin="miter"/><path d="M1246.17 1062.16L1276.91 1071.48A125.72 125.72 0 0 1 1267.84 1093.57L1239.42 1078.61A93.6 93.6 0 0 0 1246.17 1062.16Z" fill="#d62728"/><path d="M1278.46 1060.16L1278.91 1060.61M1237.42 1078.12L1254.87 1095.57" clip-path="url(#rb9)" stroke="#000" stroke-width="2.1" fill="none"/><path d="M1246.17 1062.16L1276.91 1071.48A125.72 125.72 0 0 1 1267.84 1093.57L1239.42 1078.61A93.6 93.6 0 0 0 1246.17 1062.16Z" fill="none" stroke="#000" stroke-width="2.5" stroke-linejoin="miter"/><path d="M1239.42 1078.61L1288.1 1104.24A148.62 148.62 0 0 1 1272.63 1127.86L1229.68 1093.48A93.6 93.6 0 0 0 1239.42 1078.61Z" fill="#1f77b4"/><path d="M1227.68 1085.02L1236.09 1076.61M1227.68 1114.62L1265.69 1076.61M1242.04 1129.86L1290.1 1081.8M1271.64 1129.86L1290.1 1111.4" clip-path="url(#rb10)" stroke="#000" stroke-width="2.1" fill="none"/><path d="M1239.42 1078.61L1288.1 1104.24A148.62 148.62 0 0 1 1272.63 1127.86L1229.68 1093.48A93.6 93.6 0 0 0 1239.42 1078.61Z" fill="none" stroke="#000" stroke-width="2.5" stroke-linejoin="miter"/><path d="M1223.29 1100.68L1247.8 1124.82A128 128 0 0 1 1229.17 1140.44L1209.67 1112.1A93.6 93.6 0 0 0 1223.29 1100.68Z" fill="#d62728"/><path d="M1207.67 1107.37L1242.74 1142.44" clip-path="url(#rb11)" stroke="#000" stroke-width="2.1" fill="none"/><path d="M1223.29 1100.68L1247.8 1124.82A128 128 0 0 1 1229.17 1140.44L1209.67 1112.1A93.6 93.6 0 0 0 1223.29 1100.68Z" fill="none" stroke="#000" stroke-width="2.5" stroke-linejoin="miter"/><path d="M1209.67 1112.1L1227.88 1138.56A125.72 125.72 0 0 1 1207.01 1150.17L1194.13 1120.75A93.6 93.6 0 0 0 1209.67 1112.1Z" fill="#1f77b4"/><path d="M1192.13 1120.57L1202.6 1110.1M1192.13 1150.17L1229.88 1112.42M1219.73 1152.17L1229.88 1142.02" clip-path="url(#rb12)" stroke="#000" stroke-width="2.1" fill="none"/><path d="M1209.67 1112.1L1227.88 1138.56A125.72 125.72 0 0 1 1207.01 1150.17L1194.13 1120.75A93.6 93.6 0 0 0 1209.67 1112.1Z" fill="none" stroke="#000" stroke-width="2.5" stroke-linejoin="miter"/><path d="M1185.13 1124.15L1197.01 1161.28A132.59 132.59 0 0 1 1172.4 1166.64L1167.76 1127.93A93.6 93.6 0 0 0 1185.13 1124.15Z" fill="#d62728"/><path d="M1165.76 1124.46L1199.01 1157.71" clip-path="url(#rb13)" stroke="#000" stroke-width="2.1" fill="none"/><path d="M1185.13 1124.15L1197.01 1161.28A132.59 132.59 0 0 1 1172.4 1166.64L1167.76 1127.93A93.6 93.6 0 0 0 1185.13 1124.15Z" fill="none" stroke="#000" stroke-width="2.5" stroke-linejoin="miter"/><path d="M1167.76 1127.93L1170.63 1151.86A117.7 117.7 0 0 1 1148.28 1152.41L1149.98 1128.37A93.6 93.6 0 0 0 1167.76 1127.93Z" fill="#1f77b4"/><path d="M1146.28 1136.82L1157.17 1125.93M1158.03 1154.67L1172.63 1140.07" clip-path="url(#rb14)" stroke="#000" stroke-width="2.1" fill="none"/><path d="M1167.76 1127.93L1170.63 1151.86A117.7 117.7 0 0 1 1148.28 1152.41L1149.98 1128.37A93.6 93.6 0 0 0 1167.76 1127.93Z" fill="none" stroke="#000" stroke-width="2.5" stroke-linejoin="miter"/><path d="M1140.43 1127.19L1132.71 1171.23A138.31 138.31 0 0 1 1107.38 1164.26L1123.29 1122.47A93.6 93.6 0 0 0 1140.43 1127.19Z" fill="#d62728"/><path d="M1105.38 1123.08L1142.43 1160.13" clip-path="url(#rb15)" stroke="#000" stroke-width="2.1" fill="none"/><path d="M1140.43 1127.19L1132.71 1171.23A138.31 138.31 0 0 1 1107.38 1164.26L1123.29 1122.47A93.6 93.6 0 0 0 1140.43 1127.19Z" fill="none" stroke="#000" stroke-width="2.5" stroke-linejoin="miter"/><path d="M1123.29 1122.47L1109.42 1158.91A132.59 132.59 0 0 1 1086.84 1147.75L1107.35 1114.6A93.6 93.6 0 0 0 1123.29 1122.47Z" fill="#1f77b4"/><path d="M1084.84 1139.06L1111.3 1112.6M1092.59 1160.91L1125.29 1128.21M1122.19 1160.91L1125.29 1157.81" clip-path="url(#rb16)" stroke="#000" stroke-width="2.1" fill="none"/><path d="M1123.29 1122.47L1109.42 1158.91A132.59 132.59 0 0 1 1086.84 1147.75L1107.35 1114.6A93.6 93.6 0 0 0 1123.29 1122.47Z" fill="none" stroke="#000" stroke-width="2.5" stroke-linejoin="miter"/><path d="M1099.44 1109.12L1072.14 1144.52A138.31 138.31 0 0 1 1052.95 1126.58L1086.46 1096.97A93.6 93.6 0 0 0 1099.44 1109.12Z" fill="#d62728"/><path d="M1077.27 1094.97L1101.44 1119.14M1050.95 1127.65L1069.82 1146.52" clip-path="url(#rb17)" stroke="#000" stroke-width="2.1" fill="none"/><path d="M1099.44 1109.12L1072.14 1144.52A138.31 138.31 0 0 1 1052.95 1126.58L1086.46 1096.97A93.6 93.6 0 0 0 1099.44 1109.12Z" fill="none" stroke="#000" stroke-width="2.5" stroke-linejoin="miter"/><path d="M1086.46 1096.97L1057.24 1122.79A132.59 132.59 0 0 1 1042.43 1102.41L1076 1082.59A93.6 93.6 0 0 0 1086.46 1096.97Z" fill="#1f77b4"/><path d="M1040.43 1094.67L1054.51 1080.59M1040.43 1124.27L1084.11 1080.59M1069.51 1124.79L1088.46 1105.84" clip-path="url(#rb18)" stroke="#000" stroke-width="2.1" fill="none"/><path d="M1086.46 1096.97L1057.24 1122.79A132.59 132.59 0 0 1 1042.43 1102.41L1076 1082.59A93.6 93.6 0 0 0 1086.46 1096.97Z" fill="none" stroke="#000" stroke-width="2.5" stroke-linejoin="miter"/><path d="M1071.54 1074.07L1004.9 1104.68A166.94 166.94 0 0 1 994.46 1074.73L1065.69 1057.28A93.6 93.6 0 0 0 1071.54 1074.07Z" fill="#d62728"/><path d="M1037.58 1055.28L1073.54 1091.24M992.46 1069.16L1029.98 1106.68" clip-path="url(#rb19)" stroke="#000" stroke-width="2.1" fill="none"/><path d="M1071.54 1074.07L1004.9 1104.68A166.94 166.94 0 0 1 994.46 1074.73L1065.69 1057.28A93.6 93.6 0 0 0 1071.54 1074.07Z" fill="none" stroke="#000" stroke-width="2.5" stroke-linejoin="miter"/><path d="M1065.69 1057.28L997.8 1073.91A163.5 163.5 0 0 1 993.3 1043.18L1063.12 1039.69A93.6 93.6 0 0 0 1065.69 1057.28Z" fill="#1f77b4"/><path d="M991.3 1055L1008.61 1037.69M999.99 1075.91L1038.21 1037.69M1029.59 1075.91L1067.69 1037.81M1059.19 1075.91L1067.69 1067.41" clip-path="url(#rb20)" stroke="#000" stroke-width="2.1" fill="none"/><path d="M1065.69 1057.28L997.8 1073.91A163.5 163.5 0 0 1 993.3 1043.18L1063.12 1039.69A93.6 93.6 0 0 0 1065.69 1057.28Z" fill="none" stroke="#000" stroke-width="2.5" stroke-linejoin="miter"/><path d="M1063.13 1030.06L989.9 1026.2A166.94 166.94 0 0 1 994.57 994.83L1065.75 1012.48A93.6 93.6 0 0 0 1063.13 1030.06Z" fill="#d62728"/><path d="M1034.13 992.83L1067.75 1026.45M987.9 1005.6L1014.36 1032.06" clip-path="url(#rb21)" stroke="#000" stroke-width="2.1" fill="none"/><path d="M1063.13 1030.06L989.9 1026.2A166.94 166.94 0 0 1 994.57 994.83L1065.75 1012.48A93.6 93.6 0 0 0 1063.13 1030.06Z" fill="none" stroke="#000" stroke-width="2.5" stroke-linejoin="miter"/><path d="M1065.75 1012.48L1020.13 1001.17A140.6 140.6 0 0 1 1028.99 975.97L1071.65 995.71A93.6 93.6 0 0 0 1065.75 1012.48Z" fill="#1f77b4"/><path d="M1018.13 998.57L1042.73 973.97M1031.82 1014.48L1072.33 973.97M1061.42 1014.48L1073.65 1002.25" clip-path="url(#rb22)" stroke="#000" stroke-width="2.1" fill="none"/><path d="M1065.75 1012.48L1020.13 1001.17A140.6 140.6 0 0 1 1028.99 975.97L1071.65 995.71A93.6 93.6 0 0 0 1065.75 1012.48Z" fill="none" stroke="#000" stroke-width="2.5" stroke-linejoin="miter"/><path d="M1076.13 987.19L1011.11 948.56A169.22 169.22 0 0 1 1030.08 922.61L1086.62 972.84A93.6 93.6 0 0 0 1076.13 987.19Z" fill="#d62728"/><path d="M1079.91 920.61L1088.62 929.32M1020.91 920.61L1088.62 988.32M1009.11 967.81L1030.49 989.19" clip-path="url(#rb23)" stroke="#000" stroke-width="2.1" fill="none"/><path d="M1076.13 987.19L1011.11 948.56A169.22 169.22 0 0 1 1030.08 922.61L1086.62 972.84A93.6 93.6 0 0 0 1076.13 987.19Z" fill="none" stroke="#000" stroke-width="2.5" stroke-linejoin="miter"/><path d="M1086.62 972.84L1023.24 916.53A178.38 178.38 0 0 1 1048.04 893.45L1099.64 960.73A93.6 93.6 0 0 0 1086.62 972.84Z" fill="#1f77b4"/><path d="M1021.24 906.66L1036.45 891.45M1021.24 936.26L1066.05 891.45M1021.24 965.86L1095.65 891.45M1041.86 974.84L1101.64 915.06M1071.46 974.84L1101.64 944.66M1101.06 974.84L1101.64 974.26" clip-path="url(#rb24)" stroke="#000" stroke-width="2.1" fill="none"/><path d="M1086.62 972.84L1023.24 916.53A178.38 178.38 0 0 1 1048.04 893.45L1099.64 960.73A93.6 93.6 0 0 0 1086.62 972.84Z" fill="none" stroke="#000" stroke-width="2.5" stroke-linejoin="miter"/><path d="M1107.57 955.27L1063.75 884.03A177.24 177.24 0 0 1 1093.97 869.19L1123.53 947.44A93.6 93.6 0 0 0 1107.57 955.27Z" fill="#d62728"/><path d="M1085.49 867.19L1125.53 907.23M1061.75 902.45L1116.57 957.27" clip-path="url(#rb25)" stroke="#000" stroke-width="2.1" fill="none"/><path d="M1107.57 955.27L1063.75 884.03A177.24 177.24 0 0 1 1093.97 869.19L1123.53 947.44A93.6 93.6 0 0 0 1107.57 955.27Z" fill="none" stroke="#000" stroke-width="2.5" stroke-linejoin="miter"/><path d="M1123.53 947.44L1117.84 932.39A109.69 109.69 0 0 1 1137.95 926.91L1140.68 942.76A93.6 93.6 0 0 0 1123.53 947.44Z" fill="#1f77b4"/><path d="M1115.84 930.46L1121.39 924.91M1126.46 949.44L1142.68 933.22" clip-path="url(#rb26)" stroke="#000" stroke-width="2.1" fill="none"/><path d="M1123.53 947.44L1117.84 932.39A109.69 109.69 0 0 1 1137.95 926.91L1140.68 942.76A93.6 93.6 0 0 0 1123.53 947.44Z" fill="none" stroke="#000" stroke-width="2.5" stroke-linejoin="miter"/></g>
<g font-size="19.7" fill="#000"><text class="dj" transform="translate(1161.73,845.5) rotate(-83)" text-anchor="start" dy="0.35em">0.77</text><text class="dj" transform="translate(1203.15,824.18) rotate(-83)" text-anchor="start" dy="0.35em">1.00</text><text class="dj" transform="translate(1250.88,866.6) rotate(-55.31)" text-anchor="start" dy="0.35em">0.80</text><text class="dj" transform="translate(1295.79,869.96) rotate(-55.31)" text-anchor="start" dy="0.35em">1.00</text><text class="dj" transform="translate(1324.1,925.95) rotate(-27.62)" text-anchor="start" dy="0.35em">0.86</text><text class="dj" transform="translate(1321.55,967.8) rotate(-27.62)" text-anchor="start" dy="0.35em">0.67</text><text class="dj" transform="translate(1371.55,1014.78) rotate(0.08)" text-anchor="start" dy="0.35em">1.00</text><text class="dj" transform="translate(1363.52,1055.02) rotate(0.08)" text-anchor="start" dy="0.35em">0.93</text><text class="dj" transform="translate(1279,1085.25) rotate(27.77)" text-anchor="start" dy="0.35em">0.27</text><text class="dj" transform="translate(1286.45,1120.03) rotate(27.77)" text-anchor="start" dy="0.35em">0.47</text><text class="dj" transform="translate(1243.1,1138.13) rotate(55.46)" text-anchor="start" dy="0.35em">0.29</text><text class="dj" transform="translate(1220.93,1150.63) rotate(55.46)" text-anchor="start" dy="0.35em">0.27</text><text class="dj" transform="translate(1186.24,1170.99) rotate(83.15)" text-anchor="start" dy="0.35em">0.33</text><text class="dj" transform="translate(1159.63,1159.26) rotate(83.15)" text-anchor="start" dy="0.35em">0.20</text><text class="dj" transform="translate(1118.13,1174.71) rotate(-69.15)" text-anchor="end" dy="0.35em">0.38</text><text class="dj" transform="translate(1094.94,1159.78) rotate(-69.15)" text-anchor="end" dy="0.35em">0.33</text><text class="dj" transform="translate(1057.61,1140.83) rotate(-41.46)" text-anchor="end" dy="0.35em">0.38</text><text class="dj" transform="translate(1044.01,1116.83) rotate(-41.46)" text-anchor="end" dy="0.35em">0.33</text><text class="dj" transform="translate(992.74,1092.12) rotate(-13.77)" text-anchor="end" dy="0.35em">0.63</text><text class="dj" transform="translate(988.29,1059.61) rotate(-13.77)" text-anchor="end" dy="0.35em">0.60</text><text class="dj" transform="translate(984.96,1009.43) rotate(13.92)" text-anchor="end" dy="0.35em">0.63</text><text class="dj" transform="translate(1017.73,986.17) rotate(13.92)" text-anchor="end" dy="0.35em">0.40</text><text class="dj" transform="translate(1014.65,931.24) rotate(41.62)" text-anchor="end" dy="0.35em">0.65</text><text class="dj" transform="translate(1030.6,899.57) rotate(41.62)" text-anchor="end" dy="0.35em">0.73</text><text class="dj" transform="translate(1075.6,869.97) rotate(69.31)" text-anchor="end" dy="0.35em">0.72</text><text class="dj" transform="translate(1126.03,922.81) rotate(69.31)" text-anchor="end" dy="0.35em">0.13</text></g>
<circle cx="1162.2" cy="962.3" r="17.6" fill="#e66032" stroke="#a9482a" stroke-width="1.9"/>
<text x="1162.2" y="969.04" font-size="19" font-weight="bold" text-anchor="middle" fill="#000">Zr</text>
<circle cx="1196.1" cy="975.7" r="13.7" fill="#e9a9ef" stroke="#aa7cae" stroke-width="1.9"/>
<text x="1196.1" y="981.03" font-size="15" font-weight="bold" text-anchor="middle" fill="#000">Ni</text>
<circle cx="1218.1" cy="999.8" r="13.7" fill="#e9a9ef" stroke="#aa7cae" stroke-width="1.9"/>
<text x="1218.1" y="1005.12" font-size="15" font-weight="bold" text-anchor="middle" fill="#000">Fe</text>
<circle cx="1227.3" cy="1030.7" r="15.4" fill="#808087" stroke="#5f5f66" stroke-width="1.9"/>
<text x="1227.3" y="1036.2" font-size="15.5" font-weight="bold" text-anchor="middle" fill="#000">Al</text>
<circle cx="1220.5" cy="1066.3" r="17.6" fill="#e66032" stroke="#a9482a" stroke-width="1.9"/>
<text x="1220.5" y="1073.04" font-size="19" font-weight="bold" text-anchor="middle" fill="#000">Ti</text>
<circle cx="1197.9" cy="1094.9" r="15.8" fill="#e9a9ef" stroke="#aa7cae" stroke-width="1.9"/>
<text x="1197.9" y="1100.58" font-size="16" font-weight="bold" text-anchor="middle" fill="#000">Pd</text>
<circle cx="1163.5" cy="1109.4" r="15.7" fill="#e66032" stroke="#a9482a" stroke-width="1.9"/>
<text x="1163.5" y="1115.08" font-size="16" font-weight="bold" text-anchor="middle" fill="#000">Nb</text>
<circle cx="1127.1" cy="1104.3" r="14.6" fill="#ffffff" stroke="#b0b0b0" stroke-width="1.9"/>
<text x="1127.1" y="1109.8" font-size="15.5" font-weight="bold" text-anchor="middle" fill="#000">Mg</text>
<circle cx="1098.0" cy="1085.2" r="13.7" fill="#f0e476" stroke="#aaa258" stroke-width="1.9"/>
<text x="1098.0" y="1090.53" font-size="15" font-weight="bold" text-anchor="middle" fill="#000">P</text>
<circle cx="1084.2" cy="1054.2" r="14.2" fill="#e9a9ef" stroke="#aa7cae" stroke-width="1.9"/>
<text x="1084.2" y="1059.7" font-size="15.5" font-weight="bold" text-anchor="middle" fill="#000">Cu</text>
<circle cx="1084.7" cy="1018.1" r="14.2" fill="#e9a9ef" stroke="#aa7cae" stroke-width="1.9"/>
<text x="1084.7" y="1023.6" font-size="15.5" font-weight="bold" text-anchor="middle" fill="#000">Co</text>
<circle cx="1100.7" cy="987.4" r="14.1" fill="#f0e476" stroke="#aaa258" stroke-width="1.9"/>
<text x="1100.7" y="992.9" font-size="15.5" font-weight="bold" text-anchor="middle" fill="#000">Si</text>
<circle cx="1126.3" cy="968.3" r="12.9" fill="#f0e476" stroke="#aaa258" stroke-width="1.9"/>
<text x="1126.3" y="973.62" font-size="15" font-weight="bold" text-anchor="middle" fill="#000">B</text>
<rect x="990" y="1244.1" width="53.4" height="20.5" fill="#1f77b4" />
<g stroke="#000" stroke-width="2.0" stroke-linecap="butt"><line x1="990" y1="1262.5" x2="1008.4" y2="1244.1"/><line x1="1018.5" y1="1264.6" x2="1039" y2="1244.1"/></g>
<rect x="990" y="1244.1" width="53.4" height="20.5" fill="none" stroke="#000" stroke-width="2.2" />
<rect x="1188.8" y="1244.1" width="53.4" height="20.5" fill="#d62728" />
<g stroke="#000" stroke-width="2.0" stroke-linecap="butt"><line x1="1222.3" y1="1244.1" x2="1242.2" y2="1264"/></g>
<rect x="1188.8" y="1244.1" width="53.4" height="20.5" fill="none" stroke="#000" stroke-width="2.2" />
<text class="dj" x="1062.6" y="1263.7" font-size="25.6" fill="#000">Binary</text>
<text class="dj" x="1261.8" y="1263.7" font-size="25.6" fill="#000">Ternary</text>
<!-- p_labels -->
<text class="lb" transform="translate(12.4,42.0) scale(0.92,1)" font-size="44.2" fill="#000">a</text>
<text class="lb" transform="translate(649.6,42.0) scale(1.0,1)" font-size="44.2" fill="#000">b</text>
<text class="lb" transform="translate(1036.6,38.6) scale(1.0,1)" font-size="44.2" fill="#000">c</text>
<text class="lb" transform="translate(9.9,422.9) scale(1.0,1)" font-size="44.2" fill="#000">d</text>
<text class="lb" transform="translate(358.8,423.2) scale(1.0,1)" font-size="44.2" fill="#000">e</text>
<text class="lb" transform="translate(764.6,424.4) scale(1.0,1)" font-size="44.2" fill="#000">f</text>
<text class="lb" transform="translate(10.6,777.6) scale(1.0,1)" font-size="44.2" fill="#000">g</text>
<text class="lb" transform="translate(923.4,777.0) scale(1.0,1)" font-size="44.2" fill="#000">h</text>
</svg>
</body></html>
